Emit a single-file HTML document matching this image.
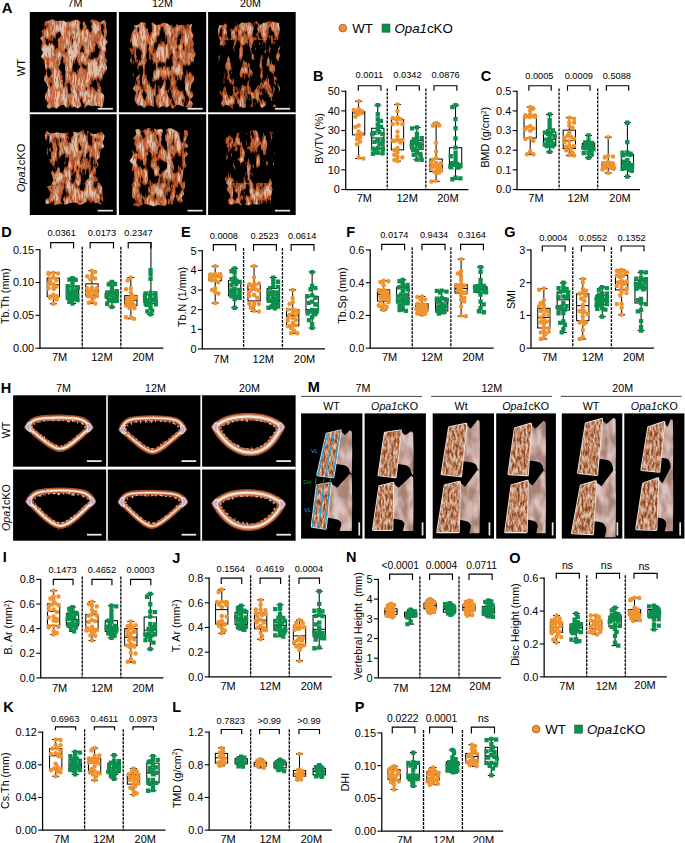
<!DOCTYPE html>
<html><head><meta charset="utf-8"><title>Figure</title>
<style>html,body{margin:0;padding:0;background:#fff}svg{display:block}</style></head>
<body>
<svg width="685" height="843" viewBox="0 0 685 843" font-family="'Liberation Sans', sans-serif">
<defs><clipPath id="cA0"><polygon points="45.0,21.2 48.6,20.7 52.2,19.1 55.9,21.1 59.5,20.8 63.1,20.5 66.8,22.2 70.4,20.7 74.0,20.2 77.6,19.4 81.3,22.5 84.9,21.5 88.5,22.4 92.1,19.2 95.7,19.7 99.4,22.5 105.0,19.8 106.2,23.5 106.1,27.5 107.2,31.2 106.5,34.9 105.7,38.5 107.8,42.1 105.6,45.6 106.1,49.2 106.2,52.8 105.1,56.3 106.8,60.0 106.1,64.0 107.2,68.2 105.1,72.1 102.6,76.0 102.0,79.9 102.7,83.8 101.8,87.6 101.0,91.5 104.2,95.4 104.2,99.2 103.5,103.1 102.0,107.9 98.5,106.2 95.0,105.8 91.5,106.1 88.0,105.1 84.5,108.2 81.0,106.6 77.5,108.5 74.0,106.5 70.5,109.0 67.0,108.5 63.5,104.8 60.0,105.7 56.5,108.8 53.0,106.9 49.5,109.1 46.5,107.0 47.9,103.1 45.4,99.2 44.8,95.4 47.0,91.5 47.8,87.6 46.7,83.8 44.0,79.9 44.9,76.3 46.6,71.6 45.1,67.7 44.7,63.6 43.9,59.9 40.6,56.5 43.1,52.8 41.3,49.3 41.7,45.7 42.6,42.1 40.1,38.6 42.6,35.4 41.4,31.3 44.6,28.5 44.3,24.6"/></clipPath><filter id="t4_325" x="0" y="0" width="100%" height="100%" color-interpolation-filters="sRGB">
<feTurbulence type="fractalNoise" baseFrequency="0.15 0.065" numOctaves="3" seed="4" result="n"/>
<feTurbulence type="fractalNoise" baseFrequency="0.32 0.05" numOctaves="2" seed="54" result="n2"/>
<feColorMatrix in="n" type="matrix" values="1 0 0 0 0  1 0 0 0 0  1 0 0 0 0  0 0 0 0 1" result="g"/>
<feComponentTransfer in="g" result="col"><feFuncR type="table" tableValues="0.16 0.16 0.16 0.16 0.16 0.16 0.16 0.16 0.22 0.49 0.67 0.74 0.79 0.81 0.85 0.86 0.86 0.86 0.86 0.86 0.86 0.86 0.86 0.86 0.86"/><feFuncG type="table" tableValues="0.05 0.05 0.05 0.05 0.05 0.05 0.05 0.05 0.07 0.21 0.34 0.47 0.56 0.63 0.73 0.75 0.75 0.75 0.75 0.75 0.75 0.75 0.75 0.75 0.75"/><feFuncB type="table" tableValues="0.01 0.01 0.01 0.01 0.01 0.01 0.01 0.01 0.02 0.09 0.18 0.32 0.43 0.52 0.65 0.68 0.68 0.68 0.68 0.68 0.68 0.68 0.68 0.68 0.68"/></feComponentTransfer>
<feColorMatrix in="n" type="matrix" values="0 0 0 0 0  0 0 0 0 0  0 0 0 0 0  20 0 0 0 -6.500" result="m"/>
<feComposite in="col" in2="m" operator="in" result="tex"/>
<feColorMatrix in="n2" type="matrix" values="0 0 0 0 0.76  0 0 0 0 0.32  0 0 0 0 0.14  0 1 0 0 0" result="r0"/>
<feComponentTransfer in="r0" result="rd"><feFuncA type="table" tableValues="0 0 0 0 0 0 0 0 0 0 0 0.49 0.9 0.5 0 0 0 0 0 0 0 0 0 0 0"/></feComponentTransfer>
<feColorMatrix in="n" type="matrix" values="0 0 0 0 0  0 0 0 0 0  0 0 0 0 0  20 0 0 0 -5.700" result="m2"/>
<feComposite in="rd" in2="m2" operator="in" result="rdm"/>
<feMerge result="tex2"><feMergeNode in="tex"/><feMergeNode in="rdm"/></feMerge>
<feComposite in="tex2" in2="SourceAlpha" operator="in"/>
</filter><filter id="t4_300" x="0" y="0" width="100%" height="100%" color-interpolation-filters="sRGB">
<feTurbulence type="fractalNoise" baseFrequency="0.15 0.065" numOctaves="3" seed="4" result="n"/>
<feTurbulence type="fractalNoise" baseFrequency="0.32 0.05" numOctaves="2" seed="54" result="n2"/>
<feColorMatrix in="n" type="matrix" values="1 0 0 0 0  1 0 0 0 0  1 0 0 0 0  0 0 0 0 1" result="g"/>
<feComponentTransfer in="g" result="col"><feFuncR type="table" tableValues="0.16 0.16 0.16 0.16 0.16 0.16 0.16 0.16 0.4 0.61 0.71 0.77 0.8 0.84 0.86 0.86 0.86 0.86 0.86 0.86 0.86 0.86 0.86 0.86 0.86"/><feFuncG type="table" tableValues="0.05 0.05 0.05 0.05 0.05 0.05 0.05 0.05 0.15 0.29 0.42 0.53 0.6 0.69 0.75 0.75 0.75 0.75 0.75 0.75 0.75 0.75 0.75 0.75 0.75"/><feFuncB type="table" tableValues="0.01 0.01 0.01 0.01 0.01 0.01 0.01 0.01 0.06 0.14 0.27 0.39 0.48 0.6 0.68 0.68 0.68 0.68 0.68 0.68 0.68 0.68 0.68 0.68 0.68"/></feComponentTransfer>
<feColorMatrix in="n" type="matrix" values="0 0 0 0 0  0 0 0 0 0  0 0 0 0 0  20 0 0 0 -6.000" result="m"/>
<feComposite in="col" in2="m" operator="in" result="tex"/>
<feColorMatrix in="n2" type="matrix" values="0 0 0 0 0.76  0 0 0 0 0.32  0 0 0 0 0.14  0 1 0 0 0" result="r0"/>
<feComponentTransfer in="r0" result="rd"><feFuncA type="table" tableValues="0 0 0 0 0 0 0 0 0 0 0 0.49 0.9 0.5 0 0 0 0 0 0 0 0 0 0 0"/></feComponentTransfer>
<feColorMatrix in="n" type="matrix" values="0 0 0 0 0  0 0 0 0 0  0 0 0 0 0  20 0 0 0 -5.200" result="m2"/>
<feComposite in="rd" in2="m2" operator="in" result="rdm"/>
<feMerge result="tex2"><feMergeNode in="tex"/><feMergeNode in="rdm"/></feMerge>
<feComposite in="tex2" in2="SourceAlpha" operator="in"/>
</filter><filter id="t4_320" x="0" y="0" width="100%" height="100%" color-interpolation-filters="sRGB">
<feTurbulence type="fractalNoise" baseFrequency="0.15 0.065" numOctaves="3" seed="4" result="n"/>
<feTurbulence type="fractalNoise" baseFrequency="0.32 0.05" numOctaves="2" seed="54" result="n2"/>
<feColorMatrix in="n" type="matrix" values="1 0 0 0 0  1 0 0 0 0  1 0 0 0 0  0 0 0 0 1" result="g"/>
<feComponentTransfer in="g" result="col"><feFuncR type="table" tableValues="0.16 0.16 0.16 0.16 0.16 0.16 0.16 0.16 0.26 0.51 0.68 0.75 0.79 0.82 0.86 0.86 0.86 0.86 0.86 0.86 0.86 0.86 0.86 0.86 0.86"/><feFuncG type="table" tableValues="0.05 0.05 0.05 0.05 0.05 0.05 0.05 0.05 0.09 0.22 0.36 0.49 0.57 0.64 0.74 0.75 0.75 0.75 0.75 0.75 0.75 0.75 0.75 0.75 0.75"/><feFuncB type="table" tableValues="0.01 0.01 0.01 0.01 0.01 0.01 0.01 0.01 0.03 0.1 0.2 0.34 0.44 0.53 0.66 0.68 0.68 0.68 0.68 0.68 0.68 0.68 0.68 0.68 0.68"/></feComponentTransfer>
<feColorMatrix in="n" type="matrix" values="0 0 0 0 0  0 0 0 0 0  0 0 0 0 0  20 0 0 0 -6.400" result="m"/>
<feComposite in="col" in2="m" operator="in" result="tex"/>
<feColorMatrix in="n2" type="matrix" values="0 0 0 0 0.76  0 0 0 0 0.32  0 0 0 0 0.14  0 1 0 0 0" result="r0"/>
<feComponentTransfer in="r0" result="rd"><feFuncA type="table" tableValues="0 0 0 0 0 0 0 0 0 0 0 0.49 0.9 0.5 0 0 0 0 0 0 0 0 0 0 0"/></feComponentTransfer>
<feColorMatrix in="n" type="matrix" values="0 0 0 0 0  0 0 0 0 0  0 0 0 0 0  20 0 0 0 -5.600" result="m2"/>
<feComposite in="rd" in2="m2" operator="in" result="rdm"/>
<feMerge result="tex2"><feMergeNode in="tex"/><feMergeNode in="rdm"/></feMerge>
<feComposite in="tex2" in2="SourceAlpha" operator="in"/>
</filter><filter id="t4_310" x="0" y="0" width="100%" height="100%" color-interpolation-filters="sRGB">
<feTurbulence type="fractalNoise" baseFrequency="0.15 0.065" numOctaves="3" seed="4" result="n"/>
<feTurbulence type="fractalNoise" baseFrequency="0.32 0.05" numOctaves="2" seed="54" result="n2"/>
<feColorMatrix in="n" type="matrix" values="1 0 0 0 0  1 0 0 0 0  1 0 0 0 0  0 0 0 0 1" result="g"/>
<feComponentTransfer in="g" result="col"><feFuncR type="table" tableValues="0.16 0.16 0.16 0.16 0.16 0.16 0.16 0.16 0.33 0.56 0.69 0.77 0.8 0.83 0.86 0.86 0.86 0.86 0.86 0.86 0.86 0.86 0.86 0.86 0.86"/><feFuncG type="table" tableValues="0.05 0.05 0.05 0.05 0.05 0.05 0.05 0.05 0.12 0.25 0.39 0.52 0.59 0.67 0.75 0.75 0.75 0.75 0.75 0.75 0.75 0.75 0.75 0.75 0.75"/><feFuncB type="table" tableValues="0.01 0.01 0.01 0.01 0.01 0.01 0.01 0.01 0.04 0.12 0.23 0.37 0.46 0.57 0.68 0.68 0.68 0.68 0.68 0.68 0.68 0.68 0.68 0.68 0.68"/></feComponentTransfer>
<feColorMatrix in="n" type="matrix" values="0 0 0 0 0  0 0 0 0 0  0 0 0 0 0  20 0 0 0 -6.200" result="m"/>
<feComposite in="col" in2="m" operator="in" result="tex"/>
<feColorMatrix in="n2" type="matrix" values="0 0 0 0 0.76  0 0 0 0 0.32  0 0 0 0 0.14  0 1 0 0 0" result="r0"/>
<feComponentTransfer in="r0" result="rd"><feFuncA type="table" tableValues="0 0 0 0 0 0 0 0 0 0 0 0.49 0.9 0.5 0 0 0 0 0 0 0 0 0 0 0"/></feComponentTransfer>
<feColorMatrix in="n" type="matrix" values="0 0 0 0 0  0 0 0 0 0  0 0 0 0 0  20 0 0 0 -5.400" result="m2"/>
<feComposite in="rd" in2="m2" operator="in" result="rdm"/>
<feMerge result="tex2"><feMergeNode in="tex"/><feMergeNode in="rdm"/></feMerge>
<feComposite in="tex2" in2="SourceAlpha" operator="in"/>
</filter><clipPath id="cA1"><polygon points="134.0,25.3 137.7,25.0 141.4,21.9 145.1,22.7 148.8,24.9 152.4,22.3 156.1,25.3 159.8,24.5 163.5,22.4 167.2,23.4 170.9,25.8 174.6,21.8 178.2,25.3 181.9,25.1 185.6,22.8 189.3,24.8 192.1,24.0 191.2,27.8 191.4,31.6 193.7,35.3 192.3,39.1 194.0,42.9 193.1,46.7 193.6,50.5 195.9,54.2 193.9,58.0 194.0,61.9 195.0,65.8 191.8,69.5 191.3,73.3 194.4,77.4 193.7,81.2 190.9,84.9 190.5,88.6 192.7,92.4 193.4,96.1 190.0,99.6 193.1,103.4 191.0,108.7 187.4,107.5 183.8,106.7 180.2,105.3 176.6,105.0 173.0,109.0 169.4,105.8 165.8,107.9 162.2,105.9 158.6,108.4 155.0,107.4 151.4,106.1 147.8,105.6 144.2,108.0 140.6,105.1 138.2,106.8 136.2,103.4 134.5,99.9 135.0,96.1 136.0,92.2 132.7,88.9 135.3,84.8 135.5,81.1 133.9,77.7 132.5,74.2 133.6,70.4 132.5,66.9 131.1,63.5 129.7,60.0 131.8,56.1 131.0,52.0 128.9,47.9 128.7,43.9 130.3,39.9 130.9,35.8 132.1,31.9 134.8,28.3"/></clipPath><filter id="t9_370" x="0" y="0" width="100%" height="100%" color-interpolation-filters="sRGB">
<feTurbulence type="fractalNoise" baseFrequency="0.15 0.065" numOctaves="3" seed="9" result="n"/>
<feTurbulence type="fractalNoise" baseFrequency="0.32 0.05" numOctaves="2" seed="59" result="n2"/>
<feColorMatrix in="n" type="matrix" values="1 0 0 0 0  1 0 0 0 0  1 0 0 0 0  0 0 0 0 1" result="g"/>
<feComponentTransfer in="g" result="col"><feFuncR type="table" tableValues="0.16 0.16 0.16 0.16 0.16 0.16 0.16 0.16 0.16 0.2 0.47 0.66 0.74 0.78 0.81 0.85 0.86 0.86 0.86 0.86 0.86 0.86 0.86 0.86 0.86"/><feFuncG type="table" tableValues="0.05 0.05 0.05 0.05 0.05 0.05 0.05 0.05 0.05 0.06 0.19 0.33 0.46 0.56 0.63 0.72 0.75 0.75 0.75 0.75 0.75 0.75 0.75 0.75 0.75"/><feFuncB type="table" tableValues="0.01 0.01 0.01 0.01 0.01 0.01 0.01 0.01 0.01 0.02 0.08 0.17 0.31 0.42 0.51 0.64 0.68 0.68 0.68 0.68 0.68 0.68 0.68 0.68 0.68"/></feComponentTransfer>
<feColorMatrix in="n" type="matrix" values="0 0 0 0 0  0 0 0 0 0  0 0 0 0 0  20 0 0 0 -7.400" result="m"/>
<feComposite in="col" in2="m" operator="in" result="tex"/>
<feColorMatrix in="n2" type="matrix" values="0 0 0 0 0.76  0 0 0 0 0.32  0 0 0 0 0.14  0 1 0 0 0" result="r0"/>
<feComponentTransfer in="r0" result="rd"><feFuncA type="table" tableValues="0 0 0 0 0 0 0 0 0 0 0 0.49 0.9 0.5 0 0 0 0 0 0 0 0 0 0 0"/></feComponentTransfer>
<feColorMatrix in="n" type="matrix" values="0 0 0 0 0  0 0 0 0 0  0 0 0 0 0  20 0 0 0 -6.600" result="m2"/>
<feComposite in="rd" in2="m2" operator="in" result="rdm"/>
<feMerge result="tex2"><feMergeNode in="tex"/><feMergeNode in="rdm"/></feMerge>
<feComposite in="tex2" in2="SourceAlpha" operator="in"/>
</filter><filter id="t9_470" x="0" y="0" width="100%" height="100%" color-interpolation-filters="sRGB">
<feTurbulence type="fractalNoise" baseFrequency="0.15 0.065" numOctaves="3" seed="9" result="n"/>
<feTurbulence type="fractalNoise" baseFrequency="0.32 0.05" numOctaves="2" seed="59" result="n2"/>
<feColorMatrix in="n" type="matrix" values="1 0 0 0 0  1 0 0 0 0  1 0 0 0 0  0 0 0 0 1" result="g"/>
<feComponentTransfer in="g" result="col"><feFuncR type="table" tableValues="0.16 0.16 0.16 0.16 0.16 0.16 0.16 0.16 0.16 0.16 0.16 0.16 0.38 0.59 0.71 0.77 0.8 0.83 0.86 0.86 0.86 0.86 0.86 0.86 0.86"/><feFuncG type="table" tableValues="0.05 0.05 0.05 0.05 0.05 0.05 0.05 0.05 0.05 0.05 0.05 0.05 0.14 0.28 0.41 0.53 0.6 0.68 0.75 0.75 0.75 0.75 0.75 0.75 0.75"/><feFuncB type="table" tableValues="0.01 0.01 0.01 0.01 0.01 0.01 0.01 0.01 0.01 0.01 0.01 0.01 0.05 0.13 0.25 0.39 0.48 0.59 0.68 0.68 0.68 0.68 0.68 0.68 0.68"/></feComponentTransfer>
<feColorMatrix in="n" type="matrix" values="0 0 0 0 0  0 0 0 0 0  0 0 0 0 0  20 0 0 0 -9.400" result="m"/>
<feComposite in="col" in2="m" operator="in" result="tex"/>
<feColorMatrix in="n2" type="matrix" values="0 0 0 0 0.76  0 0 0 0 0.32  0 0 0 0 0.14  0 1 0 0 0" result="r0"/>
<feComponentTransfer in="r0" result="rd"><feFuncA type="table" tableValues="0 0 0 0 0 0 0 0 0 0 0 0.49 0.9 0.5 0 0 0 0 0 0 0 0 0 0 0"/></feComponentTransfer>
<feColorMatrix in="n" type="matrix" values="0 0 0 0 0  0 0 0 0 0  0 0 0 0 0  20 0 0 0 -8.600" result="m2"/>
<feComposite in="rd" in2="m2" operator="in" result="rdm"/>
<feMerge result="tex2"><feMergeNode in="tex"/><feMergeNode in="rdm"/></feMerge>
<feComposite in="tex2" in2="SourceAlpha" operator="in"/>
</filter><filter id="t9_400" x="0" y="0" width="100%" height="100%" color-interpolation-filters="sRGB">
<feTurbulence type="fractalNoise" baseFrequency="0.15 0.065" numOctaves="3" seed="9" result="n"/>
<feTurbulence type="fractalNoise" baseFrequency="0.32 0.05" numOctaves="2" seed="59" result="n2"/>
<feColorMatrix in="n" type="matrix" values="1 0 0 0 0  1 0 0 0 0  1 0 0 0 0  0 0 0 0 1" result="g"/>
<feComponentTransfer in="g" result="col"><feFuncR type="table" tableValues="0.16 0.16 0.16 0.16 0.16 0.16 0.16 0.16 0.16 0.16 0.28 0.53 0.68 0.76 0.79 0.82 0.86 0.86 0.86 0.86 0.86 0.86 0.86 0.86 0.86"/><feFuncG type="table" tableValues="0.05 0.05 0.05 0.05 0.05 0.05 0.05 0.05 0.05 0.05 0.1 0.23 0.37 0.5 0.58 0.65 0.75 0.75 0.75 0.75 0.75 0.75 0.75 0.75 0.75"/><feFuncB type="table" tableValues="0.01 0.01 0.01 0.01 0.01 0.01 0.01 0.01 0.01 0.01 0.03 0.11 0.21 0.35 0.45 0.55 0.67 0.68 0.68 0.68 0.68 0.68 0.68 0.68 0.68"/></feComponentTransfer>
<feColorMatrix in="n" type="matrix" values="0 0 0 0 0  0 0 0 0 0  0 0 0 0 0  20 0 0 0 -8.000" result="m"/>
<feComposite in="col" in2="m" operator="in" result="tex"/>
<feColorMatrix in="n2" type="matrix" values="0 0 0 0 0.76  0 0 0 0 0.32  0 0 0 0 0.14  0 1 0 0 0" result="r0"/>
<feComponentTransfer in="r0" result="rd"><feFuncA type="table" tableValues="0 0 0 0 0 0 0 0 0 0 0 0.49 0.9 0.5 0 0 0 0 0 0 0 0 0 0 0"/></feComponentTransfer>
<feColorMatrix in="n" type="matrix" values="0 0 0 0 0  0 0 0 0 0  0 0 0 0 0  20 0 0 0 -7.200" result="m2"/>
<feComposite in="rd" in2="m2" operator="in" result="rdm"/>
<feMerge result="tex2"><feMergeNode in="tex"/><feMergeNode in="rdm"/></feMerge>
<feComposite in="tex2" in2="SourceAlpha" operator="in"/>
</filter><filter id="t9_375" x="0" y="0" width="100%" height="100%" color-interpolation-filters="sRGB">
<feTurbulence type="fractalNoise" baseFrequency="0.15 0.065" numOctaves="3" seed="9" result="n"/>
<feTurbulence type="fractalNoise" baseFrequency="0.32 0.05" numOctaves="2" seed="59" result="n2"/>
<feColorMatrix in="n" type="matrix" values="1 0 0 0 0  1 0 0 0 0  1 0 0 0 0  0 0 0 0 1" result="g"/>
<feComponentTransfer in="g" result="col"><feFuncR type="table" tableValues="0.16 0.16 0.16 0.16 0.16 0.16 0.16 0.16 0.16 0.16 0.45 0.64 0.73 0.78 0.81 0.84 0.86 0.86 0.86 0.86 0.86 0.86 0.86 0.86 0.86"/><feFuncG type="table" tableValues="0.05 0.05 0.05 0.05 0.05 0.05 0.05 0.05 0.05 0.05 0.18 0.32 0.44 0.55 0.62 0.71 0.75 0.75 0.75 0.75 0.75 0.75 0.75 0.75 0.75"/><feFuncB type="table" tableValues="0.01 0.01 0.01 0.01 0.01 0.01 0.01 0.01 0.01 0.01 0.07 0.16 0.29 0.41 0.5 0.62 0.68 0.68 0.68 0.68 0.68 0.68 0.68 0.68 0.68"/></feComponentTransfer>
<feColorMatrix in="n" type="matrix" values="0 0 0 0 0  0 0 0 0 0  0 0 0 0 0  20 0 0 0 -7.500" result="m"/>
<feComposite in="col" in2="m" operator="in" result="tex"/>
<feColorMatrix in="n2" type="matrix" values="0 0 0 0 0.76  0 0 0 0 0.32  0 0 0 0 0.14  0 1 0 0 0" result="r0"/>
<feComponentTransfer in="r0" result="rd"><feFuncA type="table" tableValues="0 0 0 0 0 0 0 0 0 0 0 0.49 0.9 0.5 0 0 0 0 0 0 0 0 0 0 0"/></feComponentTransfer>
<feColorMatrix in="n" type="matrix" values="0 0 0 0 0  0 0 0 0 0  0 0 0 0 0  20 0 0 0 -6.700" result="m2"/>
<feComposite in="rd" in2="m2" operator="in" result="rdm"/>
<feMerge result="tex2"><feMergeNode in="tex"/><feMergeNode in="rdm"/></feMerge>
<feComposite in="tex2" in2="SourceAlpha" operator="in"/>
</filter><filter id="t9_390" x="0" y="0" width="100%" height="100%" color-interpolation-filters="sRGB">
<feTurbulence type="fractalNoise" baseFrequency="0.15 0.065" numOctaves="3" seed="9" result="n"/>
<feTurbulence type="fractalNoise" baseFrequency="0.32 0.05" numOctaves="2" seed="59" result="n2"/>
<feColorMatrix in="n" type="matrix" values="1 0 0 0 0  1 0 0 0 0  1 0 0 0 0  0 0 0 0 1" result="g"/>
<feComponentTransfer in="g" result="col"><feFuncR type="table" tableValues="0.16 0.16 0.16 0.16 0.16 0.16 0.16 0.16 0.16 0.16 0.35 0.57 0.7 0.77 0.8 0.83 0.86 0.86 0.86 0.86 0.86 0.86 0.86 0.86 0.86"/><feFuncG type="table" tableValues="0.05 0.05 0.05 0.05 0.05 0.05 0.05 0.05 0.05 0.05 0.13 0.27 0.4 0.52 0.59 0.67 0.75 0.75 0.75 0.75 0.75 0.75 0.75 0.75 0.75"/><feFuncB type="table" tableValues="0.01 0.01 0.01 0.01 0.01 0.01 0.01 0.01 0.01 0.01 0.05 0.13 0.24 0.38 0.47 0.58 0.68 0.68 0.68 0.68 0.68 0.68 0.68 0.68 0.68"/></feComponentTransfer>
<feColorMatrix in="n" type="matrix" values="0 0 0 0 0  0 0 0 0 0  0 0 0 0 0  20 0 0 0 -7.800" result="m"/>
<feComposite in="col" in2="m" operator="in" result="tex"/>
<feColorMatrix in="n2" type="matrix" values="0 0 0 0 0.76  0 0 0 0 0.32  0 0 0 0 0.14  0 1 0 0 0" result="r0"/>
<feComponentTransfer in="r0" result="rd"><feFuncA type="table" tableValues="0 0 0 0 0 0 0 0 0 0 0 0.49 0.9 0.5 0 0 0 0 0 0 0 0 0 0 0"/></feComponentTransfer>
<feColorMatrix in="n" type="matrix" values="0 0 0 0 0  0 0 0 0 0  0 0 0 0 0  20 0 0 0 -7.000" result="m2"/>
<feComposite in="rd" in2="m2" operator="in" result="rdm"/>
<feMerge result="tex2"><feMergeNode in="tex"/><feMergeNode in="rdm"/></feMerge>
<feComposite in="tex2" in2="SourceAlpha" operator="in"/>
</filter><filter id="t9_420" x="0" y="0" width="100%" height="100%" color-interpolation-filters="sRGB">
<feTurbulence type="fractalNoise" baseFrequency="0.15 0.065" numOctaves="3" seed="9" result="n"/>
<feTurbulence type="fractalNoise" baseFrequency="0.32 0.05" numOctaves="2" seed="59" result="n2"/>
<feColorMatrix in="n" type="matrix" values="1 0 0 0 0  1 0 0 0 0  1 0 0 0 0  0 0 0 0 1" result="g"/>
<feComponentTransfer in="g" result="col"><feFuncR type="table" tableValues="0.16 0.16 0.16 0.16 0.16 0.16 0.16 0.16 0.16 0.16 0.16 0.43 0.63 0.72 0.78 0.8 0.84 0.86 0.86 0.86 0.86 0.86 0.86 0.86 0.86"/><feFuncG type="table" tableValues="0.05 0.05 0.05 0.05 0.05 0.05 0.05 0.05 0.05 0.05 0.05 0.17 0.3 0.43 0.54 0.61 0.7 0.75 0.75 0.75 0.75 0.75 0.75 0.75 0.75"/><feFuncB type="table" tableValues="0.01 0.01 0.01 0.01 0.01 0.01 0.01 0.01 0.01 0.01 0.01 0.06 0.15 0.28 0.4 0.49 0.61 0.68 0.68 0.68 0.68 0.68 0.68 0.68 0.68"/></feComponentTransfer>
<feColorMatrix in="n" type="matrix" values="0 0 0 0 0  0 0 0 0 0  0 0 0 0 0  20 0 0 0 -8.400" result="m"/>
<feComposite in="col" in2="m" operator="in" result="tex"/>
<feColorMatrix in="n2" type="matrix" values="0 0 0 0 0.76  0 0 0 0 0.32  0 0 0 0 0.14  0 1 0 0 0" result="r0"/>
<feComponentTransfer in="r0" result="rd"><feFuncA type="table" tableValues="0 0 0 0 0 0 0 0 0 0 0 0.49 0.9 0.5 0 0 0 0 0 0 0 0 0 0 0"/></feComponentTransfer>
<feColorMatrix in="n" type="matrix" values="0 0 0 0 0  0 0 0 0 0  0 0 0 0 0  20 0 0 0 -7.600" result="m2"/>
<feComposite in="rd" in2="m2" operator="in" result="rdm"/>
<feMerge result="tex2"><feMergeNode in="tex"/><feMergeNode in="rdm"/></feMerge>
<feComposite in="tex2" in2="SourceAlpha" operator="in"/>
</filter><filter id="t9_440" x="0" y="0" width="100%" height="100%" color-interpolation-filters="sRGB">
<feTurbulence type="fractalNoise" baseFrequency="0.15 0.065" numOctaves="3" seed="9" result="n"/>
<feTurbulence type="fractalNoise" baseFrequency="0.32 0.05" numOctaves="2" seed="59" result="n2"/>
<feColorMatrix in="n" type="matrix" values="1 0 0 0 0  1 0 0 0 0  1 0 0 0 0  0 0 0 0 1" result="g"/>
<feComponentTransfer in="g" result="col"><feFuncR type="table" tableValues="0.16 0.16 0.16 0.16 0.16 0.16 0.16 0.16 0.16 0.16 0.16 0.29 0.54 0.69 0.76 0.79 0.82 0.86 0.86 0.86 0.86 0.86 0.86 0.86 0.86"/><feFuncG type="table" tableValues="0.05 0.05 0.05 0.05 0.05 0.05 0.05 0.05 0.05 0.05 0.05 0.1 0.24 0.37 0.5 0.58 0.66 0.75 0.75 0.75 0.75 0.75 0.75 0.75 0.75"/><feFuncB type="table" tableValues="0.01 0.01 0.01 0.01 0.01 0.01 0.01 0.01 0.01 0.01 0.01 0.03 0.11 0.22 0.36 0.45 0.55 0.68 0.68 0.68 0.68 0.68 0.68 0.68 0.68"/></feComponentTransfer>
<feColorMatrix in="n" type="matrix" values="0 0 0 0 0  0 0 0 0 0  0 0 0 0 0  20 0 0 0 -8.800" result="m"/>
<feComposite in="col" in2="m" operator="in" result="tex"/>
<feColorMatrix in="n2" type="matrix" values="0 0 0 0 0.76  0 0 0 0 0.32  0 0 0 0 0.14  0 1 0 0 0" result="r0"/>
<feComponentTransfer in="r0" result="rd"><feFuncA type="table" tableValues="0 0 0 0 0 0 0 0 0 0 0 0.49 0.9 0.5 0 0 0 0 0 0 0 0 0 0 0"/></feComponentTransfer>
<feColorMatrix in="n" type="matrix" values="0 0 0 0 0  0 0 0 0 0  0 0 0 0 0  20 0 0 0 -8.000" result="m2"/>
<feComposite in="rd" in2="m2" operator="in" result="rdm"/>
<feMerge result="tex2"><feMergeNode in="tex"/><feMergeNode in="rdm"/></feMerge>
<feComposite in="tex2" in2="SourceAlpha" operator="in"/>
</filter><filter id="t9_450" x="0" y="0" width="100%" height="100%" color-interpolation-filters="sRGB">
<feTurbulence type="fractalNoise" baseFrequency="0.15 0.065" numOctaves="3" seed="9" result="n"/>
<feTurbulence type="fractalNoise" baseFrequency="0.32 0.05" numOctaves="2" seed="59" result="n2"/>
<feColorMatrix in="n" type="matrix" values="1 0 0 0 0  1 0 0 0 0  1 0 0 0 0  0 0 0 0 1" result="g"/>
<feComponentTransfer in="g" result="col"><feFuncR type="table" tableValues="0.16 0.16 0.16 0.16 0.16 0.16 0.16 0.16 0.16 0.16 0.16 0.22 0.49 0.67 0.74 0.79 0.81 0.85 0.86 0.86 0.86 0.86 0.86 0.86 0.86"/><feFuncG type="table" tableValues="0.05 0.05 0.05 0.05 0.05 0.05 0.05 0.05 0.05 0.05 0.05 0.07 0.21 0.34 0.47 0.56 0.63 0.73 0.75 0.75 0.75 0.75 0.75 0.75 0.75"/><feFuncB type="table" tableValues="0.01 0.01 0.01 0.01 0.01 0.01 0.01 0.01 0.01 0.01 0.01 0.02 0.09 0.18 0.32 0.43 0.52 0.65 0.68 0.68 0.68 0.68 0.68 0.68 0.68"/></feComponentTransfer>
<feColorMatrix in="n" type="matrix" values="0 0 0 0 0  0 0 0 0 0  0 0 0 0 0  20 0 0 0 -9.000" result="m"/>
<feComposite in="col" in2="m" operator="in" result="tex"/>
<feColorMatrix in="n2" type="matrix" values="0 0 0 0 0.76  0 0 0 0 0.32  0 0 0 0 0.14  0 1 0 0 0" result="r0"/>
<feComponentTransfer in="r0" result="rd"><feFuncA type="table" tableValues="0 0 0 0 0 0 0 0 0 0 0 0.49 0.9 0.5 0 0 0 0 0 0 0 0 0 0 0"/></feComponentTransfer>
<feColorMatrix in="n" type="matrix" values="0 0 0 0 0  0 0 0 0 0  0 0 0 0 0  20 0 0 0 -8.200" result="m2"/>
<feComposite in="rd" in2="m2" operator="in" result="rdm"/>
<feMerge result="tex2"><feMergeNode in="tex"/><feMergeNode in="rdm"/></feMerge>
<feComposite in="tex2" in2="SourceAlpha" operator="in"/>
</filter><filter id="t9_380" x="0" y="0" width="100%" height="100%" color-interpolation-filters="sRGB">
<feTurbulence type="fractalNoise" baseFrequency="0.15 0.065" numOctaves="3" seed="9" result="n"/>
<feTurbulence type="fractalNoise" baseFrequency="0.32 0.05" numOctaves="2" seed="59" result="n2"/>
<feColorMatrix in="n" type="matrix" values="1 0 0 0 0  1 0 0 0 0  1 0 0 0 0  0 0 0 0 1" result="g"/>
<feComponentTransfer in="g" result="col"><feFuncR type="table" tableValues="0.16 0.16 0.16 0.16 0.16 0.16 0.16 0.16 0.16 0.16 0.42 0.62 0.72 0.78 0.8 0.84 0.86 0.86 0.86 0.86 0.86 0.86 0.86 0.86 0.86"/><feFuncG type="table" tableValues="0.05 0.05 0.05 0.05 0.05 0.05 0.05 0.05 0.05 0.05 0.16 0.3 0.43 0.54 0.61 0.7 0.75 0.75 0.75 0.75 0.75 0.75 0.75 0.75 0.75"/><feFuncB type="table" tableValues="0.01 0.01 0.01 0.01 0.01 0.01 0.01 0.01 0.01 0.01 0.06 0.15 0.28 0.4 0.49 0.61 0.68 0.68 0.68 0.68 0.68 0.68 0.68 0.68 0.68"/></feComponentTransfer>
<feColorMatrix in="n" type="matrix" values="0 0 0 0 0  0 0 0 0 0  0 0 0 0 0  20 0 0 0 -7.600" result="m"/>
<feComposite in="col" in2="m" operator="in" result="tex"/>
<feColorMatrix in="n2" type="matrix" values="0 0 0 0 0.76  0 0 0 0 0.32  0 0 0 0 0.14  0 1 0 0 0" result="r0"/>
<feComponentTransfer in="r0" result="rd"><feFuncA type="table" tableValues="0 0 0 0 0 0 0 0 0 0 0 0.49 0.9 0.5 0 0 0 0 0 0 0 0 0 0 0"/></feComponentTransfer>
<feColorMatrix in="n" type="matrix" values="0 0 0 0 0  0 0 0 0 0  0 0 0 0 0  20 0 0 0 -6.800" result="m2"/>
<feComposite in="rd" in2="m2" operator="in" result="rdm"/>
<feMerge result="tex2"><feMergeNode in="tex"/><feMergeNode in="rdm"/></feMerge>
<feComposite in="tex2" in2="SourceAlpha" operator="in"/>
</filter><filter id="t9_410" x="0" y="0" width="100%" height="100%" color-interpolation-filters="sRGB">
<feTurbulence type="fractalNoise" baseFrequency="0.15 0.065" numOctaves="3" seed="9" result="n"/>
<feTurbulence type="fractalNoise" baseFrequency="0.32 0.05" numOctaves="2" seed="59" result="n2"/>
<feColorMatrix in="n" type="matrix" values="1 0 0 0 0  1 0 0 0 0  1 0 0 0 0  0 0 0 0 1" result="g"/>
<feComponentTransfer in="g" result="col"><feFuncR type="table" tableValues="0.16 0.16 0.16 0.16 0.16 0.16 0.16 0.16 0.16 0.16 0.21 0.48 0.67 0.74 0.78 0.81 0.85 0.86 0.86 0.86 0.86 0.86 0.86 0.86 0.86"/><feFuncG type="table" tableValues="0.05 0.05 0.05 0.05 0.05 0.05 0.05 0.05 0.05 0.05 0.07 0.2 0.34 0.47 0.56 0.63 0.72 0.75 0.75 0.75 0.75 0.75 0.75 0.75 0.75"/><feFuncB type="table" tableValues="0.01 0.01 0.01 0.01 0.01 0.01 0.01 0.01 0.01 0.01 0.02 0.08 0.18 0.32 0.43 0.52 0.64 0.68 0.68 0.68 0.68 0.68 0.68 0.68 0.68"/></feComponentTransfer>
<feColorMatrix in="n" type="matrix" values="0 0 0 0 0  0 0 0 0 0  0 0 0 0 0  20 0 0 0 -8.200" result="m"/>
<feComposite in="col" in2="m" operator="in" result="tex"/>
<feColorMatrix in="n2" type="matrix" values="0 0 0 0 0.76  0 0 0 0 0.32  0 0 0 0 0.14  0 1 0 0 0" result="r0"/>
<feComponentTransfer in="r0" result="rd"><feFuncA type="table" tableValues="0 0 0 0 0 0 0 0 0 0 0 0.49 0.9 0.5 0 0 0 0 0 0 0 0 0 0 0"/></feComponentTransfer>
<feColorMatrix in="n" type="matrix" values="0 0 0 0 0  0 0 0 0 0  0 0 0 0 0  20 0 0 0 -7.400" result="m2"/>
<feComposite in="rd" in2="m2" operator="in" result="rdm"/>
<feMerge result="tex2"><feMergeNode in="tex"/><feMergeNode in="rdm"/></feMerge>
<feComposite in="tex2" in2="SourceAlpha" operator="in"/>
</filter><clipPath id="cA2"><polygon points="220.0,25.0 223.6,25.1 227.2,21.2 230.9,22.1 234.5,21.0 238.1,25.1 241.8,22.4 245.4,23.1 249.0,22.0 252.6,23.8 256.2,20.8 259.9,24.9 263.5,22.8 267.1,22.0 270.8,21.2 274.4,22.0 278.9,22.9 279.5,27.2 280.3,31.4 278.1,35.8 279.8,40.0 280.7,43.8 280.5,47.5 278.4,51.2 279.9,55.0 280.2,58.8 278.8,62.5 279.0,66.3 277.8,70.0 278.6,73.8 278.6,77.5 276.2,81.2 278.6,85.0 280.0,88.8 279.3,92.4 278.5,96.0 276.8,99.6 278.2,103.4 277.0,107.4 273.3,106.7 269.7,108.5 266.0,105.2 262.3,108.1 258.7,104.9 255.0,107.4 251.3,106.9 247.7,105.8 244.0,107.9 240.3,107.0 236.7,107.5 233.0,108.9 229.3,105.9 225.7,104.8 222.9,106.9 220.9,103.4 222.6,99.5 222.4,95.9 218.9,92.5 219.6,88.7 220.3,85.0 218.2,81.4 220.6,77.6 219.0,74.0 221.0,70.3 219.9,66.7 218.2,63.0 217.6,59.4 217.7,55.7 219.8,52.0 218.8,48.3 219.9,44.6 220.6,41.1 219.2,37.4 217.9,33.7 218.1,30.1 218.9,26.5"/></clipPath><filter id="t13_385" x="0" y="0" width="100%" height="100%" color-interpolation-filters="sRGB">
<feTurbulence type="fractalNoise" baseFrequency="0.15 0.065" numOctaves="3" seed="13" result="n"/>
<feTurbulence type="fractalNoise" baseFrequency="0.32 0.05" numOctaves="2" seed="63" result="n2"/>
<feColorMatrix in="n" type="matrix" values="1 0 0 0 0  1 0 0 0 0  1 0 0 0 0  0 0 0 0 1" result="g"/>
<feComponentTransfer in="g" result="col"><feFuncR type="table" tableValues="0.16 0.16 0.16 0.16 0.16 0.16 0.16 0.16 0.16 0.16 0.39 0.6 0.71 0.77 0.8 0.83 0.86 0.86 0.86 0.86 0.86 0.86 0.86 0.86 0.86"/><feFuncG type="table" tableValues="0.05 0.05 0.05 0.05 0.05 0.05 0.05 0.05 0.05 0.05 0.15 0.28 0.41 0.53 0.6 0.69 0.75 0.75 0.75 0.75 0.75 0.75 0.75 0.75 0.75"/><feFuncB type="table" tableValues="0.01 0.01 0.01 0.01 0.01 0.01 0.01 0.01 0.01 0.01 0.05 0.14 0.26 0.39 0.48 0.59 0.68 0.68 0.68 0.68 0.68 0.68 0.68 0.68 0.68"/></feComponentTransfer>
<feColorMatrix in="n" type="matrix" values="0 0 0 0 0  0 0 0 0 0  0 0 0 0 0  20 0 0 0 -7.700" result="m"/>
<feComposite in="col" in2="m" operator="in" result="tex"/>
<feColorMatrix in="n2" type="matrix" values="0 0 0 0 0.76  0 0 0 0 0.32  0 0 0 0 0.14  0 1 0 0 0" result="r0"/>
<feComponentTransfer in="r0" result="rd"><feFuncA type="table" tableValues="0 0 0 0 0 0 0 0 0 0 0 0.49 0.9 0.5 0 0 0 0 0 0 0 0 0 0 0"/></feComponentTransfer>
<feColorMatrix in="n" type="matrix" values="0 0 0 0 0  0 0 0 0 0  0 0 0 0 0  20 0 0 0 -6.900" result="m2"/>
<feComposite in="rd" in2="m2" operator="in" result="rdm"/>
<feMerge result="tex2"><feMergeNode in="tex"/><feMergeNode in="rdm"/></feMerge>
<feComposite in="tex2" in2="SourceAlpha" operator="in"/>
</filter><filter id="t13_560" x="0" y="0" width="100%" height="100%" color-interpolation-filters="sRGB">
<feTurbulence type="fractalNoise" baseFrequency="0.15 0.065" numOctaves="3" seed="13" result="n"/>
<feTurbulence type="fractalNoise" baseFrequency="0.32 0.05" numOctaves="2" seed="63" result="n2"/>
<feColorMatrix in="n" type="matrix" values="1 0 0 0 0  1 0 0 0 0  1 0 0 0 0  0 0 0 0 1" result="g"/>
<feComponentTransfer in="g" result="col"><feFuncR type="table" tableValues="0.16 0.16 0.16 0.16 0.16 0.16 0.16 0.16 0.16 0.16 0.16 0.16 0.16 0.16 0.33 0.56 0.69 0.77 0.8 0.83 0.86 0.86 0.86 0.86 0.86"/><feFuncG type="table" tableValues="0.05 0.05 0.05 0.05 0.05 0.05 0.05 0.05 0.05 0.05 0.05 0.05 0.05 0.05 0.12 0.25 0.39 0.52 0.59 0.67 0.75 0.75 0.75 0.75 0.75"/><feFuncB type="table" tableValues="0.01 0.01 0.01 0.01 0.01 0.01 0.01 0.01 0.01 0.01 0.01 0.01 0.01 0.01 0.04 0.12 0.23 0.37 0.46 0.57 0.68 0.68 0.68 0.68 0.68"/></feComponentTransfer>
<feColorMatrix in="n" type="matrix" values="0 0 0 0 0  0 0 0 0 0  0 0 0 0 0  20 0 0 0 -11.200" result="m"/>
<feComposite in="col" in2="m" operator="in" result="tex"/>
<feColorMatrix in="n2" type="matrix" values="0 0 0 0 0.76  0 0 0 0 0.32  0 0 0 0 0.14  0 1 0 0 0" result="r0"/>
<feComponentTransfer in="r0" result="rd"><feFuncA type="table" tableValues="0 0 0 0 0 0 0 0 0 0 0 0.49 0.9 0.5 0 0 0 0 0 0 0 0 0 0 0"/></feComponentTransfer>
<feColorMatrix in="n" type="matrix" values="0 0 0 0 0  0 0 0 0 0  0 0 0 0 0  20 0 0 0 -10.400" result="m2"/>
<feComposite in="rd" in2="m2" operator="in" result="rdm"/>
<feMerge result="tex2"><feMergeNode in="tex"/><feMergeNode in="rdm"/></feMerge>
<feComposite in="tex2" in2="SourceAlpha" operator="in"/>
</filter><filter id="t13_460" x="0" y="0" width="100%" height="100%" color-interpolation-filters="sRGB">
<feTurbulence type="fractalNoise" baseFrequency="0.15 0.065" numOctaves="3" seed="13" result="n"/>
<feTurbulence type="fractalNoise" baseFrequency="0.32 0.05" numOctaves="2" seed="63" result="n2"/>
<feColorMatrix in="n" type="matrix" values="1 0 0 0 0  1 0 0 0 0  1 0 0 0 0  0 0 0 0 1" result="g"/>
<feComponentTransfer in="g" result="col"><feFuncR type="table" tableValues="0.16 0.16 0.16 0.16 0.16 0.16 0.16 0.16 0.16 0.16 0.16 0.16 0.44 0.64 0.72 0.78 0.81 0.84 0.86 0.86 0.86 0.86 0.86 0.86 0.86"/><feFuncG type="table" tableValues="0.05 0.05 0.05 0.05 0.05 0.05 0.05 0.05 0.05 0.05 0.05 0.05 0.17 0.31 0.44 0.55 0.62 0.7 0.75 0.75 0.75 0.75 0.75 0.75 0.75"/><feFuncB type="table" tableValues="0.01 0.01 0.01 0.01 0.01 0.01 0.01 0.01 0.01 0.01 0.01 0.01 0.07 0.15 0.29 0.41 0.5 0.62 0.68 0.68 0.68 0.68 0.68 0.68 0.68"/></feComponentTransfer>
<feColorMatrix in="n" type="matrix" values="0 0 0 0 0  0 0 0 0 0  0 0 0 0 0  20 0 0 0 -9.200" result="m"/>
<feComposite in="col" in2="m" operator="in" result="tex"/>
<feColorMatrix in="n2" type="matrix" values="0 0 0 0 0.76  0 0 0 0 0.32  0 0 0 0 0.14  0 1 0 0 0" result="r0"/>
<feComponentTransfer in="r0" result="rd"><feFuncA type="table" tableValues="0 0 0 0 0 0 0 0 0 0 0 0.49 0.9 0.5 0 0 0 0 0 0 0 0 0 0 0"/></feComponentTransfer>
<feColorMatrix in="n" type="matrix" values="0 0 0 0 0  0 0 0 0 0  0 0 0 0 0  20 0 0 0 -8.400" result="m2"/>
<feComposite in="rd" in2="m2" operator="in" result="rdm"/>
<feMerge result="tex2"><feMergeNode in="tex"/><feMergeNode in="rdm"/></feMerge>
<feComposite in="tex2" in2="SourceAlpha" operator="in"/>
</filter><filter id="t13_410" x="0" y="0" width="100%" height="100%" color-interpolation-filters="sRGB">
<feTurbulence type="fractalNoise" baseFrequency="0.15 0.065" numOctaves="3" seed="13" result="n"/>
<feTurbulence type="fractalNoise" baseFrequency="0.32 0.05" numOctaves="2" seed="63" result="n2"/>
<feColorMatrix in="n" type="matrix" values="1 0 0 0 0  1 0 0 0 0  1 0 0 0 0  0 0 0 0 1" result="g"/>
<feComponentTransfer in="g" result="col"><feFuncR type="table" tableValues="0.16 0.16 0.16 0.16 0.16 0.16 0.16 0.16 0.16 0.16 0.21 0.48 0.67 0.74 0.78 0.81 0.85 0.86 0.86 0.86 0.86 0.86 0.86 0.86 0.86"/><feFuncG type="table" tableValues="0.05 0.05 0.05 0.05 0.05 0.05 0.05 0.05 0.05 0.05 0.07 0.2 0.34 0.47 0.56 0.63 0.72 0.75 0.75 0.75 0.75 0.75 0.75 0.75 0.75"/><feFuncB type="table" tableValues="0.01 0.01 0.01 0.01 0.01 0.01 0.01 0.01 0.01 0.01 0.02 0.08 0.18 0.32 0.43 0.52 0.64 0.68 0.68 0.68 0.68 0.68 0.68 0.68 0.68"/></feComponentTransfer>
<feColorMatrix in="n" type="matrix" values="0 0 0 0 0  0 0 0 0 0  0 0 0 0 0  20 0 0 0 -8.200" result="m"/>
<feComposite in="col" in2="m" operator="in" result="tex"/>
<feColorMatrix in="n2" type="matrix" values="0 0 0 0 0.76  0 0 0 0 0.32  0 0 0 0 0.14  0 1 0 0 0" result="r0"/>
<feComponentTransfer in="r0" result="rd"><feFuncA type="table" tableValues="0 0 0 0 0 0 0 0 0 0 0 0.49 0.9 0.5 0 0 0 0 0 0 0 0 0 0 0"/></feComponentTransfer>
<feColorMatrix in="n" type="matrix" values="0 0 0 0 0  0 0 0 0 0  0 0 0 0 0  20 0 0 0 -7.400" result="m2"/>
<feComposite in="rd" in2="m2" operator="in" result="rdm"/>
<feMerge result="tex2"><feMergeNode in="tex"/><feMergeNode in="rdm"/></feMerge>
<feComposite in="tex2" in2="SourceAlpha" operator="in"/>
</filter><filter id="t13_440" x="0" y="0" width="100%" height="100%" color-interpolation-filters="sRGB">
<feTurbulence type="fractalNoise" baseFrequency="0.15 0.065" numOctaves="3" seed="13" result="n"/>
<feTurbulence type="fractalNoise" baseFrequency="0.32 0.05" numOctaves="2" seed="63" result="n2"/>
<feColorMatrix in="n" type="matrix" values="1 0 0 0 0  1 0 0 0 0  1 0 0 0 0  0 0 0 0 1" result="g"/>
<feComponentTransfer in="g" result="col"><feFuncR type="table" tableValues="0.16 0.16 0.16 0.16 0.16 0.16 0.16 0.16 0.16 0.16 0.16 0.29 0.54 0.69 0.76 0.79 0.82 0.86 0.86 0.86 0.86 0.86 0.86 0.86 0.86"/><feFuncG type="table" tableValues="0.05 0.05 0.05 0.05 0.05 0.05 0.05 0.05 0.05 0.05 0.05 0.1 0.24 0.37 0.5 0.58 0.66 0.75 0.75 0.75 0.75 0.75 0.75 0.75 0.75"/><feFuncB type="table" tableValues="0.01 0.01 0.01 0.01 0.01 0.01 0.01 0.01 0.01 0.01 0.01 0.03 0.11 0.22 0.36 0.45 0.55 0.68 0.68 0.68 0.68 0.68 0.68 0.68 0.68"/></feComponentTransfer>
<feColorMatrix in="n" type="matrix" values="0 0 0 0 0  0 0 0 0 0  0 0 0 0 0  20 0 0 0 -8.800" result="m"/>
<feComposite in="col" in2="m" operator="in" result="tex"/>
<feColorMatrix in="n2" type="matrix" values="0 0 0 0 0.76  0 0 0 0 0.32  0 0 0 0 0.14  0 1 0 0 0" result="r0"/>
<feComponentTransfer in="r0" result="rd"><feFuncA type="table" tableValues="0 0 0 0 0 0 0 0 0 0 0 0.49 0.9 0.5 0 0 0 0 0 0 0 0 0 0 0"/></feComponentTransfer>
<feColorMatrix in="n" type="matrix" values="0 0 0 0 0  0 0 0 0 0  0 0 0 0 0  20 0 0 0 -8.000" result="m2"/>
<feComposite in="rd" in2="m2" operator="in" result="rdm"/>
<feMerge result="tex2"><feMergeNode in="tex"/><feMergeNode in="rdm"/></feMerge>
<feComposite in="tex2" in2="SourceAlpha" operator="in"/>
</filter><filter id="t13_470" x="0" y="0" width="100%" height="100%" color-interpolation-filters="sRGB">
<feTurbulence type="fractalNoise" baseFrequency="0.15 0.065" numOctaves="3" seed="13" result="n"/>
<feTurbulence type="fractalNoise" baseFrequency="0.32 0.05" numOctaves="2" seed="63" result="n2"/>
<feColorMatrix in="n" type="matrix" values="1 0 0 0 0  1 0 0 0 0  1 0 0 0 0  0 0 0 0 1" result="g"/>
<feComponentTransfer in="g" result="col"><feFuncR type="table" tableValues="0.16 0.16 0.16 0.16 0.16 0.16 0.16 0.16 0.16 0.16 0.16 0.16 0.38 0.59 0.71 0.77 0.8 0.83 0.86 0.86 0.86 0.86 0.86 0.86 0.86"/><feFuncG type="table" tableValues="0.05 0.05 0.05 0.05 0.05 0.05 0.05 0.05 0.05 0.05 0.05 0.05 0.14 0.28 0.41 0.53 0.6 0.68 0.75 0.75 0.75 0.75 0.75 0.75 0.75"/><feFuncB type="table" tableValues="0.01 0.01 0.01 0.01 0.01 0.01 0.01 0.01 0.01 0.01 0.01 0.01 0.05 0.13 0.25 0.39 0.48 0.59 0.68 0.68 0.68 0.68 0.68 0.68 0.68"/></feComponentTransfer>
<feColorMatrix in="n" type="matrix" values="0 0 0 0 0  0 0 0 0 0  0 0 0 0 0  20 0 0 0 -9.400" result="m"/>
<feComposite in="col" in2="m" operator="in" result="tex"/>
<feColorMatrix in="n2" type="matrix" values="0 0 0 0 0.76  0 0 0 0 0.32  0 0 0 0 0.14  0 1 0 0 0" result="r0"/>
<feComponentTransfer in="r0" result="rd"><feFuncA type="table" tableValues="0 0 0 0 0 0 0 0 0 0 0 0.49 0.9 0.5 0 0 0 0 0 0 0 0 0 0 0"/></feComponentTransfer>
<feColorMatrix in="n" type="matrix" values="0 0 0 0 0  0 0 0 0 0  0 0 0 0 0  20 0 0 0 -8.600" result="m2"/>
<feComposite in="rd" in2="m2" operator="in" result="rdm"/>
<feMerge result="tex2"><feMergeNode in="tex"/><feMergeNode in="rdm"/></feMerge>
<feComposite in="tex2" in2="SourceAlpha" operator="in"/>
</filter><filter id="t13_500" x="0" y="0" width="100%" height="100%" color-interpolation-filters="sRGB">
<feTurbulence type="fractalNoise" baseFrequency="0.15 0.065" numOctaves="3" seed="13" result="n"/>
<feTurbulence type="fractalNoise" baseFrequency="0.32 0.05" numOctaves="2" seed="63" result="n2"/>
<feColorMatrix in="n" type="matrix" values="1 0 0 0 0  1 0 0 0 0  1 0 0 0 0  0 0 0 0 1" result="g"/>
<feComponentTransfer in="g" result="col"><feFuncR type="table" tableValues="0.16 0.16 0.16 0.16 0.16 0.16 0.16 0.16 0.16 0.16 0.16 0.16 0.16 0.45 0.64 0.73 0.78 0.81 0.84 0.86 0.86 0.86 0.86 0.86 0.86"/><feFuncG type="table" tableValues="0.05 0.05 0.05 0.05 0.05 0.05 0.05 0.05 0.05 0.05 0.05 0.05 0.05 0.18 0.32 0.44 0.55 0.62 0.71 0.75 0.75 0.75 0.75 0.75 0.75"/><feFuncB type="table" tableValues="0.01 0.01 0.01 0.01 0.01 0.01 0.01 0.01 0.01 0.01 0.01 0.01 0.01 0.07 0.16 0.29 0.41 0.5 0.62 0.68 0.68 0.68 0.68 0.68 0.68"/></feComponentTransfer>
<feColorMatrix in="n" type="matrix" values="0 0 0 0 0  0 0 0 0 0  0 0 0 0 0  20 0 0 0 -10.000" result="m"/>
<feComposite in="col" in2="m" operator="in" result="tex"/>
<feColorMatrix in="n2" type="matrix" values="0 0 0 0 0.76  0 0 0 0 0.32  0 0 0 0 0.14  0 1 0 0 0" result="r0"/>
<feComponentTransfer in="r0" result="rd"><feFuncA type="table" tableValues="0 0 0 0 0 0 0 0 0 0 0 0.49 0.9 0.5 0 0 0 0 0 0 0 0 0 0 0"/></feComponentTransfer>
<feColorMatrix in="n" type="matrix" values="0 0 0 0 0  0 0 0 0 0  0 0 0 0 0  20 0 0 0 -9.200" result="m2"/>
<feComposite in="rd" in2="m2" operator="in" result="rdm"/>
<feMerge result="tex2"><feMergeNode in="tex"/><feMergeNode in="rdm"/></feMerge>
<feComposite in="tex2" in2="SourceAlpha" operator="in"/>
</filter><filter id="t13_530" x="0" y="0" width="100%" height="100%" color-interpolation-filters="sRGB">
<feTurbulence type="fractalNoise" baseFrequency="0.15 0.065" numOctaves="3" seed="13" result="n"/>
<feTurbulence type="fractalNoise" baseFrequency="0.32 0.05" numOctaves="2" seed="63" result="n2"/>
<feColorMatrix in="n" type="matrix" values="1 0 0 0 0  1 0 0 0 0  1 0 0 0 0  0 0 0 0 1" result="g"/>
<feComponentTransfer in="g" result="col"><feFuncR type="table" tableValues="0.16 0.16 0.16 0.16 0.16 0.16 0.16 0.16 0.16 0.16 0.16 0.16 0.16 0.25 0.5 0.67 0.75 0.79 0.82 0.85 0.86 0.86 0.86 0.86 0.86"/><feFuncG type="table" tableValues="0.05 0.05 0.05 0.05 0.05 0.05 0.05 0.05 0.05 0.05 0.05 0.05 0.05 0.08 0.22 0.35 0.48 0.57 0.64 0.73 0.75 0.75 0.75 0.75 0.75"/><feFuncB type="table" tableValues="0.01 0.01 0.01 0.01 0.01 0.01 0.01 0.01 0.01 0.01 0.01 0.01 0.01 0.02 0.1 0.19 0.33 0.44 0.53 0.66 0.68 0.68 0.68 0.68 0.68"/></feComponentTransfer>
<feColorMatrix in="n" type="matrix" values="0 0 0 0 0  0 0 0 0 0  0 0 0 0 0  20 0 0 0 -10.600" result="m"/>
<feComposite in="col" in2="m" operator="in" result="tex"/>
<feColorMatrix in="n2" type="matrix" values="0 0 0 0 0.76  0 0 0 0 0.32  0 0 0 0 0.14  0 1 0 0 0" result="r0"/>
<feComponentTransfer in="r0" result="rd"><feFuncA type="table" tableValues="0 0 0 0 0 0 0 0 0 0 0 0.49 0.9 0.5 0 0 0 0 0 0 0 0 0 0 0"/></feComponentTransfer>
<feColorMatrix in="n" type="matrix" values="0 0 0 0 0  0 0 0 0 0  0 0 0 0 0  20 0 0 0 -9.800" result="m2"/>
<feComposite in="rd" in2="m2" operator="in" result="rdm"/>
<feMerge result="tex2"><feMergeNode in="tex"/><feMergeNode in="rdm"/></feMerge>
<feComposite in="tex2" in2="SourceAlpha" operator="in"/>
</filter><filter id="t13_540" x="0" y="0" width="100%" height="100%" color-interpolation-filters="sRGB">
<feTurbulence type="fractalNoise" baseFrequency="0.15 0.065" numOctaves="3" seed="13" result="n"/>
<feTurbulence type="fractalNoise" baseFrequency="0.32 0.05" numOctaves="2" seed="63" result="n2"/>
<feColorMatrix in="n" type="matrix" values="1 0 0 0 0  1 0 0 0 0  1 0 0 0 0  0 0 0 0 1" result="g"/>
<feComponentTransfer in="g" result="col"><feFuncR type="table" tableValues="0.16 0.16 0.16 0.16 0.16 0.16 0.16 0.16 0.16 0.16 0.16 0.16 0.16 0.18 0.46 0.65 0.73 0.78 0.81 0.85 0.86 0.86 0.86 0.86 0.86"/><feFuncG type="table" tableValues="0.05 0.05 0.05 0.05 0.05 0.05 0.05 0.05 0.05 0.05 0.05 0.05 0.05 0.05 0.18 0.32 0.45 0.55 0.62 0.71 0.75 0.75 0.75 0.75 0.75"/><feFuncB type="table" tableValues="0.01 0.01 0.01 0.01 0.01 0.01 0.01 0.01 0.01 0.01 0.01 0.01 0.01 0.01 0.07 0.16 0.3 0.42 0.5 0.63 0.68 0.68 0.68 0.68 0.68"/></feComponentTransfer>
<feColorMatrix in="n" type="matrix" values="0 0 0 0 0  0 0 0 0 0  0 0 0 0 0  20 0 0 0 -10.800" result="m"/>
<feComposite in="col" in2="m" operator="in" result="tex"/>
<feColorMatrix in="n2" type="matrix" values="0 0 0 0 0.76  0 0 0 0 0.32  0 0 0 0 0.14  0 1 0 0 0" result="r0"/>
<feComponentTransfer in="r0" result="rd"><feFuncA type="table" tableValues="0 0 0 0 0 0 0 0 0 0 0 0.49 0.9 0.5 0 0 0 0 0 0 0 0 0 0 0"/></feComponentTransfer>
<feColorMatrix in="n" type="matrix" values="0 0 0 0 0  0 0 0 0 0  0 0 0 0 0  20 0 0 0 -10.000" result="m2"/>
<feComposite in="rd" in2="m2" operator="in" result="rdm"/>
<feMerge result="tex2"><feMergeNode in="tex"/><feMergeNode in="rdm"/></feMerge>
<feComposite in="tex2" in2="SourceAlpha" operator="in"/>
</filter><filter id="t13_510" x="0" y="0" width="100%" height="100%" color-interpolation-filters="sRGB">
<feTurbulence type="fractalNoise" baseFrequency="0.15 0.065" numOctaves="3" seed="13" result="n"/>
<feTurbulence type="fractalNoise" baseFrequency="0.32 0.05" numOctaves="2" seed="63" result="n2"/>
<feColorMatrix in="n" type="matrix" values="1 0 0 0 0  1 0 0 0 0  1 0 0 0 0  0 0 0 0 1" result="g"/>
<feComponentTransfer in="g" result="col"><feFuncR type="table" tableValues="0.16 0.16 0.16 0.16 0.16 0.16 0.16 0.16 0.16 0.16 0.16 0.16 0.16 0.39 0.6 0.71 0.77 0.8 0.83 0.86 0.86 0.86 0.86 0.86 0.86"/><feFuncG type="table" tableValues="0.05 0.05 0.05 0.05 0.05 0.05 0.05 0.05 0.05 0.05 0.05 0.05 0.05 0.15 0.28 0.41 0.53 0.6 0.69 0.75 0.75 0.75 0.75 0.75 0.75"/><feFuncB type="table" tableValues="0.01 0.01 0.01 0.01 0.01 0.01 0.01 0.01 0.01 0.01 0.01 0.01 0.01 0.05 0.14 0.26 0.39 0.48 0.59 0.68 0.68 0.68 0.68 0.68 0.68"/></feComponentTransfer>
<feColorMatrix in="n" type="matrix" values="0 0 0 0 0  0 0 0 0 0  0 0 0 0 0  20 0 0 0 -10.200" result="m"/>
<feComposite in="col" in2="m" operator="in" result="tex"/>
<feColorMatrix in="n2" type="matrix" values="0 0 0 0 0.76  0 0 0 0 0.32  0 0 0 0 0.14  0 1 0 0 0" result="r0"/>
<feComponentTransfer in="r0" result="rd"><feFuncA type="table" tableValues="0 0 0 0 0 0 0 0 0 0 0 0.49 0.9 0.5 0 0 0 0 0 0 0 0 0 0 0"/></feComponentTransfer>
<feColorMatrix in="n" type="matrix" values="0 0 0 0 0  0 0 0 0 0  0 0 0 0 0  20 0 0 0 -9.400" result="m2"/>
<feComposite in="rd" in2="m2" operator="in" result="rdm"/>
<feMerge result="tex2"><feMergeNode in="tex"/><feMergeNode in="rdm"/></feMerge>
<feComposite in="tex2" in2="SourceAlpha" operator="in"/>
</filter><filter id="t13_490" x="0" y="0" width="100%" height="100%" color-interpolation-filters="sRGB">
<feTurbulence type="fractalNoise" baseFrequency="0.15 0.065" numOctaves="3" seed="13" result="n"/>
<feTurbulence type="fractalNoise" baseFrequency="0.32 0.05" numOctaves="2" seed="63" result="n2"/>
<feColorMatrix in="n" type="matrix" values="1 0 0 0 0  1 0 0 0 0  1 0 0 0 0  0 0 0 0 1" result="g"/>
<feComponentTransfer in="g" result="col"><feFuncR type="table" tableValues="0.16 0.16 0.16 0.16 0.16 0.16 0.16 0.16 0.16 0.16 0.16 0.16 0.24 0.5 0.67 0.74 0.79 0.81 0.85 0.86 0.86 0.86 0.86 0.86 0.86"/><feFuncG type="table" tableValues="0.05 0.05 0.05 0.05 0.05 0.05 0.05 0.05 0.05 0.05 0.05 0.05 0.08 0.21 0.35 0.48 0.57 0.64 0.73 0.75 0.75 0.75 0.75 0.75 0.75"/><feFuncB type="table" tableValues="0.01 0.01 0.01 0.01 0.01 0.01 0.01 0.01 0.01 0.01 0.01 0.01 0.02 0.09 0.19 0.33 0.43 0.52 0.65 0.68 0.68 0.68 0.68 0.68 0.68"/></feComponentTransfer>
<feColorMatrix in="n" type="matrix" values="0 0 0 0 0  0 0 0 0 0  0 0 0 0 0  20 0 0 0 -9.800" result="m"/>
<feComposite in="col" in2="m" operator="in" result="tex"/>
<feColorMatrix in="n2" type="matrix" values="0 0 0 0 0.76  0 0 0 0 0.32  0 0 0 0 0.14  0 1 0 0 0" result="r0"/>
<feComponentTransfer in="r0" result="rd"><feFuncA type="table" tableValues="0 0 0 0 0 0 0 0 0 0 0 0.49 0.9 0.5 0 0 0 0 0 0 0 0 0 0 0"/></feComponentTransfer>
<feColorMatrix in="n" type="matrix" values="0 0 0 0 0  0 0 0 0 0  0 0 0 0 0  20 0 0 0 -9.000" result="m2"/>
<feComposite in="rd" in2="m2" operator="in" result="rdm"/>
<feMerge result="tex2"><feMergeNode in="tex"/><feMergeNode in="rdm"/></feMerge>
<feComposite in="tex2" in2="SourceAlpha" operator="in"/>
</filter><filter id="t13_480" x="0" y="0" width="100%" height="100%" color-interpolation-filters="sRGB">
<feTurbulence type="fractalNoise" baseFrequency="0.15 0.065" numOctaves="3" seed="13" result="n"/>
<feTurbulence type="fractalNoise" baseFrequency="0.32 0.05" numOctaves="2" seed="63" result="n2"/>
<feColorMatrix in="n" type="matrix" values="1 0 0 0 0  1 0 0 0 0  1 0 0 0 0  0 0 0 0 1" result="g"/>
<feComponentTransfer in="g" result="col"><feFuncR type="table" tableValues="0.16 0.16 0.16 0.16 0.16 0.16 0.16 0.16 0.16 0.16 0.16 0.16 0.31 0.54 0.69 0.76 0.79 0.82 0.86 0.86 0.86 0.86 0.86 0.86 0.86"/><feFuncG type="table" tableValues="0.05 0.05 0.05 0.05 0.05 0.05 0.05 0.05 0.05 0.05 0.05 0.05 0.11 0.24 0.38 0.51 0.58 0.66 0.75 0.75 0.75 0.75 0.75 0.75 0.75"/><feFuncB type="table" tableValues="0.01 0.01 0.01 0.01 0.01 0.01 0.01 0.01 0.01 0.01 0.01 0.01 0.04 0.11 0.22 0.36 0.45 0.56 0.68 0.68 0.68 0.68 0.68 0.68 0.68"/></feComponentTransfer>
<feColorMatrix in="n" type="matrix" values="0 0 0 0 0  0 0 0 0 0  0 0 0 0 0  20 0 0 0 -9.600" result="m"/>
<feComposite in="col" in2="m" operator="in" result="tex"/>
<feColorMatrix in="n2" type="matrix" values="0 0 0 0 0.76  0 0 0 0 0.32  0 0 0 0 0.14  0 1 0 0 0" result="r0"/>
<feComponentTransfer in="r0" result="rd"><feFuncA type="table" tableValues="0 0 0 0 0 0 0 0 0 0 0 0.49 0.9 0.5 0 0 0 0 0 0 0 0 0 0 0"/></feComponentTransfer>
<feColorMatrix in="n" type="matrix" values="0 0 0 0 0  0 0 0 0 0  0 0 0 0 0  20 0 0 0 -8.800" result="m2"/>
<feComposite in="rd" in2="m2" operator="in" result="rdm"/>
<feMerge result="tex2"><feMergeNode in="tex"/><feMergeNode in="rdm"/></feMerge>
<feComposite in="tex2" in2="SourceAlpha" operator="in"/>
</filter><clipPath id="cA3"><polygon points="46.0,130.0 49.6,133.0 53.2,133.5 56.9,132.2 60.5,133.0 64.1,133.3 67.8,132.4 71.4,131.4 75.0,132.0 78.6,132.8 82.2,130.5 85.9,129.9 89.5,132.2 93.1,133.9 96.8,134.1 100.4,130.4 102.0,131.9 104.7,135.7 103.9,139.2 102.6,142.8 104.5,146.5 101.0,149.2 100.0,153.2 99.8,157.4 96.6,160.5 98.4,164.9 96.1,168.8 95.9,172.6 95.8,176.4 98.5,179.7 99.8,184.1 102.6,188.0 102.4,192.0 102.8,196.1 103.3,200.1 101.0,204.8 97.4,202.7 93.8,203.9 90.2,202.6 86.6,201.8 83.0,203.9 79.4,204.9 75.8,202.6 72.2,203.0 68.6,203.3 65.0,204.9 61.4,204.1 57.8,204.5 54.2,205.1 50.6,203.5 45.7,204.0 45.2,200.0 48.8,196.0 45.1,192.0 46.2,187.4 51.3,185.0 53.2,180.0 52.4,176.2 51.2,172.5 53.5,168.8 52.7,165.1 50.0,161.9 48.8,158.0 46.7,154.5 47.2,150.0 46.1,146.4 47.9,142.7 45.4,139.3 44.8,135.7"/></clipPath><filter id="t21_365" x="0" y="0" width="100%" height="100%" color-interpolation-filters="sRGB">
<feTurbulence type="fractalNoise" baseFrequency="0.15 0.065" numOctaves="3" seed="21" result="n"/>
<feTurbulence type="fractalNoise" baseFrequency="0.32 0.05" numOctaves="2" seed="71" result="n2"/>
<feColorMatrix in="n" type="matrix" values="1 0 0 0 0  1 0 0 0 0  1 0 0 0 0  0 0 0 0 1" result="g"/>
<feComponentTransfer in="g" result="col"><feFuncR type="table" tableValues="0.16 0.16 0.16 0.16 0.16 0.16 0.16 0.16 0.16 0.24 0.5 0.67 0.74 0.79 0.81 0.85 0.86 0.86 0.86 0.86 0.86 0.86 0.86 0.86 0.86"/><feFuncG type="table" tableValues="0.05 0.05 0.05 0.05 0.05 0.05 0.05 0.05 0.05 0.08 0.21 0.35 0.48 0.57 0.64 0.73 0.75 0.75 0.75 0.75 0.75 0.75 0.75 0.75 0.75"/><feFuncB type="table" tableValues="0.01 0.01 0.01 0.01 0.01 0.01 0.01 0.01 0.01 0.02 0.09 0.19 0.33 0.43 0.52 0.65 0.68 0.68 0.68 0.68 0.68 0.68 0.68 0.68 0.68"/></feComponentTransfer>
<feColorMatrix in="n" type="matrix" values="0 0 0 0 0  0 0 0 0 0  0 0 0 0 0  20 0 0 0 -7.300" result="m"/>
<feComposite in="col" in2="m" operator="in" result="tex"/>
<feColorMatrix in="n2" type="matrix" values="0 0 0 0 0.76  0 0 0 0 0.32  0 0 0 0 0.14  0 1 0 0 0" result="r0"/>
<feComponentTransfer in="r0" result="rd"><feFuncA type="table" tableValues="0 0 0 0 0 0 0 0 0 0 0 0.49 0.9 0.5 0 0 0 0 0 0 0 0 0 0 0"/></feComponentTransfer>
<feColorMatrix in="n" type="matrix" values="0 0 0 0 0  0 0 0 0 0  0 0 0 0 0  20 0 0 0 -6.500" result="m2"/>
<feComposite in="rd" in2="m2" operator="in" result="rdm"/>
<feMerge result="tex2"><feMergeNode in="tex"/><feMergeNode in="rdm"/></feMerge>
<feComposite in="tex2" in2="SourceAlpha" operator="in"/>
</filter><filter id="t21_430" x="0" y="0" width="100%" height="100%" color-interpolation-filters="sRGB">
<feTurbulence type="fractalNoise" baseFrequency="0.15 0.065" numOctaves="3" seed="21" result="n"/>
<feTurbulence type="fractalNoise" baseFrequency="0.32 0.05" numOctaves="2" seed="71" result="n2"/>
<feColorMatrix in="n" type="matrix" values="1 0 0 0 0  1 0 0 0 0  1 0 0 0 0  0 0 0 0 1" result="g"/>
<feComponentTransfer in="g" result="col"><feFuncR type="table" tableValues="0.16 0.16 0.16 0.16 0.16 0.16 0.16 0.16 0.16 0.16 0.16 0.36 0.58 0.7 0.77 0.8 0.83 0.86 0.86 0.86 0.86 0.86 0.86 0.86 0.86"/><feFuncG type="table" tableValues="0.05 0.05 0.05 0.05 0.05 0.05 0.05 0.05 0.05 0.05 0.05 0.14 0.27 0.4 0.53 0.6 0.68 0.75 0.75 0.75 0.75 0.75 0.75 0.75 0.75"/><feFuncB type="table" tableValues="0.01 0.01 0.01 0.01 0.01 0.01 0.01 0.01 0.01 0.01 0.01 0.05 0.13 0.25 0.38 0.47 0.58 0.68 0.68 0.68 0.68 0.68 0.68 0.68 0.68"/></feComponentTransfer>
<feColorMatrix in="n" type="matrix" values="0 0 0 0 0  0 0 0 0 0  0 0 0 0 0  20 0 0 0 -8.600" result="m"/>
<feComposite in="col" in2="m" operator="in" result="tex"/>
<feColorMatrix in="n2" type="matrix" values="0 0 0 0 0.76  0 0 0 0 0.32  0 0 0 0 0.14  0 1 0 0 0" result="r0"/>
<feComponentTransfer in="r0" result="rd"><feFuncA type="table" tableValues="0 0 0 0 0 0 0 0 0 0 0 0.49 0.9 0.5 0 0 0 0 0 0 0 0 0 0 0"/></feComponentTransfer>
<feColorMatrix in="n" type="matrix" values="0 0 0 0 0  0 0 0 0 0  0 0 0 0 0  20 0 0 0 -7.800" result="m2"/>
<feComposite in="rd" in2="m2" operator="in" result="rdm"/>
<feMerge result="tex2"><feMergeNode in="tex"/><feMergeNode in="rdm"/></feMerge>
<feComposite in="tex2" in2="SourceAlpha" operator="in"/>
</filter><filter id="t21_340" x="0" y="0" width="100%" height="100%" color-interpolation-filters="sRGB">
<feTurbulence type="fractalNoise" baseFrequency="0.15 0.065" numOctaves="3" seed="21" result="n"/>
<feTurbulence type="fractalNoise" baseFrequency="0.32 0.05" numOctaves="2" seed="71" result="n2"/>
<feColorMatrix in="n" type="matrix" values="1 0 0 0 0  1 0 0 0 0  1 0 0 0 0  0 0 0 0 1" result="g"/>
<feComponentTransfer in="g" result="col"><feFuncR type="table" tableValues="0.16 0.16 0.16 0.16 0.16 0.16 0.16 0.16 0.16 0.41 0.61 0.72 0.78 0.8 0.84 0.86 0.86 0.86 0.86 0.86 0.86 0.86 0.86 0.86 0.86"/><feFuncG type="table" tableValues="0.05 0.05 0.05 0.05 0.05 0.05 0.05 0.05 0.05 0.16 0.29 0.42 0.54 0.61 0.69 0.75 0.75 0.75 0.75 0.75 0.75 0.75 0.75 0.75 0.75"/><feFuncB type="table" tableValues="0.01 0.01 0.01 0.01 0.01 0.01 0.01 0.01 0.01 0.06 0.14 0.27 0.4 0.49 0.6 0.68 0.68 0.68 0.68 0.68 0.68 0.68 0.68 0.68 0.68"/></feComponentTransfer>
<feColorMatrix in="n" type="matrix" values="0 0 0 0 0  0 0 0 0 0  0 0 0 0 0  20 0 0 0 -6.800" result="m"/>
<feComposite in="col" in2="m" operator="in" result="tex"/>
<feColorMatrix in="n2" type="matrix" values="0 0 0 0 0.76  0 0 0 0 0.32  0 0 0 0 0.14  0 1 0 0 0" result="r0"/>
<feComponentTransfer in="r0" result="rd"><feFuncA type="table" tableValues="0 0 0 0 0 0 0 0 0 0 0 0.49 0.9 0.5 0 0 0 0 0 0 0 0 0 0 0"/></feComponentTransfer>
<feColorMatrix in="n" type="matrix" values="0 0 0 0 0  0 0 0 0 0  0 0 0 0 0  20 0 0 0 -6.000" result="m2"/>
<feComposite in="rd" in2="m2" operator="in" result="rdm"/>
<feMerge result="tex2"><feMergeNode in="tex"/><feMergeNode in="rdm"/></feMerge>
<feComposite in="tex2" in2="SourceAlpha" operator="in"/>
</filter><filter id="t21_380" x="0" y="0" width="100%" height="100%" color-interpolation-filters="sRGB">
<feTurbulence type="fractalNoise" baseFrequency="0.15 0.065" numOctaves="3" seed="21" result="n"/>
<feTurbulence type="fractalNoise" baseFrequency="0.32 0.05" numOctaves="2" seed="71" result="n2"/>
<feColorMatrix in="n" type="matrix" values="1 0 0 0 0  1 0 0 0 0  1 0 0 0 0  0 0 0 0 1" result="g"/>
<feComponentTransfer in="g" result="col"><feFuncR type="table" tableValues="0.16 0.16 0.16 0.16 0.16 0.16 0.16 0.16 0.16 0.16 0.42 0.62 0.72 0.78 0.8 0.84 0.86 0.86 0.86 0.86 0.86 0.86 0.86 0.86 0.86"/><feFuncG type="table" tableValues="0.05 0.05 0.05 0.05 0.05 0.05 0.05 0.05 0.05 0.05 0.16 0.3 0.43 0.54 0.61 0.7 0.75 0.75 0.75 0.75 0.75 0.75 0.75 0.75 0.75"/><feFuncB type="table" tableValues="0.01 0.01 0.01 0.01 0.01 0.01 0.01 0.01 0.01 0.01 0.06 0.15 0.28 0.4 0.49 0.61 0.68 0.68 0.68 0.68 0.68 0.68 0.68 0.68 0.68"/></feComponentTransfer>
<feColorMatrix in="n" type="matrix" values="0 0 0 0 0  0 0 0 0 0  0 0 0 0 0  20 0 0 0 -7.600" result="m"/>
<feComposite in="col" in2="m" operator="in" result="tex"/>
<feColorMatrix in="n2" type="matrix" values="0 0 0 0 0.76  0 0 0 0 0.32  0 0 0 0 0.14  0 1 0 0 0" result="r0"/>
<feComponentTransfer in="r0" result="rd"><feFuncA type="table" tableValues="0 0 0 0 0 0 0 0 0 0 0 0.49 0.9 0.5 0 0 0 0 0 0 0 0 0 0 0"/></feComponentTransfer>
<feColorMatrix in="n" type="matrix" values="0 0 0 0 0  0 0 0 0 0  0 0 0 0 0  20 0 0 0 -6.800" result="m2"/>
<feComposite in="rd" in2="m2" operator="in" result="rdm"/>
<feMerge result="tex2"><feMergeNode in="tex"/><feMergeNode in="rdm"/></feMerge>
<feComposite in="tex2" in2="SourceAlpha" operator="in"/>
</filter><filter id="t21_400" x="0" y="0" width="100%" height="100%" color-interpolation-filters="sRGB">
<feTurbulence type="fractalNoise" baseFrequency="0.15 0.065" numOctaves="3" seed="21" result="n"/>
<feTurbulence type="fractalNoise" baseFrequency="0.32 0.05" numOctaves="2" seed="71" result="n2"/>
<feColorMatrix in="n" type="matrix" values="1 0 0 0 0  1 0 0 0 0  1 0 0 0 0  0 0 0 0 1" result="g"/>
<feComponentTransfer in="g" result="col"><feFuncR type="table" tableValues="0.16 0.16 0.16 0.16 0.16 0.16 0.16 0.16 0.16 0.16 0.28 0.53 0.68 0.76 0.79 0.82 0.86 0.86 0.86 0.86 0.86 0.86 0.86 0.86 0.86"/><feFuncG type="table" tableValues="0.05 0.05 0.05 0.05 0.05 0.05 0.05 0.05 0.05 0.05 0.1 0.23 0.37 0.5 0.58 0.65 0.75 0.75 0.75 0.75 0.75 0.75 0.75 0.75 0.75"/><feFuncB type="table" tableValues="0.01 0.01 0.01 0.01 0.01 0.01 0.01 0.01 0.01 0.01 0.03 0.11 0.21 0.35 0.45 0.55 0.67 0.68 0.68 0.68 0.68 0.68 0.68 0.68 0.68"/></feComponentTransfer>
<feColorMatrix in="n" type="matrix" values="0 0 0 0 0  0 0 0 0 0  0 0 0 0 0  20 0 0 0 -8.000" result="m"/>
<feComposite in="col" in2="m" operator="in" result="tex"/>
<feColorMatrix in="n2" type="matrix" values="0 0 0 0 0.76  0 0 0 0 0.32  0 0 0 0 0.14  0 1 0 0 0" result="r0"/>
<feComponentTransfer in="r0" result="rd"><feFuncA type="table" tableValues="0 0 0 0 0 0 0 0 0 0 0 0.49 0.9 0.5 0 0 0 0 0 0 0 0 0 0 0"/></feComponentTransfer>
<feColorMatrix in="n" type="matrix" values="0 0 0 0 0  0 0 0 0 0  0 0 0 0 0  20 0 0 0 -7.200" result="m2"/>
<feComposite in="rd" in2="m2" operator="in" result="rdm"/>
<feMerge result="tex2"><feMergeNode in="tex"/><feMergeNode in="rdm"/></feMerge>
<feComposite in="tex2" in2="SourceAlpha" operator="in"/>
</filter><filter id="t21_410" x="0" y="0" width="100%" height="100%" color-interpolation-filters="sRGB">
<feTurbulence type="fractalNoise" baseFrequency="0.15 0.065" numOctaves="3" seed="21" result="n"/>
<feTurbulence type="fractalNoise" baseFrequency="0.32 0.05" numOctaves="2" seed="71" result="n2"/>
<feColorMatrix in="n" type="matrix" values="1 0 0 0 0  1 0 0 0 0  1 0 0 0 0  0 0 0 0 1" result="g"/>
<feComponentTransfer in="g" result="col"><feFuncR type="table" tableValues="0.16 0.16 0.16 0.16 0.16 0.16 0.16 0.16 0.16 0.16 0.21 0.48 0.67 0.74 0.78 0.81 0.85 0.86 0.86 0.86 0.86 0.86 0.86 0.86 0.86"/><feFuncG type="table" tableValues="0.05 0.05 0.05 0.05 0.05 0.05 0.05 0.05 0.05 0.05 0.07 0.2 0.34 0.47 0.56 0.63 0.72 0.75 0.75 0.75 0.75 0.75 0.75 0.75 0.75"/><feFuncB type="table" tableValues="0.01 0.01 0.01 0.01 0.01 0.01 0.01 0.01 0.01 0.01 0.02 0.08 0.18 0.32 0.43 0.52 0.64 0.68 0.68 0.68 0.68 0.68 0.68 0.68 0.68"/></feComponentTransfer>
<feColorMatrix in="n" type="matrix" values="0 0 0 0 0  0 0 0 0 0  0 0 0 0 0  20 0 0 0 -8.200" result="m"/>
<feComposite in="col" in2="m" operator="in" result="tex"/>
<feColorMatrix in="n2" type="matrix" values="0 0 0 0 0.76  0 0 0 0 0.32  0 0 0 0 0.14  0 1 0 0 0" result="r0"/>
<feComponentTransfer in="r0" result="rd"><feFuncA type="table" tableValues="0 0 0 0 0 0 0 0 0 0 0 0.49 0.9 0.5 0 0 0 0 0 0 0 0 0 0 0"/></feComponentTransfer>
<feColorMatrix in="n" type="matrix" values="0 0 0 0 0  0 0 0 0 0  0 0 0 0 0  20 0 0 0 -7.400" result="m2"/>
<feComposite in="rd" in2="m2" operator="in" result="rdm"/>
<feMerge result="tex2"><feMergeNode in="tex"/><feMergeNode in="rdm"/></feMerge>
<feComposite in="tex2" in2="SourceAlpha" operator="in"/>
</filter><filter id="t21_390" x="0" y="0" width="100%" height="100%" color-interpolation-filters="sRGB">
<feTurbulence type="fractalNoise" baseFrequency="0.15 0.065" numOctaves="3" seed="21" result="n"/>
<feTurbulence type="fractalNoise" baseFrequency="0.32 0.05" numOctaves="2" seed="71" result="n2"/>
<feColorMatrix in="n" type="matrix" values="1 0 0 0 0  1 0 0 0 0  1 0 0 0 0  0 0 0 0 1" result="g"/>
<feComponentTransfer in="g" result="col"><feFuncR type="table" tableValues="0.16 0.16 0.16 0.16 0.16 0.16 0.16 0.16 0.16 0.16 0.35 0.57 0.7 0.77 0.8 0.83 0.86 0.86 0.86 0.86 0.86 0.86 0.86 0.86 0.86"/><feFuncG type="table" tableValues="0.05 0.05 0.05 0.05 0.05 0.05 0.05 0.05 0.05 0.05 0.13 0.27 0.4 0.52 0.59 0.67 0.75 0.75 0.75 0.75 0.75 0.75 0.75 0.75 0.75"/><feFuncB type="table" tableValues="0.01 0.01 0.01 0.01 0.01 0.01 0.01 0.01 0.01 0.01 0.05 0.13 0.24 0.38 0.47 0.58 0.68 0.68 0.68 0.68 0.68 0.68 0.68 0.68 0.68"/></feComponentTransfer>
<feColorMatrix in="n" type="matrix" values="0 0 0 0 0  0 0 0 0 0  0 0 0 0 0  20 0 0 0 -7.800" result="m"/>
<feComposite in="col" in2="m" operator="in" result="tex"/>
<feColorMatrix in="n2" type="matrix" values="0 0 0 0 0.76  0 0 0 0 0.32  0 0 0 0 0.14  0 1 0 0 0" result="r0"/>
<feComponentTransfer in="r0" result="rd"><feFuncA type="table" tableValues="0 0 0 0 0 0 0 0 0 0 0 0.49 0.9 0.5 0 0 0 0 0 0 0 0 0 0 0"/></feComponentTransfer>
<feColorMatrix in="n" type="matrix" values="0 0 0 0 0  0 0 0 0 0  0 0 0 0 0  20 0 0 0 -7.000" result="m2"/>
<feComposite in="rd" in2="m2" operator="in" result="rdm"/>
<feMerge result="tex2"><feMergeNode in="tex"/><feMergeNode in="rdm"/></feMerge>
<feComposite in="tex2" in2="SourceAlpha" operator="in"/>
</filter><filter id="t21_370" x="0" y="0" width="100%" height="100%" color-interpolation-filters="sRGB">
<feTurbulence type="fractalNoise" baseFrequency="0.15 0.065" numOctaves="3" seed="21" result="n"/>
<feTurbulence type="fractalNoise" baseFrequency="0.32 0.05" numOctaves="2" seed="71" result="n2"/>
<feColorMatrix in="n" type="matrix" values="1 0 0 0 0  1 0 0 0 0  1 0 0 0 0  0 0 0 0 1" result="g"/>
<feComponentTransfer in="g" result="col"><feFuncR type="table" tableValues="0.16 0.16 0.16 0.16 0.16 0.16 0.16 0.16 0.16 0.2 0.47 0.66 0.74 0.78 0.81 0.85 0.86 0.86 0.86 0.86 0.86 0.86 0.86 0.86 0.86"/><feFuncG type="table" tableValues="0.05 0.05 0.05 0.05 0.05 0.05 0.05 0.05 0.05 0.06 0.19 0.33 0.46 0.56 0.63 0.72 0.75 0.75 0.75 0.75 0.75 0.75 0.75 0.75 0.75"/><feFuncB type="table" tableValues="0.01 0.01 0.01 0.01 0.01 0.01 0.01 0.01 0.01 0.02 0.08 0.17 0.31 0.42 0.51 0.64 0.68 0.68 0.68 0.68 0.68 0.68 0.68 0.68 0.68"/></feComponentTransfer>
<feColorMatrix in="n" type="matrix" values="0 0 0 0 0  0 0 0 0 0  0 0 0 0 0  20 0 0 0 -7.400" result="m"/>
<feComposite in="col" in2="m" operator="in" result="tex"/>
<feColorMatrix in="n2" type="matrix" values="0 0 0 0 0.76  0 0 0 0 0.32  0 0 0 0 0.14  0 1 0 0 0" result="r0"/>
<feComponentTransfer in="r0" result="rd"><feFuncA type="table" tableValues="0 0 0 0 0 0 0 0 0 0 0 0.49 0.9 0.5 0 0 0 0 0 0 0 0 0 0 0"/></feComponentTransfer>
<feColorMatrix in="n" type="matrix" values="0 0 0 0 0  0 0 0 0 0  0 0 0 0 0  20 0 0 0 -6.600" result="m2"/>
<feComposite in="rd" in2="m2" operator="in" result="rdm"/>
<feMerge result="tex2"><feMergeNode in="tex"/><feMergeNode in="rdm"/></feMerge>
<feComposite in="tex2" in2="SourceAlpha" operator="in"/>
</filter><filter id="t21_350" x="0" y="0" width="100%" height="100%" color-interpolation-filters="sRGB">
<feTurbulence type="fractalNoise" baseFrequency="0.15 0.065" numOctaves="3" seed="21" result="n"/>
<feTurbulence type="fractalNoise" baseFrequency="0.32 0.05" numOctaves="2" seed="71" result="n2"/>
<feColorMatrix in="n" type="matrix" values="1 0 0 0 0  1 0 0 0 0  1 0 0 0 0  0 0 0 0 1" result="g"/>
<feComponentTransfer in="g" result="col"><feFuncR type="table" tableValues="0.16 0.16 0.16 0.16 0.16 0.16 0.16 0.16 0.16 0.34 0.57 0.7 0.77 0.8 0.83 0.86 0.86 0.86 0.86 0.86 0.86 0.86 0.86 0.86 0.86"/><feFuncG type="table" tableValues="0.05 0.05 0.05 0.05 0.05 0.05 0.05 0.05 0.05 0.12 0.26 0.39 0.52 0.59 0.67 0.75 0.75 0.75 0.75 0.75 0.75 0.75 0.75 0.75 0.75"/><feFuncB type="table" tableValues="0.01 0.01 0.01 0.01 0.01 0.01 0.01 0.01 0.01 0.04 0.12 0.24 0.38 0.47 0.57 0.68 0.68 0.68 0.68 0.68 0.68 0.68 0.68 0.68 0.68"/></feComponentTransfer>
<feColorMatrix in="n" type="matrix" values="0 0 0 0 0  0 0 0 0 0  0 0 0 0 0  20 0 0 0 -7.000" result="m"/>
<feComposite in="col" in2="m" operator="in" result="tex"/>
<feColorMatrix in="n2" type="matrix" values="0 0 0 0 0.76  0 0 0 0 0.32  0 0 0 0 0.14  0 1 0 0 0" result="r0"/>
<feComponentTransfer in="r0" result="rd"><feFuncA type="table" tableValues="0 0 0 0 0 0 0 0 0 0 0 0.49 0.9 0.5 0 0 0 0 0 0 0 0 0 0 0"/></feComponentTransfer>
<feColorMatrix in="n" type="matrix" values="0 0 0 0 0  0 0 0 0 0  0 0 0 0 0  20 0 0 0 -6.200" result="m2"/>
<feComposite in="rd" in2="m2" operator="in" result="rdm"/>
<feMerge result="tex2"><feMergeNode in="tex"/><feMergeNode in="rdm"/></feMerge>
<feComposite in="tex2" in2="SourceAlpha" operator="in"/>
</filter><clipPath id="cA4"><polygon points="135.0,129.4 138.7,129.0 142.4,131.3 146.1,128.2 149.9,127.9 153.6,127.9 157.3,129.8 161.0,128.7 164.7,130.8 168.4,128.2 172.1,128.4 175.9,130.7 179.6,131.8 183.3,130.3 187.2,130.0 188.2,134.0 186.9,138.0 184.9,142.0 188.4,146.0 185.1,149.8 187.9,154.1 184.8,157.9 185.1,161.9 186.7,166.1 183.4,169.8 183.1,173.8 184.3,178.0 184.8,182.1 184.9,186.1 183.8,190.2 184.2,194.1 181.5,197.5 182.7,201.6 180.0,203.2 176.2,203.8 172.5,205.1 168.8,204.1 165.0,206.0 161.2,205.6 157.5,205.1 153.8,206.5 150.0,205.3 146.2,204.2 142.5,204.5 138.8,206.5 133.3,205.3 135.7,200.8 132.3,197.2 131.2,193.3 132.5,189.0 131.7,185.0 133.1,180.9 131.4,177.0 131.4,173.0 130.7,169.0 133.1,165.3 129.5,161.0 131.9,157.5 132.9,153.8 131.7,149.9 133.1,146.0 133.8,142.0 133.4,137.9 136.5,134.2"/></clipPath><filter id="t5_375" x="0" y="0" width="100%" height="100%" color-interpolation-filters="sRGB">
<feTurbulence type="fractalNoise" baseFrequency="0.15 0.065" numOctaves="3" seed="5" result="n"/>
<feTurbulence type="fractalNoise" baseFrequency="0.32 0.05" numOctaves="2" seed="55" result="n2"/>
<feColorMatrix in="n" type="matrix" values="1 0 0 0 0  1 0 0 0 0  1 0 0 0 0  0 0 0 0 1" result="g"/>
<feComponentTransfer in="g" result="col"><feFuncR type="table" tableValues="0.16 0.16 0.16 0.16 0.16 0.16 0.16 0.16 0.16 0.16 0.45 0.64 0.73 0.78 0.81 0.84 0.86 0.86 0.86 0.86 0.86 0.86 0.86 0.86 0.86"/><feFuncG type="table" tableValues="0.05 0.05 0.05 0.05 0.05 0.05 0.05 0.05 0.05 0.05 0.18 0.32 0.44 0.55 0.62 0.71 0.75 0.75 0.75 0.75 0.75 0.75 0.75 0.75 0.75"/><feFuncB type="table" tableValues="0.01 0.01 0.01 0.01 0.01 0.01 0.01 0.01 0.01 0.01 0.07 0.16 0.29 0.41 0.5 0.62 0.68 0.68 0.68 0.68 0.68 0.68 0.68 0.68 0.68"/></feComponentTransfer>
<feColorMatrix in="n" type="matrix" values="0 0 0 0 0  0 0 0 0 0  0 0 0 0 0  20 0 0 0 -7.500" result="m"/>
<feComposite in="col" in2="m" operator="in" result="tex"/>
<feColorMatrix in="n2" type="matrix" values="0 0 0 0 0.76  0 0 0 0 0.32  0 0 0 0 0.14  0 1 0 0 0" result="r0"/>
<feComponentTransfer in="r0" result="rd"><feFuncA type="table" tableValues="0 0 0 0 0 0 0 0 0 0 0 0.49 0.9 0.5 0 0 0 0 0 0 0 0 0 0 0"/></feComponentTransfer>
<feColorMatrix in="n" type="matrix" values="0 0 0 0 0  0 0 0 0 0  0 0 0 0 0  20 0 0 0 -6.700" result="m2"/>
<feComposite in="rd" in2="m2" operator="in" result="rdm"/>
<feMerge result="tex2"><feMergeNode in="tex"/><feMergeNode in="rdm"/></feMerge>
<feComposite in="tex2" in2="SourceAlpha" operator="in"/>
</filter><filter id="t5_440" x="0" y="0" width="100%" height="100%" color-interpolation-filters="sRGB">
<feTurbulence type="fractalNoise" baseFrequency="0.15 0.065" numOctaves="3" seed="5" result="n"/>
<feTurbulence type="fractalNoise" baseFrequency="0.32 0.05" numOctaves="2" seed="55" result="n2"/>
<feColorMatrix in="n" type="matrix" values="1 0 0 0 0  1 0 0 0 0  1 0 0 0 0  0 0 0 0 1" result="g"/>
<feComponentTransfer in="g" result="col"><feFuncR type="table" tableValues="0.16 0.16 0.16 0.16 0.16 0.16 0.16 0.16 0.16 0.16 0.16 0.29 0.54 0.69 0.76 0.79 0.82 0.86 0.86 0.86 0.86 0.86 0.86 0.86 0.86"/><feFuncG type="table" tableValues="0.05 0.05 0.05 0.05 0.05 0.05 0.05 0.05 0.05 0.05 0.05 0.1 0.24 0.37 0.5 0.58 0.66 0.75 0.75 0.75 0.75 0.75 0.75 0.75 0.75"/><feFuncB type="table" tableValues="0.01 0.01 0.01 0.01 0.01 0.01 0.01 0.01 0.01 0.01 0.01 0.03 0.11 0.22 0.36 0.45 0.55 0.68 0.68 0.68 0.68 0.68 0.68 0.68 0.68"/></feComponentTransfer>
<feColorMatrix in="n" type="matrix" values="0 0 0 0 0  0 0 0 0 0  0 0 0 0 0  20 0 0 0 -8.800" result="m"/>
<feComposite in="col" in2="m" operator="in" result="tex"/>
<feColorMatrix in="n2" type="matrix" values="0 0 0 0 0.76  0 0 0 0 0.32  0 0 0 0 0.14  0 1 0 0 0" result="r0"/>
<feComponentTransfer in="r0" result="rd"><feFuncA type="table" tableValues="0 0 0 0 0 0 0 0 0 0 0 0.49 0.9 0.5 0 0 0 0 0 0 0 0 0 0 0"/></feComponentTransfer>
<feColorMatrix in="n" type="matrix" values="0 0 0 0 0  0 0 0 0 0  0 0 0 0 0  20 0 0 0 -8.000" result="m2"/>
<feComposite in="rd" in2="m2" operator="in" result="rdm"/>
<feMerge result="tex2"><feMergeNode in="tex"/><feMergeNode in="rdm"/></feMerge>
<feComposite in="tex2" in2="SourceAlpha" operator="in"/>
</filter><filter id="t5_385" x="0" y="0" width="100%" height="100%" color-interpolation-filters="sRGB">
<feTurbulence type="fractalNoise" baseFrequency="0.15 0.065" numOctaves="3" seed="5" result="n"/>
<feTurbulence type="fractalNoise" baseFrequency="0.32 0.05" numOctaves="2" seed="55" result="n2"/>
<feColorMatrix in="n" type="matrix" values="1 0 0 0 0  1 0 0 0 0  1 0 0 0 0  0 0 0 0 1" result="g"/>
<feComponentTransfer in="g" result="col"><feFuncR type="table" tableValues="0.16 0.16 0.16 0.16 0.16 0.16 0.16 0.16 0.16 0.16 0.39 0.6 0.71 0.77 0.8 0.83 0.86 0.86 0.86 0.86 0.86 0.86 0.86 0.86 0.86"/><feFuncG type="table" tableValues="0.05 0.05 0.05 0.05 0.05 0.05 0.05 0.05 0.05 0.05 0.15 0.28 0.41 0.53 0.6 0.69 0.75 0.75 0.75 0.75 0.75 0.75 0.75 0.75 0.75"/><feFuncB type="table" tableValues="0.01 0.01 0.01 0.01 0.01 0.01 0.01 0.01 0.01 0.01 0.05 0.14 0.26 0.39 0.48 0.59 0.68 0.68 0.68 0.68 0.68 0.68 0.68 0.68 0.68"/></feComponentTransfer>
<feColorMatrix in="n" type="matrix" values="0 0 0 0 0  0 0 0 0 0  0 0 0 0 0  20 0 0 0 -7.700" result="m"/>
<feComposite in="col" in2="m" operator="in" result="tex"/>
<feColorMatrix in="n2" type="matrix" values="0 0 0 0 0.76  0 0 0 0 0.32  0 0 0 0 0.14  0 1 0 0 0" result="r0"/>
<feComponentTransfer in="r0" result="rd"><feFuncA type="table" tableValues="0 0 0 0 0 0 0 0 0 0 0 0.49 0.9 0.5 0 0 0 0 0 0 0 0 0 0 0"/></feComponentTransfer>
<feColorMatrix in="n" type="matrix" values="0 0 0 0 0  0 0 0 0 0  0 0 0 0 0  20 0 0 0 -6.900" result="m2"/>
<feComposite in="rd" in2="m2" operator="in" result="rdm"/>
<feMerge result="tex2"><feMergeNode in="tex"/><feMergeNode in="rdm"/></feMerge>
<feComposite in="tex2" in2="SourceAlpha" operator="in"/>
</filter><filter id="t5_390" x="0" y="0" width="100%" height="100%" color-interpolation-filters="sRGB">
<feTurbulence type="fractalNoise" baseFrequency="0.15 0.065" numOctaves="3" seed="5" result="n"/>
<feTurbulence type="fractalNoise" baseFrequency="0.32 0.05" numOctaves="2" seed="55" result="n2"/>
<feColorMatrix in="n" type="matrix" values="1 0 0 0 0  1 0 0 0 0  1 0 0 0 0  0 0 0 0 1" result="g"/>
<feComponentTransfer in="g" result="col"><feFuncR type="table" tableValues="0.16 0.16 0.16 0.16 0.16 0.16 0.16 0.16 0.16 0.16 0.35 0.57 0.7 0.77 0.8 0.83 0.86 0.86 0.86 0.86 0.86 0.86 0.86 0.86 0.86"/><feFuncG type="table" tableValues="0.05 0.05 0.05 0.05 0.05 0.05 0.05 0.05 0.05 0.05 0.13 0.27 0.4 0.52 0.59 0.67 0.75 0.75 0.75 0.75 0.75 0.75 0.75 0.75 0.75"/><feFuncB type="table" tableValues="0.01 0.01 0.01 0.01 0.01 0.01 0.01 0.01 0.01 0.01 0.05 0.13 0.24 0.38 0.47 0.58 0.68 0.68 0.68 0.68 0.68 0.68 0.68 0.68 0.68"/></feComponentTransfer>
<feColorMatrix in="n" type="matrix" values="0 0 0 0 0  0 0 0 0 0  0 0 0 0 0  20 0 0 0 -7.800" result="m"/>
<feComposite in="col" in2="m" operator="in" result="tex"/>
<feColorMatrix in="n2" type="matrix" values="0 0 0 0 0.76  0 0 0 0 0.32  0 0 0 0 0.14  0 1 0 0 0" result="r0"/>
<feComponentTransfer in="r0" result="rd"><feFuncA type="table" tableValues="0 0 0 0 0 0 0 0 0 0 0 0.49 0.9 0.5 0 0 0 0 0 0 0 0 0 0 0"/></feComponentTransfer>
<feColorMatrix in="n" type="matrix" values="0 0 0 0 0  0 0 0 0 0  0 0 0 0 0  20 0 0 0 -7.000" result="m2"/>
<feComposite in="rd" in2="m2" operator="in" result="rdm"/>
<feMerge result="tex2"><feMergeNode in="tex"/><feMergeNode in="rdm"/></feMerge>
<feComposite in="tex2" in2="SourceAlpha" operator="in"/>
</filter><filter id="t5_410" x="0" y="0" width="100%" height="100%" color-interpolation-filters="sRGB">
<feTurbulence type="fractalNoise" baseFrequency="0.15 0.065" numOctaves="3" seed="5" result="n"/>
<feTurbulence type="fractalNoise" baseFrequency="0.32 0.05" numOctaves="2" seed="55" result="n2"/>
<feColorMatrix in="n" type="matrix" values="1 0 0 0 0  1 0 0 0 0  1 0 0 0 0  0 0 0 0 1" result="g"/>
<feComponentTransfer in="g" result="col"><feFuncR type="table" tableValues="0.16 0.16 0.16 0.16 0.16 0.16 0.16 0.16 0.16 0.16 0.21 0.48 0.67 0.74 0.78 0.81 0.85 0.86 0.86 0.86 0.86 0.86 0.86 0.86 0.86"/><feFuncG type="table" tableValues="0.05 0.05 0.05 0.05 0.05 0.05 0.05 0.05 0.05 0.05 0.07 0.2 0.34 0.47 0.56 0.63 0.72 0.75 0.75 0.75 0.75 0.75 0.75 0.75 0.75"/><feFuncB type="table" tableValues="0.01 0.01 0.01 0.01 0.01 0.01 0.01 0.01 0.01 0.01 0.02 0.08 0.18 0.32 0.43 0.52 0.64 0.68 0.68 0.68 0.68 0.68 0.68 0.68 0.68"/></feComponentTransfer>
<feColorMatrix in="n" type="matrix" values="0 0 0 0 0  0 0 0 0 0  0 0 0 0 0  20 0 0 0 -8.200" result="m"/>
<feComposite in="col" in2="m" operator="in" result="tex"/>
<feColorMatrix in="n2" type="matrix" values="0 0 0 0 0.76  0 0 0 0 0.32  0 0 0 0 0.14  0 1 0 0 0" result="r0"/>
<feComponentTransfer in="r0" result="rd"><feFuncA type="table" tableValues="0 0 0 0 0 0 0 0 0 0 0 0.49 0.9 0.5 0 0 0 0 0 0 0 0 0 0 0"/></feComponentTransfer>
<feColorMatrix in="n" type="matrix" values="0 0 0 0 0  0 0 0 0 0  0 0 0 0 0  20 0 0 0 -7.400" result="m2"/>
<feComposite in="rd" in2="m2" operator="in" result="rdm"/>
<feMerge result="tex2"><feMergeNode in="tex"/><feMergeNode in="rdm"/></feMerge>
<feComposite in="tex2" in2="SourceAlpha" operator="in"/>
</filter><filter id="t5_420" x="0" y="0" width="100%" height="100%" color-interpolation-filters="sRGB">
<feTurbulence type="fractalNoise" baseFrequency="0.15 0.065" numOctaves="3" seed="5" result="n"/>
<feTurbulence type="fractalNoise" baseFrequency="0.32 0.05" numOctaves="2" seed="55" result="n2"/>
<feColorMatrix in="n" type="matrix" values="1 0 0 0 0  1 0 0 0 0  1 0 0 0 0  0 0 0 0 1" result="g"/>
<feComponentTransfer in="g" result="col"><feFuncR type="table" tableValues="0.16 0.16 0.16 0.16 0.16 0.16 0.16 0.16 0.16 0.16 0.16 0.43 0.63 0.72 0.78 0.8 0.84 0.86 0.86 0.86 0.86 0.86 0.86 0.86 0.86"/><feFuncG type="table" tableValues="0.05 0.05 0.05 0.05 0.05 0.05 0.05 0.05 0.05 0.05 0.05 0.17 0.3 0.43 0.54 0.61 0.7 0.75 0.75 0.75 0.75 0.75 0.75 0.75 0.75"/><feFuncB type="table" tableValues="0.01 0.01 0.01 0.01 0.01 0.01 0.01 0.01 0.01 0.01 0.01 0.06 0.15 0.28 0.4 0.49 0.61 0.68 0.68 0.68 0.68 0.68 0.68 0.68 0.68"/></feComponentTransfer>
<feColorMatrix in="n" type="matrix" values="0 0 0 0 0  0 0 0 0 0  0 0 0 0 0  20 0 0 0 -8.400" result="m"/>
<feComposite in="col" in2="m" operator="in" result="tex"/>
<feColorMatrix in="n2" type="matrix" values="0 0 0 0 0.76  0 0 0 0 0.32  0 0 0 0 0.14  0 1 0 0 0" result="r0"/>
<feComponentTransfer in="r0" result="rd"><feFuncA type="table" tableValues="0 0 0 0 0 0 0 0 0 0 0 0.49 0.9 0.5 0 0 0 0 0 0 0 0 0 0 0"/></feComponentTransfer>
<feColorMatrix in="n" type="matrix" values="0 0 0 0 0  0 0 0 0 0  0 0 0 0 0  20 0 0 0 -7.600" result="m2"/>
<feComposite in="rd" in2="m2" operator="in" result="rdm"/>
<feMerge result="tex2"><feMergeNode in="tex"/><feMergeNode in="rdm"/></feMerge>
<feComposite in="tex2" in2="SourceAlpha" operator="in"/>
</filter><filter id="t5_430" x="0" y="0" width="100%" height="100%" color-interpolation-filters="sRGB">
<feTurbulence type="fractalNoise" baseFrequency="0.15 0.065" numOctaves="3" seed="5" result="n"/>
<feTurbulence type="fractalNoise" baseFrequency="0.32 0.05" numOctaves="2" seed="55" result="n2"/>
<feColorMatrix in="n" type="matrix" values="1 0 0 0 0  1 0 0 0 0  1 0 0 0 0  0 0 0 0 1" result="g"/>
<feComponentTransfer in="g" result="col"><feFuncR type="table" tableValues="0.16 0.16 0.16 0.16 0.16 0.16 0.16 0.16 0.16 0.16 0.16 0.36 0.58 0.7 0.77 0.8 0.83 0.86 0.86 0.86 0.86 0.86 0.86 0.86 0.86"/><feFuncG type="table" tableValues="0.05 0.05 0.05 0.05 0.05 0.05 0.05 0.05 0.05 0.05 0.05 0.14 0.27 0.4 0.53 0.6 0.68 0.75 0.75 0.75 0.75 0.75 0.75 0.75 0.75"/><feFuncB type="table" tableValues="0.01 0.01 0.01 0.01 0.01 0.01 0.01 0.01 0.01 0.01 0.01 0.05 0.13 0.25 0.38 0.47 0.58 0.68 0.68 0.68 0.68 0.68 0.68 0.68 0.68"/></feComponentTransfer>
<feColorMatrix in="n" type="matrix" values="0 0 0 0 0  0 0 0 0 0  0 0 0 0 0  20 0 0 0 -8.600" result="m"/>
<feComposite in="col" in2="m" operator="in" result="tex"/>
<feColorMatrix in="n2" type="matrix" values="0 0 0 0 0.76  0 0 0 0 0.32  0 0 0 0 0.14  0 1 0 0 0" result="r0"/>
<feComponentTransfer in="r0" result="rd"><feFuncA type="table" tableValues="0 0 0 0 0 0 0 0 0 0 0 0.49 0.9 0.5 0 0 0 0 0 0 0 0 0 0 0"/></feComponentTransfer>
<feColorMatrix in="n" type="matrix" values="0 0 0 0 0  0 0 0 0 0  0 0 0 0 0  20 0 0 0 -7.800" result="m2"/>
<feComposite in="rd" in2="m2" operator="in" result="rdm"/>
<feMerge result="tex2"><feMergeNode in="tex"/><feMergeNode in="rdm"/></feMerge>
<feComposite in="tex2" in2="SourceAlpha" operator="in"/>
</filter><filter id="t5_400" x="0" y="0" width="100%" height="100%" color-interpolation-filters="sRGB">
<feTurbulence type="fractalNoise" baseFrequency="0.15 0.065" numOctaves="3" seed="5" result="n"/>
<feTurbulence type="fractalNoise" baseFrequency="0.32 0.05" numOctaves="2" seed="55" result="n2"/>
<feColorMatrix in="n" type="matrix" values="1 0 0 0 0  1 0 0 0 0  1 0 0 0 0  0 0 0 0 1" result="g"/>
<feComponentTransfer in="g" result="col"><feFuncR type="table" tableValues="0.16 0.16 0.16 0.16 0.16 0.16 0.16 0.16 0.16 0.16 0.28 0.53 0.68 0.76 0.79 0.82 0.86 0.86 0.86 0.86 0.86 0.86 0.86 0.86 0.86"/><feFuncG type="table" tableValues="0.05 0.05 0.05 0.05 0.05 0.05 0.05 0.05 0.05 0.05 0.1 0.23 0.37 0.5 0.58 0.65 0.75 0.75 0.75 0.75 0.75 0.75 0.75 0.75 0.75"/><feFuncB type="table" tableValues="0.01 0.01 0.01 0.01 0.01 0.01 0.01 0.01 0.01 0.01 0.03 0.11 0.21 0.35 0.45 0.55 0.67 0.68 0.68 0.68 0.68 0.68 0.68 0.68 0.68"/></feComponentTransfer>
<feColorMatrix in="n" type="matrix" values="0 0 0 0 0  0 0 0 0 0  0 0 0 0 0  20 0 0 0 -8.000" result="m"/>
<feComposite in="col" in2="m" operator="in" result="tex"/>
<feColorMatrix in="n2" type="matrix" values="0 0 0 0 0.76  0 0 0 0 0.32  0 0 0 0 0.14  0 1 0 0 0" result="r0"/>
<feComponentTransfer in="r0" result="rd"><feFuncA type="table" tableValues="0 0 0 0 0 0 0 0 0 0 0 0.49 0.9 0.5 0 0 0 0 0 0 0 0 0 0 0"/></feComponentTransfer>
<feColorMatrix in="n" type="matrix" values="0 0 0 0 0  0 0 0 0 0  0 0 0 0 0  20 0 0 0 -7.200" result="m2"/>
<feComposite in="rd" in2="m2" operator="in" result="rdm"/>
<feMerge result="tex2"><feMergeNode in="tex"/><feMergeNode in="rdm"/></feMerge>
<feComposite in="tex2" in2="SourceAlpha" operator="in"/>
</filter><clipPath id="cA5"><polygon points="224.0,131.8 227.5,132.4 231.0,130.0 234.5,130.1 238.0,133.0 241.5,132.1 245.0,133.6 248.5,132.3 252.0,130.6 255.5,130.2 259.0,132.1 262.5,132.8 266.0,133.4 269.5,131.5 274.9,131.9 271.6,135.7 274.6,139.1 271.5,142.9 272.5,146.5 272.8,150.0 274.7,153.6 273.0,157.1 273.0,160.6 274.1,164.2 271.7,167.7 274.3,171.4 271.6,174.8 273.2,178.4 271.9,181.9 271.3,185.5 272.5,189.3 271.7,193.0 271.1,196.6 271.0,200.3 271.0,204.1 267.3,202.5 263.5,202.7 259.8,204.6 256.1,204.6 252.4,204.1 248.6,205.5 244.9,204.5 241.2,205.6 237.5,202.8 233.7,205.1 228.6,204.2 227.7,200.6 229.8,196.6 229.3,192.9 226.2,189.6 228.7,185.5 224.8,182.2 225.0,178.6 227.9,174.7 227.1,171.2 224.7,167.9 226.4,164.1 226.8,160.5 223.2,157.2 224.7,153.5 222.7,150.0 225.6,146.4 224.4,142.8 223.2,139.2 226.1,135.6"/></clipPath><filter id="t17_510" x="0" y="0" width="100%" height="100%" color-interpolation-filters="sRGB">
<feTurbulence type="fractalNoise" baseFrequency="0.15 0.065" numOctaves="3" seed="17" result="n"/>
<feTurbulence type="fractalNoise" baseFrequency="0.32 0.05" numOctaves="2" seed="67" result="n2"/>
<feColorMatrix in="n" type="matrix" values="1 0 0 0 0  1 0 0 0 0  1 0 0 0 0  0 0 0 0 1" result="g"/>
<feComponentTransfer in="g" result="col"><feFuncR type="table" tableValues="0.16 0.16 0.16 0.16 0.16 0.16 0.16 0.16 0.16 0.16 0.16 0.16 0.16 0.39 0.6 0.71 0.77 0.8 0.83 0.86 0.86 0.86 0.86 0.86 0.86"/><feFuncG type="table" tableValues="0.05 0.05 0.05 0.05 0.05 0.05 0.05 0.05 0.05 0.05 0.05 0.05 0.05 0.15 0.28 0.41 0.53 0.6 0.69 0.75 0.75 0.75 0.75 0.75 0.75"/><feFuncB type="table" tableValues="0.01 0.01 0.01 0.01 0.01 0.01 0.01 0.01 0.01 0.01 0.01 0.01 0.01 0.05 0.14 0.26 0.39 0.48 0.59 0.68 0.68 0.68 0.68 0.68 0.68"/></feComponentTransfer>
<feColorMatrix in="n" type="matrix" values="0 0 0 0 0  0 0 0 0 0  0 0 0 0 0  20 0 0 0 -10.200" result="m"/>
<feComposite in="col" in2="m" operator="in" result="tex"/>
<feColorMatrix in="n2" type="matrix" values="0 0 0 0 0.76  0 0 0 0 0.32  0 0 0 0 0.14  0 1 0 0 0" result="r0"/>
<feComponentTransfer in="r0" result="rd"><feFuncA type="table" tableValues="0 0 0 0 0 0 0 0 0 0 0 0.49 0.9 0.5 0 0 0 0 0 0 0 0 0 0 0"/></feComponentTransfer>
<feColorMatrix in="n" type="matrix" values="0 0 0 0 0  0 0 0 0 0  0 0 0 0 0  20 0 0 0 -9.400" result="m2"/>
<feComposite in="rd" in2="m2" operator="in" result="rdm"/>
<feMerge result="tex2"><feMergeNode in="tex"/><feMergeNode in="rdm"/></feMerge>
<feComposite in="tex2" in2="SourceAlpha" operator="in"/>
</filter><filter id="t17_570" x="0" y="0" width="100%" height="100%" color-interpolation-filters="sRGB">
<feTurbulence type="fractalNoise" baseFrequency="0.15 0.065" numOctaves="3" seed="17" result="n"/>
<feTurbulence type="fractalNoise" baseFrequency="0.32 0.05" numOctaves="2" seed="67" result="n2"/>
<feColorMatrix in="n" type="matrix" values="1 0 0 0 0  1 0 0 0 0  1 0 0 0 0  0 0 0 0 1" result="g"/>
<feComponentTransfer in="g" result="col"><feFuncR type="table" tableValues="0.16 0.16 0.16 0.16 0.16 0.16 0.16 0.16 0.16 0.16 0.16 0.16 0.16 0.16 0.26 0.51 0.68 0.75 0.79 0.82 0.86 0.86 0.86 0.86 0.86"/><feFuncG type="table" tableValues="0.05 0.05 0.05 0.05 0.05 0.05 0.05 0.05 0.05 0.05 0.05 0.05 0.05 0.05 0.09 0.22 0.36 0.49 0.57 0.64 0.74 0.75 0.75 0.75 0.75"/><feFuncB type="table" tableValues="0.01 0.01 0.01 0.01 0.01 0.01 0.01 0.01 0.01 0.01 0.01 0.01 0.01 0.01 0.03 0.1 0.2 0.34 0.44 0.53 0.66 0.68 0.68 0.68 0.68"/></feComponentTransfer>
<feColorMatrix in="n" type="matrix" values="0 0 0 0 0  0 0 0 0 0  0 0 0 0 0  20 0 0 0 -11.400" result="m"/>
<feComposite in="col" in2="m" operator="in" result="tex"/>
<feColorMatrix in="n2" type="matrix" values="0 0 0 0 0.76  0 0 0 0 0.32  0 0 0 0 0.14  0 1 0 0 0" result="r0"/>
<feComponentTransfer in="r0" result="rd"><feFuncA type="table" tableValues="0 0 0 0 0 0 0 0 0 0 0 0.49 0.9 0.5 0 0 0 0 0 0 0 0 0 0 0"/></feComponentTransfer>
<feColorMatrix in="n" type="matrix" values="0 0 0 0 0  0 0 0 0 0  0 0 0 0 0  20 0 0 0 -10.600" result="m2"/>
<feComposite in="rd" in2="m2" operator="in" result="rdm"/>
<feMerge result="tex2"><feMergeNode in="tex"/><feMergeNode in="rdm"/></feMerge>
<feComposite in="tex2" in2="SourceAlpha" operator="in"/>
</filter><filter id="t17_385" x="0" y="0" width="100%" height="100%" color-interpolation-filters="sRGB">
<feTurbulence type="fractalNoise" baseFrequency="0.15 0.065" numOctaves="3" seed="17" result="n"/>
<feTurbulence type="fractalNoise" baseFrequency="0.32 0.05" numOctaves="2" seed="67" result="n2"/>
<feColorMatrix in="n" type="matrix" values="1 0 0 0 0  1 0 0 0 0  1 0 0 0 0  0 0 0 0 1" result="g"/>
<feComponentTransfer in="g" result="col"><feFuncR type="table" tableValues="0.16 0.16 0.16 0.16 0.16 0.16 0.16 0.16 0.16 0.16 0.39 0.6 0.71 0.77 0.8 0.83 0.86 0.86 0.86 0.86 0.86 0.86 0.86 0.86 0.86"/><feFuncG type="table" tableValues="0.05 0.05 0.05 0.05 0.05 0.05 0.05 0.05 0.05 0.05 0.15 0.28 0.41 0.53 0.6 0.69 0.75 0.75 0.75 0.75 0.75 0.75 0.75 0.75 0.75"/><feFuncB type="table" tableValues="0.01 0.01 0.01 0.01 0.01 0.01 0.01 0.01 0.01 0.01 0.05 0.14 0.26 0.39 0.48 0.59 0.68 0.68 0.68 0.68 0.68 0.68 0.68 0.68 0.68"/></feComponentTransfer>
<feColorMatrix in="n" type="matrix" values="0 0 0 0 0  0 0 0 0 0  0 0 0 0 0  20 0 0 0 -7.700" result="m"/>
<feComposite in="col" in2="m" operator="in" result="tex"/>
<feColorMatrix in="n2" type="matrix" values="0 0 0 0 0.76  0 0 0 0 0.32  0 0 0 0 0.14  0 1 0 0 0" result="r0"/>
<feComponentTransfer in="r0" result="rd"><feFuncA type="table" tableValues="0 0 0 0 0 0 0 0 0 0 0 0.49 0.9 0.5 0 0 0 0 0 0 0 0 0 0 0"/></feComponentTransfer>
<feColorMatrix in="n" type="matrix" values="0 0 0 0 0  0 0 0 0 0  0 0 0 0 0  20 0 0 0 -6.900" result="m2"/>
<feComposite in="rd" in2="m2" operator="in" result="rdm"/>
<feMerge result="tex2"><feMergeNode in="tex"/><feMergeNode in="rdm"/></feMerge>
<feComposite in="tex2" in2="SourceAlpha" operator="in"/>
</filter><filter id="t17_530" x="0" y="0" width="100%" height="100%" color-interpolation-filters="sRGB">
<feTurbulence type="fractalNoise" baseFrequency="0.15 0.065" numOctaves="3" seed="17" result="n"/>
<feTurbulence type="fractalNoise" baseFrequency="0.32 0.05" numOctaves="2" seed="67" result="n2"/>
<feColorMatrix in="n" type="matrix" values="1 0 0 0 0  1 0 0 0 0  1 0 0 0 0  0 0 0 0 1" result="g"/>
<feComponentTransfer in="g" result="col"><feFuncR type="table" tableValues="0.16 0.16 0.16 0.16 0.16 0.16 0.16 0.16 0.16 0.16 0.16 0.16 0.16 0.25 0.5 0.67 0.75 0.79 0.82 0.85 0.86 0.86 0.86 0.86 0.86"/><feFuncG type="table" tableValues="0.05 0.05 0.05 0.05 0.05 0.05 0.05 0.05 0.05 0.05 0.05 0.05 0.05 0.08 0.22 0.35 0.48 0.57 0.64 0.73 0.75 0.75 0.75 0.75 0.75"/><feFuncB type="table" tableValues="0.01 0.01 0.01 0.01 0.01 0.01 0.01 0.01 0.01 0.01 0.01 0.01 0.01 0.02 0.1 0.19 0.33 0.44 0.53 0.66 0.68 0.68 0.68 0.68 0.68"/></feComponentTransfer>
<feColorMatrix in="n" type="matrix" values="0 0 0 0 0  0 0 0 0 0  0 0 0 0 0  20 0 0 0 -10.600" result="m"/>
<feComposite in="col" in2="m" operator="in" result="tex"/>
<feColorMatrix in="n2" type="matrix" values="0 0 0 0 0.76  0 0 0 0 0.32  0 0 0 0 0.14  0 1 0 0 0" result="r0"/>
<feComponentTransfer in="r0" result="rd"><feFuncA type="table" tableValues="0 0 0 0 0 0 0 0 0 0 0 0.49 0.9 0.5 0 0 0 0 0 0 0 0 0 0 0"/></feComponentTransfer>
<feColorMatrix in="n" type="matrix" values="0 0 0 0 0  0 0 0 0 0  0 0 0 0 0  20 0 0 0 -9.800" result="m2"/>
<feComposite in="rd" in2="m2" operator="in" result="rdm"/>
<feMerge result="tex2"><feMergeNode in="tex"/><feMergeNode in="rdm"/></feMerge>
<feComposite in="tex2" in2="SourceAlpha" operator="in"/>
</filter><filter id="t17_540" x="0" y="0" width="100%" height="100%" color-interpolation-filters="sRGB">
<feTurbulence type="fractalNoise" baseFrequency="0.15 0.065" numOctaves="3" seed="17" result="n"/>
<feTurbulence type="fractalNoise" baseFrequency="0.32 0.05" numOctaves="2" seed="67" result="n2"/>
<feColorMatrix in="n" type="matrix" values="1 0 0 0 0  1 0 0 0 0  1 0 0 0 0  0 0 0 0 1" result="g"/>
<feComponentTransfer in="g" result="col"><feFuncR type="table" tableValues="0.16 0.16 0.16 0.16 0.16 0.16 0.16 0.16 0.16 0.16 0.16 0.16 0.16 0.18 0.46 0.65 0.73 0.78 0.81 0.85 0.86 0.86 0.86 0.86 0.86"/><feFuncG type="table" tableValues="0.05 0.05 0.05 0.05 0.05 0.05 0.05 0.05 0.05 0.05 0.05 0.05 0.05 0.05 0.18 0.32 0.45 0.55 0.62 0.71 0.75 0.75 0.75 0.75 0.75"/><feFuncB type="table" tableValues="0.01 0.01 0.01 0.01 0.01 0.01 0.01 0.01 0.01 0.01 0.01 0.01 0.01 0.01 0.07 0.16 0.3 0.42 0.5 0.63 0.68 0.68 0.68 0.68 0.68"/></feComponentTransfer>
<feColorMatrix in="n" type="matrix" values="0 0 0 0 0  0 0 0 0 0  0 0 0 0 0  20 0 0 0 -10.800" result="m"/>
<feComposite in="col" in2="m" operator="in" result="tex"/>
<feColorMatrix in="n2" type="matrix" values="0 0 0 0 0.76  0 0 0 0 0.32  0 0 0 0 0.14  0 1 0 0 0" result="r0"/>
<feComponentTransfer in="r0" result="rd"><feFuncA type="table" tableValues="0 0 0 0 0 0 0 0 0 0 0 0.49 0.9 0.5 0 0 0 0 0 0 0 0 0 0 0"/></feComponentTransfer>
<feColorMatrix in="n" type="matrix" values="0 0 0 0 0  0 0 0 0 0  0 0 0 0 0  20 0 0 0 -10.000" result="m2"/>
<feComposite in="rd" in2="m2" operator="in" result="rdm"/>
<feMerge result="tex2"><feMergeNode in="tex"/><feMergeNode in="rdm"/></feMerge>
<feComposite in="tex2" in2="SourceAlpha" operator="in"/>
</filter><filter id="t17_550" x="0" y="0" width="100%" height="100%" color-interpolation-filters="sRGB">
<feTurbulence type="fractalNoise" baseFrequency="0.15 0.065" numOctaves="3" seed="17" result="n"/>
<feTurbulence type="fractalNoise" baseFrequency="0.32 0.05" numOctaves="2" seed="67" result="n2"/>
<feColorMatrix in="n" type="matrix" values="1 0 0 0 0  1 0 0 0 0  1 0 0 0 0  0 0 0 0 1" result="g"/>
<feComponentTransfer in="g" result="col"><feFuncR type="table" tableValues="0.16 0.16 0.16 0.16 0.16 0.16 0.16 0.16 0.16 0.16 0.16 0.16 0.16 0.16 0.4 0.61 0.71 0.77 0.8 0.84 0.86 0.86 0.86 0.86 0.86"/><feFuncG type="table" tableValues="0.05 0.05 0.05 0.05 0.05 0.05 0.05 0.05 0.05 0.05 0.05 0.05 0.05 0.05 0.15 0.29 0.42 0.53 0.6 0.69 0.75 0.75 0.75 0.75 0.75"/><feFuncB type="table" tableValues="0.01 0.01 0.01 0.01 0.01 0.01 0.01 0.01 0.01 0.01 0.01 0.01 0.01 0.01 0.06 0.14 0.27 0.39 0.48 0.6 0.68 0.68 0.68 0.68 0.68"/></feComponentTransfer>
<feColorMatrix in="n" type="matrix" values="0 0 0 0 0  0 0 0 0 0  0 0 0 0 0  20 0 0 0 -11.000" result="m"/>
<feComposite in="col" in2="m" operator="in" result="tex"/>
<feColorMatrix in="n2" type="matrix" values="0 0 0 0 0.76  0 0 0 0 0.32  0 0 0 0 0.14  0 1 0 0 0" result="r0"/>
<feComponentTransfer in="r0" result="rd"><feFuncA type="table" tableValues="0 0 0 0 0 0 0 0 0 0 0 0.49 0.9 0.5 0 0 0 0 0 0 0 0 0 0 0"/></feComponentTransfer>
<feColorMatrix in="n" type="matrix" values="0 0 0 0 0  0 0 0 0 0  0 0 0 0 0  20 0 0 0 -10.200" result="m2"/>
<feComposite in="rd" in2="m2" operator="in" result="rdm"/>
<feMerge result="tex2"><feMergeNode in="tex"/><feMergeNode in="rdm"/></feMerge>
<feComposite in="tex2" in2="SourceAlpha" operator="in"/>
</filter><filter id="t17_480" x="0" y="0" width="100%" height="100%" color-interpolation-filters="sRGB">
<feTurbulence type="fractalNoise" baseFrequency="0.15 0.065" numOctaves="3" seed="17" result="n"/>
<feTurbulence type="fractalNoise" baseFrequency="0.32 0.05" numOctaves="2" seed="67" result="n2"/>
<feColorMatrix in="n" type="matrix" values="1 0 0 0 0  1 0 0 0 0  1 0 0 0 0  0 0 0 0 1" result="g"/>
<feComponentTransfer in="g" result="col"><feFuncR type="table" tableValues="0.16 0.16 0.16 0.16 0.16 0.16 0.16 0.16 0.16 0.16 0.16 0.16 0.31 0.54 0.69 0.76 0.79 0.82 0.86 0.86 0.86 0.86 0.86 0.86 0.86"/><feFuncG type="table" tableValues="0.05 0.05 0.05 0.05 0.05 0.05 0.05 0.05 0.05 0.05 0.05 0.05 0.11 0.24 0.38 0.51 0.58 0.66 0.75 0.75 0.75 0.75 0.75 0.75 0.75"/><feFuncB type="table" tableValues="0.01 0.01 0.01 0.01 0.01 0.01 0.01 0.01 0.01 0.01 0.01 0.01 0.04 0.11 0.22 0.36 0.45 0.56 0.68 0.68 0.68 0.68 0.68 0.68 0.68"/></feComponentTransfer>
<feColorMatrix in="n" type="matrix" values="0 0 0 0 0  0 0 0 0 0  0 0 0 0 0  20 0 0 0 -9.600" result="m"/>
<feComposite in="col" in2="m" operator="in" result="tex"/>
<feColorMatrix in="n2" type="matrix" values="0 0 0 0 0.76  0 0 0 0 0.32  0 0 0 0 0.14  0 1 0 0 0" result="r0"/>
<feComponentTransfer in="r0" result="rd"><feFuncA type="table" tableValues="0 0 0 0 0 0 0 0 0 0 0 0.49 0.9 0.5 0 0 0 0 0 0 0 0 0 0 0"/></feComponentTransfer>
<feColorMatrix in="n" type="matrix" values="0 0 0 0 0  0 0 0 0 0  0 0 0 0 0  20 0 0 0 -8.800" result="m2"/>
<feComposite in="rd" in2="m2" operator="in" result="rdm"/>
<feMerge result="tex2"><feMergeNode in="tex"/><feMergeNode in="rdm"/></feMerge>
<feComposite in="tex2" in2="SourceAlpha" operator="in"/>
</filter><filter id="t17_450" x="0" y="0" width="100%" height="100%" color-interpolation-filters="sRGB">
<feTurbulence type="fractalNoise" baseFrequency="0.15 0.065" numOctaves="3" seed="17" result="n"/>
<feTurbulence type="fractalNoise" baseFrequency="0.32 0.05" numOctaves="2" seed="67" result="n2"/>
<feColorMatrix in="n" type="matrix" values="1 0 0 0 0  1 0 0 0 0  1 0 0 0 0  0 0 0 0 1" result="g"/>
<feComponentTransfer in="g" result="col"><feFuncR type="table" tableValues="0.16 0.16 0.16 0.16 0.16 0.16 0.16 0.16 0.16 0.16 0.16 0.22 0.49 0.67 0.74 0.79 0.81 0.85 0.86 0.86 0.86 0.86 0.86 0.86 0.86"/><feFuncG type="table" tableValues="0.05 0.05 0.05 0.05 0.05 0.05 0.05 0.05 0.05 0.05 0.05 0.07 0.21 0.34 0.47 0.56 0.63 0.73 0.75 0.75 0.75 0.75 0.75 0.75 0.75"/><feFuncB type="table" tableValues="0.01 0.01 0.01 0.01 0.01 0.01 0.01 0.01 0.01 0.01 0.01 0.02 0.09 0.18 0.32 0.43 0.52 0.65 0.68 0.68 0.68 0.68 0.68 0.68 0.68"/></feComponentTransfer>
<feColorMatrix in="n" type="matrix" values="0 0 0 0 0  0 0 0 0 0  0 0 0 0 0  20 0 0 0 -9.000" result="m"/>
<feComposite in="col" in2="m" operator="in" result="tex"/>
<feColorMatrix in="n2" type="matrix" values="0 0 0 0 0.76  0 0 0 0 0.32  0 0 0 0 0.14  0 1 0 0 0" result="r0"/>
<feComponentTransfer in="r0" result="rd"><feFuncA type="table" tableValues="0 0 0 0 0 0 0 0 0 0 0 0.49 0.9 0.5 0 0 0 0 0 0 0 0 0 0 0"/></feComponentTransfer>
<feColorMatrix in="n" type="matrix" values="0 0 0 0 0  0 0 0 0 0  0 0 0 0 0  20 0 0 0 -8.200" result="m2"/>
<feComposite in="rd" in2="m2" operator="in" result="rdm"/>
<feMerge result="tex2"><feMergeNode in="tex"/><feMergeNode in="rdm"/></feMerge>
<feComposite in="tex2" in2="SourceAlpha" operator="in"/>
</filter><filter id="t17_420" x="0" y="0" width="100%" height="100%" color-interpolation-filters="sRGB">
<feTurbulence type="fractalNoise" baseFrequency="0.15 0.065" numOctaves="3" seed="17" result="n"/>
<feTurbulence type="fractalNoise" baseFrequency="0.32 0.05" numOctaves="2" seed="67" result="n2"/>
<feColorMatrix in="n" type="matrix" values="1 0 0 0 0  1 0 0 0 0  1 0 0 0 0  0 0 0 0 1" result="g"/>
<feComponentTransfer in="g" result="col"><feFuncR type="table" tableValues="0.16 0.16 0.16 0.16 0.16 0.16 0.16 0.16 0.16 0.16 0.16 0.43 0.63 0.72 0.78 0.8 0.84 0.86 0.86 0.86 0.86 0.86 0.86 0.86 0.86"/><feFuncG type="table" tableValues="0.05 0.05 0.05 0.05 0.05 0.05 0.05 0.05 0.05 0.05 0.05 0.17 0.3 0.43 0.54 0.61 0.7 0.75 0.75 0.75 0.75 0.75 0.75 0.75 0.75"/><feFuncB type="table" tableValues="0.01 0.01 0.01 0.01 0.01 0.01 0.01 0.01 0.01 0.01 0.01 0.06 0.15 0.28 0.4 0.49 0.61 0.68 0.68 0.68 0.68 0.68 0.68 0.68 0.68"/></feComponentTransfer>
<feColorMatrix in="n" type="matrix" values="0 0 0 0 0  0 0 0 0 0  0 0 0 0 0  20 0 0 0 -8.400" result="m"/>
<feComposite in="col" in2="m" operator="in" result="tex"/>
<feColorMatrix in="n2" type="matrix" values="0 0 0 0 0.76  0 0 0 0 0.32  0 0 0 0 0.14  0 1 0 0 0" result="r0"/>
<feComponentTransfer in="r0" result="rd"><feFuncA type="table" tableValues="0 0 0 0 0 0 0 0 0 0 0 0.49 0.9 0.5 0 0 0 0 0 0 0 0 0 0 0"/></feComponentTransfer>
<feColorMatrix in="n" type="matrix" values="0 0 0 0 0  0 0 0 0 0  0 0 0 0 0  20 0 0 0 -7.600" result="m2"/>
<feComposite in="rd" in2="m2" operator="in" result="rdm"/>
<feMerge result="tex2"><feMergeNode in="tex"/><feMergeNode in="rdm"/></feMerge>
<feComposite in="tex2" in2="SourceAlpha" operator="in"/>
</filter><filter id="rough" x="-10%" y="-10%" width="120%" height="120%"><feTurbulence type="fractalNoise" baseFrequency="0.22" numOctaves="2" seed="3" result="n"/><feDisplacementMap in="SourceGraphic" in2="n" scale="3.4" xChannelSelector="R" yChannelSelector="G"/></filter><filter id="rough1" x="-10%" y="-10%" width="120%" height="120%"><feTurbulence type="fractalNoise" baseFrequency="0.25" numOctaves="2" seed="7" result="n"/><feDisplacementMap in="SourceGraphic" in2="n" scale="1.6" xChannelSelector="R" yChannelSelector="G"/></filter><filter id="vb" x="0" y="0" width="100%" height="100%" color-interpolation-filters="sRGB">
<feTurbulence type="fractalNoise" baseFrequency="0.5 0.16" numOctaves="3" seed="8" result="n"/>
<feColorMatrix in="n" type="matrix" values="1 0 0 0 0  1 0 0 0 0  1 0 0 0 0  0 0 0 0 1" result="g"/>
<feComponentTransfer in="g" result="col"><feFuncR type="table" tableValues="0.54 0.54 0.54 0.54 0.54 0.54 0.54 0.55 0.6 0.65 0.69 0.72 0.76 0.79 0.81 0.83 0.85 0.87 0.88 0.88 0.88 0.88 0.88 0.88 0.88"/><feFuncG type="table" tableValues="0.26 0.26 0.26 0.26 0.26 0.26 0.26 0.27 0.32 0.37 0.42 0.48 0.53 0.59 0.63 0.67 0.72 0.76 0.77 0.77 0.77 0.77 0.77 0.77 0.77"/><feFuncB type="table" tableValues="0.13 0.13 0.13 0.13 0.13 0.13 0.13 0.14 0.18 0.22 0.26 0.33 0.4 0.47 0.53 0.58 0.63 0.68 0.7 0.7 0.7 0.7 0.7 0.7 0.7"/></feComponentTransfer>
<feComposite in="col" in2="SourceAlpha" operator="in"/></filter><filter id="po" x="0" y="0" width="100%" height="100%" color-interpolation-filters="sRGB">
<feTurbulence type="fractalNoise" baseFrequency="0.12 0.06" numOctaves="2" seed="5" result="n"/>
<feColorMatrix in="n" type="matrix" values="1 0 0 0 0  1 0 0 0 0  1 0 0 0 0  0 0 0 0 1" result="g"/>
<feComponentTransfer in="g" result="col"><feFuncR type="table" tableValues="0.66 0.66 0.66 0.66 0.66 0.66 0.66 0.66 0.68 0.71 0.73 0.76 0.78 0.8 0.82 0.83 0.85 0.86 0.86 0.86 0.86 0.86 0.86 0.86 0.86"/><feFuncG type="table" tableValues="0.52 0.52 0.52 0.52 0.52 0.52 0.52 0.52 0.54 0.57 0.6 0.63 0.66 0.68 0.71 0.73 0.76 0.78 0.78 0.78 0.78 0.78 0.78 0.78 0.78"/><feFuncB type="table" tableValues="0.47 0.47 0.47 0.47 0.47 0.47 0.47 0.47 0.5 0.53 0.56 0.59 0.62 0.65 0.68 0.71 0.74 0.77 0.77 0.77 0.77 0.77 0.77 0.77 0.77"/></feComponentTransfer>
<feComposite in="col" in2="SourceAlpha" operator="in"/></filter></defs>
<rect width="685" height="843" fill="#fff"/>
<rect x="29.8" y="12" width="265.9" height="203" fill="#000"/>
<g clip-path="url(#cA0)">
<rect x="38" y="18" width="73" height="59" fill="#fff" filter="url(#t4_325)"/>
<rect x="38" y="76" width="73" height="33" fill="#fff" filter="url(#t4_300)"/>
<rect x="38" y="73.5" width="73" height="2.2" fill="#fff" filter="url(#t4_320)"/>
<rect x="38" y="75.5" width="73" height="2.2" fill="#fff" filter="url(#t4_310)"/>
<rect x="38" y="77.5" width="73" height="2.2" fill="#fff" filter="url(#t4_310)"/>
</g>
<g clip-path="url(#cA1)">
<rect x="128" y="22" width="72" height="29" fill="#fff" filter="url(#t9_370)"/>
<rect x="128" y="50" width="31" height="37" fill="#fff" filter="url(#t9_470)"/>
<rect x="158" y="50" width="42" height="37" fill="#fff" filter="url(#t9_400)"/>
<rect x="128" y="86" width="72" height="23" fill="#fff" filter="url(#t9_375)"/>
<rect x="128" y="45.5" width="31" height="2.2" fill="#fff" filter="url(#t9_390)"/>
<rect x="128" y="47.5" width="31" height="2.2" fill="#fff" filter="url(#t9_400)"/>
<rect x="128" y="49.5" width="31" height="2.2" fill="#fff" filter="url(#t9_420)"/>
<rect x="128" y="51.5" width="31" height="2.2" fill="#fff" filter="url(#t9_440)"/>
<rect x="128" y="53.5" width="31" height="2.2" fill="#fff" filter="url(#t9_450)"/>
<rect x="158" y="47.5" width="42" height="2.2" fill="#fff" filter="url(#t9_380)"/>
<rect x="158" y="49.5" width="42" height="2.2" fill="#fff" filter="url(#t9_390)"/>
<rect x="158" y="51.5" width="42" height="2.2" fill="#fff" filter="url(#t9_390)"/>
<rect x="128" y="81.5" width="31" height="2.2" fill="#fff" filter="url(#t9_450)"/>
<rect x="128" y="83.5" width="31" height="2.2" fill="#fff" filter="url(#t9_440)"/>
<rect x="128" y="85.5" width="31" height="2.2" fill="#fff" filter="url(#t9_420)"/>
<rect x="128" y="87.5" width="31" height="2.2" fill="#fff" filter="url(#t9_410)"/>
<rect x="128" y="89.5" width="31" height="2.2" fill="#fff" filter="url(#t9_390)"/>
<rect x="158" y="83.5" width="42" height="2.2" fill="#fff" filter="url(#t9_390)"/>
<rect x="158" y="85.5" width="42" height="2.2" fill="#fff" filter="url(#t9_390)"/>
<rect x="158" y="87.5" width="42" height="2.2" fill="#fff" filter="url(#t9_380)"/>
</g>
<g clip-path="url(#cA2)">
<rect x="217" y="21" width="69" height="19" fill="#fff" filter="url(#t13_385)"/>
<rect x="217" y="39" width="69" height="48" fill="#fff" filter="url(#t13_560)"/>
<rect x="217" y="86" width="69" height="23" fill="#fff" filter="url(#t13_460)"/>
<rect x="217" y="34.5" width="69" height="2.2" fill="#fff" filter="url(#t13_410)"/>
<rect x="217" y="36.5" width="69" height="2.2" fill="#fff" filter="url(#t13_440)"/>
<rect x="217" y="38.5" width="69" height="2.2" fill="#fff" filter="url(#t13_470)"/>
<rect x="217" y="40.5" width="69" height="2.2" fill="#fff" filter="url(#t13_500)"/>
<rect x="217" y="42.5" width="69" height="2.2" fill="#fff" filter="url(#t13_530)"/>
<rect x="217" y="81.5" width="69" height="2.2" fill="#fff" filter="url(#t13_540)"/>
<rect x="217" y="83.5" width="69" height="2.2" fill="#fff" filter="url(#t13_530)"/>
<rect x="217" y="85.5" width="69" height="2.2" fill="#fff" filter="url(#t13_510)"/>
<rect x="217" y="87.5" width="69" height="2.2" fill="#fff" filter="url(#t13_490)"/>
<rect x="217" y="89.5" width="69" height="2.2" fill="#fff" filter="url(#t13_480)"/>
</g>
<g clip-path="url(#cA3)">
<rect x="43" y="130" width="63" height="34" fill="#fff" filter="url(#t21_365)"/>
<rect x="43" y="163" width="63" height="21" fill="#fff" filter="url(#t21_430)"/>
<rect x="43" y="183" width="63" height="24" fill="#fff" filter="url(#t21_340)"/>
<rect x="43" y="160.5" width="63" height="2.2" fill="#fff" filter="url(#t21_380)"/>
<rect x="43" y="162.5" width="63" height="2.2" fill="#fff" filter="url(#t21_400)"/>
<rect x="43" y="164.5" width="63" height="2.2" fill="#fff" filter="url(#t21_410)"/>
<rect x="43" y="178.5" width="63" height="2.2" fill="#fff" filter="url(#t21_410)"/>
<rect x="43" y="180.5" width="63" height="2.2" fill="#fff" filter="url(#t21_400)"/>
<rect x="43" y="182.5" width="63" height="2.2" fill="#fff" filter="url(#t21_390)"/>
<rect x="43" y="184.5" width="63" height="2.2" fill="#fff" filter="url(#t21_370)"/>
<rect x="43" y="186.5" width="63" height="2.2" fill="#fff" filter="url(#t21_350)"/>
</g>
<g clip-path="url(#cA4)">
<rect x="129" y="128" width="65" height="31" fill="#fff" filter="url(#t5_375)"/>
<rect x="129" y="158" width="65" height="29" fill="#fff" filter="url(#t5_440)"/>
<rect x="129" y="186" width="65" height="22" fill="#fff" filter="url(#t5_385)"/>
<rect x="129" y="155.5" width="65" height="2.2" fill="#fff" filter="url(#t5_390)"/>
<rect x="129" y="157.5" width="65" height="2.2" fill="#fff" filter="url(#t5_410)"/>
<rect x="129" y="159.5" width="65" height="2.2" fill="#fff" filter="url(#t5_420)"/>
<rect x="129" y="183.5" width="65" height="2.2" fill="#fff" filter="url(#t5_430)"/>
<rect x="129" y="185.5" width="65" height="2.2" fill="#fff" filter="url(#t5_410)"/>
<rect x="129" y="187.5" width="65" height="2.2" fill="#fff" filter="url(#t5_400)"/>
</g>
<g clip-path="url(#cA5)">
<rect x="218" y="130" width="61" height="21" fill="#fff" filter="url(#t17_510)"/>
<rect x="218" y="150" width="61" height="34" fill="#fff" filter="url(#t17_570)"/>
<rect x="218" y="183" width="61" height="24" fill="#fff" filter="url(#t17_385)"/>
<rect x="218" y="147.5" width="61" height="2.2" fill="#fff" filter="url(#t17_530)"/>
<rect x="218" y="149.5" width="61" height="2.2" fill="#fff" filter="url(#t17_540)"/>
<rect x="218" y="151.5" width="61" height="2.2" fill="#fff" filter="url(#t17_550)"/>
<rect x="218" y="178.5" width="61" height="2.2" fill="#fff" filter="url(#t17_540)"/>
<rect x="218" y="180.5" width="61" height="2.2" fill="#fff" filter="url(#t17_510)"/>
<rect x="218" y="182.5" width="61" height="2.2" fill="#fff" filter="url(#t17_480)"/>
<rect x="218" y="184.5" width="61" height="2.2" fill="#fff" filter="url(#t17_450)"/>
<rect x="218" y="186.5" width="61" height="2.2" fill="#fff" filter="url(#t17_420)"/>
</g>
<rect x="116.7" y="12" width="2.2" height="203" fill="#fff"/>
<rect x="206.2" y="12" width="1.9" height="203" fill="#fff"/>
<rect x="29.8" y="112.3" width="265.9" height="1.9" fill="#fff"/>
<rect x="97.7" y="107.9" width="15.2" height="1.7" fill="#e8e8e8"/>
<rect x="97.7" y="209.8" width="15.2" height="1.7" fill="#e8e8e8"/>
<rect x="187.5" y="107.9" width="15.2" height="1.7" fill="#e8e8e8"/>
<rect x="187.5" y="209.8" width="15.2" height="1.7" fill="#e8e8e8"/>
<rect x="274.9" y="107.9" width="15.2" height="1.7" fill="#e8e8e8"/>
<rect x="274.9" y="209.8" width="15.2" height="1.7" fill="#e8e8e8"/>
<rect x="13.1" y="395.3" width="282.5" height="145.4" fill="#000"/>
<g fill="none" stroke-linejoin="round">
<g filter="url(#rough1)">
<path d="M27.4 427.0 C31.4 420.0 35.0 417.7 59.0 417.7 C83.0 417.7 86.3 420.6 90.3 427.6 C83.3 432.6 69.2 448.9 60.2 448.9 C51.2 448.9 34.4 432.0 27.4 427.0Z" stroke="#a94c24" stroke-width="6.2"/>
<path d="M27.4 427.0 C31.4 420.0 35.0 417.7 59.0 417.7 C83.0 417.7 86.3 420.6 90.3 427.6 C83.3 432.6 69.2 448.9 60.2 448.9 C51.2 448.9 34.4 432.0 27.4 427.0Z" stroke="#d39673" stroke-width="3.4"/>
<path d="M27.4 427.0 C31.4 420.0 35.0 417.7 59.0 417.7 C83.0 417.7 86.3 420.6 90.3 427.6 C83.3 432.6 69.2 448.9 60.2 448.9 C51.2 448.9 34.4 432.0 27.4 427.0Z" stroke="#f3ece6" stroke-width="1.7"/>
<polygon points="25.7,427.0 28.1,422.8 30.9,422.8 30.3,427.5 30.5,431.6 27.9,430.6" fill="#b9b0da" stroke="#f3ece6" stroke-width="0.9"/>
<polygon points="92.0,427.6 89.6,423.4 86.8,423.4 87.4,428.1 87.2,432.2 89.8,431.2" fill="#b9b0da" stroke="#f3ece6" stroke-width="0.9"/>
</g>
<g filter="url(#rough)" transform="translate(58.9 433.3) scale(0.88 0.84) translate(-58.9 -433.3)">
<path d="M27.4 427.0 C31.4 420.0 35.0 417.7 59.0 417.7 C83.0 417.7 86.3 420.6 90.3 427.6 C83.3 432.6 69.2 448.9 60.2 448.9 C51.2 448.9 34.4 432.0 27.4 427.0Z" stroke="#b8663c" stroke-width="2.6" stroke-dasharray="2.5 3 1.5 4 3 2.5"/>
<path d="M27.4 427.0 C31.4 420.0 35.0 417.7 59.0 417.7 C83.0 417.7 86.3 420.6 90.3 427.6 C83.3 432.6 69.2 448.9 60.2 448.9 C51.2 448.9 34.4 432.0 27.4 427.0Z" stroke="#ead9cc" stroke-width="1.1" stroke-dasharray="2 3.5 1.2 4.3 2.5 3"/>
</g>
<g filter="url(#rough1)">
<path d="M121.3 429.5 C124.3 420.5 128.0 418.1 152.0 418.1 C176.0 418.1 181.1 420.5 184.1 429.5 C176.1 435.5 160.5 451.7 152.5 451.7 C144.5 451.7 129.3 435.5 121.3 429.5Z" stroke="#a94c24" stroke-width="5.8"/>
<path d="M121.3 429.5 C124.3 420.5 128.0 418.1 152.0 418.1 C176.0 418.1 181.1 420.5 184.1 429.5 C176.1 435.5 160.5 451.7 152.5 451.7 C144.5 451.7 129.3 435.5 121.3 429.5Z" stroke="#d39673" stroke-width="3.0"/>
<path d="M121.3 429.5 C124.3 420.5 128.0 418.1 152.0 418.1 C176.0 418.1 181.1 420.5 184.1 429.5 C176.1 435.5 160.5 451.7 152.5 451.7 C144.5 451.7 129.3 435.5 121.3 429.5Z" stroke="#f3ece6" stroke-width="1.3"/>
<polygon points="119.8,429.5 122.2,425.3 125.0,425.3 124.4,430.0 124.6,434.1 122.0,433.1" fill="#b9b0da" stroke="#f3ece6" stroke-width="0.9"/>
<polygon points="185.6,429.5 183.2,425.3 180.4,425.3 181.0,430.0 180.8,434.1 183.4,433.1" fill="#b9b0da" stroke="#f3ece6" stroke-width="0.9"/>
</g>
<g filter="url(#rough)" transform="translate(152.7 434.9) scale(0.88 0.84) translate(-152.7 -434.9)">
<path d="M121.3 429.5 C124.3 420.5 128.0 418.1 152.0 418.1 C176.0 418.1 181.1 420.5 184.1 429.5 C176.1 435.5 160.5 451.7 152.5 451.7 C144.5 451.7 129.3 435.5 121.3 429.5Z" stroke="#b8663c" stroke-width="2.6" stroke-dasharray="2.5 3 1.5 4 3 2.5"/>
<path d="M121.3 429.5 C124.3 420.5 128.0 418.1 152.0 418.1 C176.0 418.1 181.1 420.5 184.1 429.5 C176.1 435.5 160.5 451.7 152.5 451.7 C144.5 451.7 129.3 435.5 121.3 429.5Z" stroke="#ead9cc" stroke-width="1.1" stroke-dasharray="2 3.5 1.2 4.3 2.5 3"/>
</g>
<g filter="url(#rough1)">
<path d="M215.1 427.1 C222.1 420.1 232.5 416.6 248.5 416.6 C264.5 416.6 274.4 420.1 281.4 427.1 C276.4 436.1 268.3 452.5 250.3 452.5 C232.3 452.5 220.1 436.1 215.1 427.1Z" stroke="#a94c24" stroke-width="7.6"/>
<path d="M215.1 427.1 C222.1 420.1 232.5 416.6 248.5 416.6 C264.5 416.6 274.4 420.1 281.4 427.1 C276.4 436.1 268.3 452.5 250.3 452.5 C232.3 452.5 220.1 436.1 215.1 427.1Z" stroke="#d39673" stroke-width="4.8"/>
<path d="M215.1 427.1 C222.1 420.1 232.5 416.6 248.5 416.6 C264.5 416.6 274.4 420.1 281.4 427.1 C276.4 436.1 268.3 452.5 250.3 452.5 C232.3 452.5 220.1 436.1 215.1 427.1Z" stroke="#f3ece6" stroke-width="2.0"/>
<polygon points="212.7,427.1 215.1,422.9 217.9,422.9 217.3,427.6 217.5,431.7 214.9,430.7" fill="#b9b0da" stroke="#f3ece6" stroke-width="0.9"/>
<polygon points="283.8,427.1 281.4,422.9 278.6,422.9 279.2,427.6 279.0,431.7 281.6,430.7" fill="#b9b0da" stroke="#f3ece6" stroke-width="0.9"/>
</g>
<g filter="url(#rough)" transform="translate(248.2 434.6) scale(0.86 0.82) translate(-248.2 -434.6)">
<path d="M215.1 427.1 C222.1 420.1 232.5 416.6 248.5 416.6 C264.5 416.6 274.4 420.1 281.4 427.1 C276.4 436.1 268.3 452.5 250.3 452.5 C232.3 452.5 220.1 436.1 215.1 427.1Z" stroke="#b8663c" stroke-width="2.6" stroke-dasharray="2.5 3 1.5 4 3 2.5"/>
<path d="M215.1 427.1 C222.1 420.1 232.5 416.6 248.5 416.6 C264.5 416.6 274.4 420.1 281.4 427.1 C276.4 436.1 268.3 452.5 250.3 452.5 C232.3 452.5 220.1 436.1 215.1 427.1Z" stroke="#ead9cc" stroke-width="1.1" stroke-dasharray="2 3.5 1.2 4.3 2.5 3"/>
</g>
<g filter="url(#rough1)">
<path d="M28.5 501.5 C32.5 493.5 36.5 490.5 60.5 490.5 C84.5 490.5 89.1 493.5 93.1 501.5 C86.1 507.5 70.5 525.9 60.5 525.9 C50.5 525.9 35.5 507.5 28.5 501.5Z" stroke="#a94c24" stroke-width="6.2"/>
<path d="M28.5 501.5 C32.5 493.5 36.5 490.5 60.5 490.5 C84.5 490.5 89.1 493.5 93.1 501.5 C86.1 507.5 70.5 525.9 60.5 525.9 C50.5 525.9 35.5 507.5 28.5 501.5Z" stroke="#d39673" stroke-width="3.4"/>
<path d="M28.5 501.5 C32.5 493.5 36.5 490.5 60.5 490.5 C84.5 490.5 89.1 493.5 93.1 501.5 C86.1 507.5 70.5 525.9 60.5 525.9 C50.5 525.9 35.5 507.5 28.5 501.5Z" stroke="#f3ece6" stroke-width="1.7"/>
<polygon points="26.8,501.5 29.2,497.3 32.0,497.3 31.4,502.0 31.6,506.1 29.0,505.1" fill="#b9b0da" stroke="#f3ece6" stroke-width="0.9"/>
<polygon points="94.8,501.5 92.4,497.3 89.6,497.3 90.2,502.0 90.0,506.1 92.6,505.1" fill="#b9b0da" stroke="#f3ece6" stroke-width="0.9"/>
</g>
<g filter="url(#rough)" transform="translate(60.8 508.2) scale(0.88 0.84) translate(-60.8 -508.2)">
<path d="M28.5 501.5 C32.5 493.5 36.5 490.5 60.5 490.5 C84.5 490.5 89.1 493.5 93.1 501.5 C86.1 507.5 70.5 525.9 60.5 525.9 C50.5 525.9 35.5 507.5 28.5 501.5Z" stroke="#b8663c" stroke-width="2.6" stroke-dasharray="2.5 3 1.5 4 3 2.5"/>
<path d="M28.5 501.5 C32.5 493.5 36.5 490.5 60.5 490.5 C84.5 490.5 89.1 493.5 93.1 501.5 C86.1 507.5 70.5 525.9 60.5 525.9 C50.5 525.9 35.5 507.5 28.5 501.5Z" stroke="#ead9cc" stroke-width="1.1" stroke-dasharray="2 3.5 1.2 4.3 2.5 3"/>
</g>
<g filter="url(#rough1)">
<path d="M120.4 502.0 C124.4 494.0 128.0 492.6 150.0 492.6 C172.0 492.6 181.4 494.0 185.4 502.0 C177.4 508.0 161.0 526.2 152.0 526.2 C143.0 526.2 128.4 508.0 120.4 502.0Z" stroke="#a94c24" stroke-width="5.6"/>
<path d="M120.4 502.0 C124.4 494.0 128.0 492.6 150.0 492.6 C172.0 492.6 181.4 494.0 185.4 502.0 C177.4 508.0 161.0 526.2 152.0 526.2 C143.0 526.2 128.4 508.0 120.4 502.0Z" stroke="#d39673" stroke-width="2.8"/>
<path d="M120.4 502.0 C124.4 494.0 128.0 492.6 150.0 492.6 C172.0 492.6 181.4 494.0 185.4 502.0 C177.4 508.0 161.0 526.2 152.0 526.2 C143.0 526.2 128.4 508.0 120.4 502.0Z" stroke="#f3ece6" stroke-width="1.1"/>
<polygon points="119.0,502.0 121.4,497.8 124.2,497.8 123.6,502.5 123.8,506.6 121.2,505.6" fill="#b9b0da" stroke="#f3ece6" stroke-width="0.9"/>
<polygon points="186.8,502.0 184.4,497.8 181.6,497.8 182.2,502.5 182.0,506.6 184.6,505.6" fill="#b9b0da" stroke="#f3ece6" stroke-width="0.9"/>
</g>
<g filter="url(#rough)" transform="translate(152.9 509.4) scale(0.88 0.84) translate(-152.9 -509.4)">
<path d="M120.4 502.0 C124.4 494.0 128.0 492.6 150.0 492.6 C172.0 492.6 181.4 494.0 185.4 502.0 C177.4 508.0 161.0 526.2 152.0 526.2 C143.0 526.2 128.4 508.0 120.4 502.0Z" stroke="#b8663c" stroke-width="2.6" stroke-dasharray="2.5 3 1.5 4 3 2.5"/>
<path d="M120.4 502.0 C124.4 494.0 128.0 492.6 150.0 492.6 C172.0 492.6 181.4 494.0 185.4 502.0 C177.4 508.0 161.0 526.2 152.0 526.2 C143.0 526.2 128.4 508.0 120.4 502.0Z" stroke="#ead9cc" stroke-width="1.1" stroke-dasharray="2 3.5 1.2 4.3 2.5 3"/>
</g>
<g filter="url(#rough1)">
<path d="M215.2 503.5 C222.2 496.5 231.0 492.7 247.0 492.7 C263.0 492.7 275.3 497.3 282.3 504.3 C277.3 513.3 266.5 527.3 248.5 527.3 C230.5 527.3 220.2 512.5 215.2 503.5Z" stroke="#a94c24" stroke-width="7.4"/>
<path d="M215.2 503.5 C222.2 496.5 231.0 492.7 247.0 492.7 C263.0 492.7 275.3 497.3 282.3 504.3 C277.3 513.3 266.5 527.3 248.5 527.3 C230.5 527.3 220.2 512.5 215.2 503.5Z" stroke="#d39673" stroke-width="4.6"/>
<path d="M215.2 503.5 C222.2 496.5 231.0 492.7 247.0 492.7 C263.0 492.7 275.3 497.3 282.3 504.3 C277.3 513.3 266.5 527.3 248.5 527.3 C230.5 527.3 220.2 512.5 215.2 503.5Z" stroke="#f3ece6" stroke-width="1.8"/>
<polygon points="212.9,503.5 215.3,499.3 218.1,499.3 217.5,504.0 217.7,508.1 215.1,507.1" fill="#b9b0da" stroke="#f3ece6" stroke-width="0.9"/>
<polygon points="284.6,504.3 282.2,500.1 279.4,500.1 280.0,504.8 279.8,508.9 282.4,507.9" fill="#b9b0da" stroke="#f3ece6" stroke-width="0.9"/>
</g>
<g filter="url(#rough)" transform="translate(248.8 510.0) scale(0.86 0.82) translate(-248.8 -510.0)">
<path d="M215.2 503.5 C222.2 496.5 231.0 492.7 247.0 492.7 C263.0 492.7 275.3 497.3 282.3 504.3 C277.3 513.3 266.5 527.3 248.5 527.3 C230.5 527.3 220.2 512.5 215.2 503.5Z" stroke="#b8663c" stroke-width="2.6" stroke-dasharray="2.5 3 1.5 4 3 2.5"/>
<path d="M215.2 503.5 C222.2 496.5 231.0 492.7 247.0 492.7 C263.0 492.7 275.3 497.3 282.3 504.3 C277.3 513.3 266.5 527.3 248.5 527.3 C230.5 527.3 220.2 512.5 215.2 503.5Z" stroke="#ead9cc" stroke-width="1.1" stroke-dasharray="2 3.5 1.2 4.3 2.5 3"/>
</g>
</g>
<rect x="106.2" y="395.3" width="1.6" height="145.4" fill="#fff"/>
<rect x="200.4" y="395.3" width="1.7" height="145.4" fill="#fff"/>
<rect x="13.1" y="466.7" width="282.5" height="2.8" fill="#fff"/>
<rect x="86.9" y="460.2" width="14.7" height="1.8" fill="#e8e8e8"/>
<rect x="86.9" y="533.8" width="14.7" height="1.8" fill="#e8e8e8"/>
<rect x="181.5" y="460.2" width="14.7" height="1.8" fill="#e8e8e8"/>
<rect x="181.5" y="533.8" width="14.7" height="1.8" fill="#e8e8e8"/>
<rect x="276.3" y="460.2" width="14.7" height="1.8" fill="#e8e8e8"/>
<rect x="276.3" y="533.8" width="14.7" height="1.8" fill="#e8e8e8"/>
<rect x="301.1" y="413.4" width="61.3" height="125.2" fill="#000"/>
<rect x="364.6" y="413.4" width="61.3" height="125.2" fill="#000"/>
<rect x="432.7" y="413.4" width="61.3" height="125.2" fill="#000"/>
<rect x="496.2" y="413.4" width="59.7" height="125.2" fill="#000"/>
<rect x="561.8" y="413.4" width="60.5" height="125.2" fill="#000"/>
<rect x="624.3" y="413.4" width="60.1" height="125.2" fill="#000"/>
<path d="M339.8 430.3 L344.9 435.3 L349.8 430.3 L351.8 431.8 L352.2 452.4 L351.8 474.5 L349.6 471.5 Q349.3 465.7 342.9 464.9 L334.6 463.7Z" fill="#fff" filter="url(#po)"/>
<path d="M330.0 482.8 L337.2 487.8 L349.8 473.8 L351.8 475.3 L352.2 502.4 L351.8 531.0 L339.5 531.0 L341.4 524.0 Q340.7 519.5 334.0 518.7 L326.1 517.5Z" fill="#fff" filter="url(#po)"/>
<polygon points="326.9,434.2 340.3,430.8 333.1,476.9 317.7,474.9" fill="#efe2d6" stroke="#efe2d6" stroke-width="2.8" stroke-linejoin="round"/>
<polygon points="326.9,434.2 340.3,430.8 333.1,476.9 317.7,474.9" fill="#fff" stroke="#fff" stroke-width="1.0" stroke-linejoin="round" filter="url(#vb)"/>
<polygon points="317.2,485.6 330.5,483.3 325.4,528.4 312.1,526.3" fill="#efe2d6" stroke="#efe2d6" stroke-width="2.8" stroke-linejoin="round"/>
<polygon points="317.2,485.6 330.5,483.3 325.4,528.4 312.1,526.3" fill="#fff" stroke="#fff" stroke-width="1.0" stroke-linejoin="round" filter="url(#vb)"/>
<path d="M400.1 430.3 L405.1 435.3 L411.2 431.3 L413.2 432.8 L413.6 453.4 L413.2 475.5 L411.0 472.5 Q410.7 465.7 404.5 464.9 L396.3 463.7Z" fill="#fff" filter="url(#po)"/>
<path d="M392.5 482.8 L398.6 487.8 L411.2 475.8 L413.2 477.3 L413.6 503.4 L413.2 531.0 L402.9 531.0 L404.6 524.0 Q404.0 520.2 398.4 519.4 L391.7 518.2Z" fill="#fff" filter="url(#po)"/>
<polygon points="385.2,433.1 400.5,430.8 395.3,476.9 378.9,474.9" fill="#efe2d6" stroke="#efe2d6" stroke-width="2.8" stroke-linejoin="round"/>
<polygon points="385.2,433.1 400.5,430.8 395.3,476.9 378.9,474.9" fill="#fff" stroke="#fff" stroke-width="1.0" stroke-linejoin="round" filter="url(#vb)"/>
<polygon points="379.7,486.7 393.0,483.3 391.9,529.5 373.4,529.6" fill="#efe2d6" stroke="#efe2d6" stroke-width="2.8" stroke-linejoin="round"/>
<polygon points="379.7,486.7 393.0,483.3 391.9,529.5 373.4,529.6" fill="#fff" stroke="#fff" stroke-width="1.0" stroke-linejoin="round" filter="url(#vb)"/>
<path d="M465.5 423.8 L470.7 428.8 L477.6 419.7 L479.6 421.2 L480.0 445.5 L479.6 471.4 L477.4 468.4 Q477.1 463.0 470.3 462.2 L461.8 461.0Z" fill="#fff" filter="url(#po)"/>
<path d="M459.0 481.8 L465.1 486.8 L477.6 469.7 L479.6 471.2 L480.0 501.5 L479.6 533.3 L469.4 533.3 L471.0 526.3 Q470.4 521.6 464.9 520.8 L458.2 519.6Z" fill="#fff" filter="url(#po)"/>
<polygon points="449.4,427.6 466.0,424.2 460.7,475.8 442.1,473.8" fill="#efe2d6" stroke="#efe2d6" stroke-width="2.8" stroke-linejoin="round"/>
<polygon points="449.4,427.6 466.0,424.2 460.7,475.8 442.1,473.8" fill="#fff" stroke="#fff" stroke-width="1.0" stroke-linejoin="round" filter="url(#vb)"/>
<polygon points="445.1,485.6 459.5,482.2 458.4,531.8 437.7,531.9" fill="#efe2d6" stroke="#efe2d6" stroke-width="2.8" stroke-linejoin="round"/>
<polygon points="445.1,485.6 459.5,482.2 458.4,531.8 437.7,531.9" fill="#fff" stroke="#fff" stroke-width="1.0" stroke-linejoin="round" filter="url(#vb)"/>
<path d="M530.1 423.8 L535.3 428.8 L543.6 420.7 L545.6 422.2 L546.0 446.5 L545.6 472.3 L543.4 469.3 Q543.1 462.2 536.4 461.4 L527.9 460.2Z" fill="#fff" filter="url(#po)"/>
<path d="M526.9 480.7 L532.5 485.7 L543.6 470.6 L545.6 472.1 L546.0 501.9 L545.6 533.3 L536.3 533.3 L537.8 526.3 Q537.3 521.3 532.3 520.5 L526.1 519.3Z" fill="#fff" filter="url(#po)"/>
<polygon points="515.2,428.6 530.6,424.2 527.5,474.8 508.9,473.8" fill="#efe2d6" stroke="#efe2d6" stroke-width="2.8" stroke-linejoin="round"/>
<polygon points="515.2,428.6 530.6,424.2 527.5,474.8 508.9,473.8" fill="#fff" stroke="#fff" stroke-width="1.0" stroke-linejoin="round" filter="url(#vb)"/>
<polygon points="511.9,485.5 527.4,481.1 526.3,531.8 505.6,531.9" fill="#efe2d6" stroke="#efe2d6" stroke-width="2.8" stroke-linejoin="round"/>
<polygon points="511.9,485.5 527.4,481.1 526.3,531.8 505.6,531.9" fill="#fff" stroke="#fff" stroke-width="1.0" stroke-linejoin="round" filter="url(#vb)"/>
<path d="M601.1 419.0 L606.3 424.0 L613.6 417.8 L615.6 419.3 L616.0 446.0 L615.6 474.1 L613.4 471.1 Q613.1 460.6 606.3 459.8 L597.6 458.6Z" fill="#fff" filter="url(#po)"/>
<path d="M595.0 481.2 L601.5 486.2 L613.6 470.1 L615.6 471.6 L616.0 503.7 L615.6 537.3 L604.7 537.3 L606.4 530.3 Q605.8 522.9 599.9 522.1 L592.8 520.9Z" fill="#fff" filter="url(#po)"/>
<polygon points="586.2,423.5 601.6,419.3 596.8,474.5 578.4,472.6" fill="#efe2d6" stroke="#efe2d6" stroke-width="2.8" stroke-linejoin="round"/>
<polygon points="586.2,423.5 601.6,419.3 596.8,474.5 578.4,472.6" fill="#fff" stroke="#fff" stroke-width="1.0" stroke-linejoin="round" filter="url(#vb)"/>
<polygon points="581.1,485.8 595.5,481.6 592.6,533.8 572.4,532.9" fill="#efe2d6" stroke="#efe2d6" stroke-width="2.8" stroke-linejoin="round"/>
<polygon points="581.1,485.8 595.5,481.6 592.6,533.8 572.4,532.9" fill="#fff" stroke="#fff" stroke-width="1.0" stroke-linejoin="round" filter="url(#vb)"/>
<path d="M663.5 421.9 L667.5 426.9 L670.9 418.9 L672.9 420.4 L673.3 444.9 L672.9 471.0 L670.7 468.0 Q670.4 459.4 666.3 458.6 L660.0 457.4Z" fill="#fff" filter="url(#po)"/>
<path d="M657.4 478.2 L662.4 483.2 L670.9 467.1 L672.9 468.6 L673.3 499.2 L672.9 531.2 L664.9 531.2 L666.2 524.2 Q665.7 519.1 661.4 518.3 L655.9 517.1Z" fill="#fff" filter="url(#po)"/>
<polygon points="648.6,427.6 664.0,422.4 659.0,471.4 641.8,469.6" fill="#efe2d6" stroke="#efe2d6" stroke-width="2.8" stroke-linejoin="round"/>
<polygon points="648.6,427.6 664.0,422.4 659.0,471.4 641.8,469.6" fill="#fff" stroke="#fff" stroke-width="1.0" stroke-linejoin="round" filter="url(#vb)"/>
<polygon points="643.5,483.8 657.9,478.6 655.9,529.7 636.6,528.8" fill="#efe2d6" stroke="#efe2d6" stroke-width="2.8" stroke-linejoin="round"/>
<polygon points="643.5,483.8 657.9,478.6 655.9,529.7 636.6,528.8" fill="#fff" stroke="#fff" stroke-width="1.0" stroke-linejoin="round" filter="url(#vb)"/>
<line x1="327.4" y1="432.4" x2="317.7" y2="476.4" stroke="#1ea0e0" stroke-width="1.15"/>
<line x1="333.9" y1="431.0" x2="325.1" y2="477.4" stroke="#1ea0e0" stroke-width="1.15"/>
<line x1="340.3" y1="429.5" x2="332.5" y2="478.4" stroke="#1ea0e0" stroke-width="1.15"/>
<line x1="317.6" y1="483.9" x2="312.1" y2="527.9" stroke="#1ea0e0" stroke-width="1.15"/>
<line x1="324.0" y1="482.9" x2="318.5" y2="528.9" stroke="#1ea0e0" stroke-width="1.15"/>
<line x1="330.4" y1="481.9" x2="325.0" y2="529.9" stroke="#1ea0e0" stroke-width="1.15"/>
<line x1="316" y1="478.5" x2="315.3" y2="484.5" stroke="#1f9a4a" stroke-width="0.9"/>
<line x1="324" y1="478.5" x2="323.3" y2="484.5" stroke="#1f9a4a" stroke-width="0.9"/>
<line x1="330.5" y1="478.5" x2="329.8" y2="484.5" stroke="#1f9a4a" stroke-width="0.9"/>
<rect x="358.4" y="522.3" width="1.7" height="13.2" fill="#e8e8e8"/>
<rect x="421.7" y="522.3" width="1.7" height="13.2" fill="#e8e8e8"/>
<rect x="488.6" y="522.3" width="1.7" height="13.2" fill="#e8e8e8"/>
<rect x="551.8" y="522.3" width="1.7" height="13.2" fill="#e8e8e8"/>
<rect x="616.5" y="522.3" width="1.7" height="13.2" fill="#e8e8e8"/>
<rect x="679.3" y="522.3" width="1.7" height="13.2" fill="#e8e8e8"/>
<text x="1.80" y="13.20" font-size="14.8" text-anchor="start" font-weight="bold" font-style="normal" fill="#000">A</text>
<text x="75.00" y="7.40" font-size="10.7" text-anchor="middle" font-weight="normal" font-style="normal" fill="#000">7M</text>
<text x="162.50" y="7.40" font-size="10.7" text-anchor="middle" font-weight="normal" font-style="normal" fill="#000">12M</text>
<text x="250.50" y="7.40" font-size="10.7" text-anchor="middle" font-weight="normal" font-style="normal" fill="#000">20M</text>
<text x="24.60" y="67.60" font-size="11.1" text-anchor="middle" font-weight="normal" font-style="normal" fill="#000" transform="rotate(-90 24.60 67.60)">WT</text>
<text x="24.6" y="168" font-size="11.1" text-anchor="middle" fill="#000" transform="rotate(-90 24.6 168)"><tspan font-style="italic">Opa1</tspan>cKO</text>
<text x="0.70" y="392.60" font-size="14.5" text-anchor="start" font-weight="bold" font-style="normal" fill="#000">H</text>
<text x="63.50" y="391.60" font-size="10.7" text-anchor="middle" font-weight="normal" font-style="normal" fill="#000">7M</text>
<text x="155.50" y="391.60" font-size="10.7" text-anchor="middle" font-weight="normal" font-style="normal" fill="#000">12M</text>
<text x="249.50" y="391.60" font-size="10.7" text-anchor="middle" font-weight="normal" font-style="normal" fill="#000">20M</text>
<text x="9.60" y="430.00" font-size="10.7" text-anchor="middle" font-weight="normal" font-style="normal" fill="#000" transform="rotate(-90 9.60 430.00)">WT</text>
<text x="9.6" y="507.6" font-size="10.7" text-anchor="middle" fill="#000" transform="rotate(-90 9.6 507.6)"><tspan font-style="italic">Opa1</tspan>cKO</text>
<text x="307.70" y="391.60" font-size="14.5" text-anchor="start" font-weight="bold" font-style="normal" fill="#000">M</text>
<text x="362.90" y="392.00" font-size="10.7" text-anchor="middle" font-weight="normal" font-style="normal" fill="#000">7M</text>
<text x="491.80" y="392.00" font-size="10.7" text-anchor="middle" font-weight="normal" font-style="normal" fill="#000">12M</text>
<text x="622.70" y="392.00" font-size="10.7" text-anchor="middle" font-weight="normal" font-style="normal" fill="#000">20M</text>
<rect x="301.1" y="395.9" width="120.9" height="1" fill="#444"/>
<rect x="431.1" y="395.9" width="120.9" height="1" fill="#444"/>
<rect x="560.9" y="395.9" width="120.6" height="1" fill="#444"/>
<text x="331.60" y="410.00" font-size="10.7" text-anchor="middle" font-weight="normal" font-style="normal" fill="#000">WT</text>
<text x="461.10" y="410.00" font-size="10.7" text-anchor="middle" font-weight="normal" font-style="normal" fill="#000">Wt</text>
<text x="591.00" y="410.00" font-size="10.7" text-anchor="middle" font-weight="normal" font-style="normal" fill="#000">WT</text>
<text x="394.6" y="410" font-size="10.7" text-anchor="middle" fill="#000"><tspan font-style="italic">Opa1</tspan>cKO</text>
<text x="525.7" y="410" font-size="10.7" text-anchor="middle" fill="#000"><tspan font-style="italic">Opa1</tspan>cKO</text>
<text x="654.3" y="410" font-size="10.7" text-anchor="middle" fill="#000"><tspan font-style="italic">Opa1</tspan>cKO</text>
<text x="314.30" y="452.50" font-size="5.6" text-anchor="middle" font-weight="normal" font-style="normal" fill="#2aa4dc">VL</text>
<text x="307.20" y="483.80" font-size="5.6" text-anchor="middle" font-weight="normal" font-style="normal" fill="#1f9a4a">DH</text>
<text x="307.70" y="512.30" font-size="5.6" text-anchor="middle" font-weight="normal" font-style="normal" fill="#2aa4dc">VL</text>
<line x1="387.24" y1="88.44" x2="387.24" y2="189.51" stroke="#000" stroke-width="1.3" stroke-dasharray="2.9 1.1"/>
<line x1="425.86" y1="88.44" x2="425.86" y2="189.51" stroke="#000" stroke-width="1.3" stroke-dasharray="2.9 1.1"/>
<path d="M358.60 101.23V111.73M358.60 134.86V158.50M355.10 101.23h7M355.10 158.50h7" stroke="#000" stroke-width="1" fill="none"/>
<rect x="352.45" y="111.73" width="12.30" height="23.12" fill="#fff" stroke="#000" stroke-width="1"/>
<line x1="352.45" x2="364.75" y1="113.05" y2="113.05" stroke="#000" stroke-width="1"/>
<path d="M358.6 101.2h.01M363.4 158.5h.01M360.2 137.3h.01M358.6 131.6h.01M359.5 112.2h.01M356.3 111.7h.01M360.2 141.6h.01M355.4 126.9h.01M356.4 113.0h.01M358.6 109.0h.01M357.0 134.9h.01M358.6 125.4h.01M360.6 113.0h.01M357.8 111.6h.01M357.0 139.1h.01M355.4 116.8h.01M361.6 112.9h.01M361.8 111.2h.01M357.0 144.2h.01M358.1 114.2h.01M356.1 112.3h.01M353.8 110.1h.01M358.6 157.4h.01M361.8 133.8h.01" stroke="#F0922E" stroke-width="4.5" stroke-linecap="round" fill="none"/>
<path d="M377.78 105.17V128.29M377.78 148.52V153.77M374.28 105.17h7M374.28 153.77h7" stroke="#000" stroke-width="1" fill="none"/>
<rect x="371.63" y="128.29" width="12.30" height="20.23" fill="#fff" stroke="#000" stroke-width="1"/>
<line x1="371.63" x2="383.93" y1="138.01" y2="138.01" stroke="#000" stroke-width="1"/>
<path d="M375.6 103.0h4.3v4.3h-4.3zM370.8 151.6h4.3v4.3h-4.3zM380.7 146.7h4.3v4.3h-4.3zM377.2 141.3h4.3v4.3h-4.3zM377.2 130.1h4.3v4.3h-4.3zM378.8 124.5h4.3v4.3h-4.3zM380.4 146.4h4.3v4.3h-4.3zM379.2 142.0h4.3v4.3h-4.3zM370.1 132.3h4.3v4.3h-4.3zM378.8 118.7h4.3v4.3h-4.3zM380.4 151.1h4.3v4.3h-4.3zM380.4 139.1h4.3v4.3h-4.3zM372.4 130.8h4.3v4.3h-4.3zM375.6 117.3h4.3v4.3h-4.3zM372.4 148.8h4.3v4.3h-4.3zM375.6 145.8h4.3v4.3h-4.3zM375.6 127.1h4.3v4.3h-4.3zM375.6 112.1h4.3v4.3h-4.3zM375.6 150.4h4.3v4.3h-4.3zM375.6 138.0h4.3v4.3h-4.3zM380.4 132.0h4.3v4.3h-4.3zM375.6 122.5h4.3v4.3h-4.3zM370.8 146.4h4.3v4.3h-4.3zM372.4 139.7h4.3v4.3h-4.3z" fill="#0B8F4C"/>
<path d="M397.49 104.38V119.62M397.49 149.83V161.13M393.99 104.38h7M393.99 161.13h7" stroke="#000" stroke-width="1" fill="none"/>
<rect x="391.34" y="119.62" width="12.30" height="30.22" fill="#fff" stroke="#000" stroke-width="1"/>
<line x1="391.34" x2="403.64" y1="139.85" y2="139.85" stroke="#000" stroke-width="1"/>
<path d="M397.5 104.4h.01M397.5 161.1h.01M394.3 154.8h.01M392.7 140.7h.01M402.3 124.0h.01M397.5 111.0h.01M397.5 152.4h.01M397.5 148.1h.01M392.7 123.9h.01M392.7 117.9h.01M397.5 157.1h.01M402.3 140.1h.01M397.5 131.8h.01M397.5 117.2h.01M394.3 160.0h.01M400.5 142.6h.01M397.5 136.4h.01M396.5 119.4h.01M394.3 150.1h.01M394.9 140.8h.01M397.5 123.5h.01M400.7 119.3h.01M402.3 157.6h.01M397.5 140.0h.01" stroke="#F0922E" stroke-width="4.5" stroke-linecap="round" fill="none"/>
<path d="M416.93 127.50V140.64M416.93 149.31V159.82M413.43 127.50h7M413.43 159.82h7" stroke="#000" stroke-width="1" fill="none"/>
<rect x="410.78" y="140.64" width="12.30" height="8.67" fill="#fff" stroke="#000" stroke-width="1"/>
<line x1="410.78" x2="423.08" y1="144.58" y2="144.58" stroke="#000" stroke-width="1"/>
<path d="M414.8 125.3h4.3v4.3h-4.3zM419.6 157.7h4.3v4.3h-4.3zM418.6 153.6h4.3v4.3h-4.3zM415.1 142.9h4.3v4.3h-4.3zM409.8 141.8h4.3v4.3h-4.3zM414.8 131.7h4.3v4.3h-4.3zM418.0 151.7h4.3v4.3h-4.3zM413.2 146.5h4.3v4.3h-4.3zM414.8 138.9h4.3v4.3h-4.3zM410.0 126.2h4.3v4.3h-4.3zM411.2 147.7h4.3v4.3h-4.3zM415.4 142.7h4.3v4.3h-4.3zM411.6 140.9h4.3v4.3h-4.3zM414.8 135.4h4.3v4.3h-4.3zM414.8 157.5h4.3v4.3h-4.3zM409.6 143.2h4.3v4.3h-4.3zM416.3 141.8h4.3v4.3h-4.3zM419.6 136.0h4.3v4.3h-4.3zM414.8 150.0h4.3v4.3h-4.3zM418.0 145.6h4.3v4.3h-4.3zM418.0 141.7h4.3v4.3h-4.3zM411.6 137.2h4.3v4.3h-4.3zM411.6 152.6h4.3v4.3h-4.3zM411.9 147.1h4.3v4.3h-4.3z" fill="#0B8F4C"/>
<path d="M436.11 123.03V159.03M436.11 171.64V181.36M432.61 123.03h7M432.61 181.36h7" stroke="#000" stroke-width="1" fill="none"/>
<rect x="429.96" y="159.03" width="12.30" height="12.61" fill="#fff" stroke="#000" stroke-width="1"/>
<line x1="429.96" x2="442.26" y1="164.81" y2="164.81" stroke="#000" stroke-width="1"/>
<path d="M436.1 123.0h.01M431.3 181.4h.01M434.5 171.7h.01M434.5 166.6h.01M431.3 163.3h.01M436.1 158.1h.01M438.9 171.7h.01M439.9 165.9h.01M432.9 159.8h.01M436.1 142.8h.01M436.0 172.4h.01M440.9 170.0h.01M436.1 163.1h.01M436.1 151.4h.01M438.8 171.9h.01M437.7 168.6h.01M440.9 163.3h.01M432.9 125.7h.01M436.1 180.8h.01M431.3 167.9h.01M436.4 163.4h.01M439.3 125.5h.01M439.2 172.6h.01M437.6 169.2h.01" stroke="#F0922E" stroke-width="4.5" stroke-linecap="round" fill="none"/>
<path d="M455.55 105.17V147.73M455.55 166.39V179.26M452.05 105.17h7M452.05 179.26h7" stroke="#000" stroke-width="1" fill="none"/>
<rect x="449.40" y="147.73" width="12.30" height="18.65" fill="#fff" stroke="#000" stroke-width="1"/>
<line x1="449.40" x2="461.70" y1="163.50" y2="163.50" stroke="#000" stroke-width="1"/>
<path d="M453.4 103.0h4.3v4.3h-4.3zM450.2 177.1h4.3v4.3h-4.3zM456.2 165.4h4.3v4.3h-4.3zM450.9 162.6h4.3v4.3h-4.3zM450.2 161.1h4.3v4.3h-4.3zM453.4 145.4h4.3v4.3h-4.3zM455.1 165.2h4.3v4.3h-4.3zM450.8 162.3h4.3v4.3h-4.3zM453.4 150.4h4.3v4.3h-4.3zM453.4 126.1h4.3v4.3h-4.3zM449.1 165.3h4.3v4.3h-4.3zM453.5 162.7h4.3v4.3h-4.3zM453.4 154.0h4.3v4.3h-4.3zM453.4 136.3h4.3v4.3h-4.3zM448.2 164.4h4.3v4.3h-4.3zM455.0 161.7h4.3v4.3h-4.3zM453.4 158.2h4.3v4.3h-4.3zM450.2 104.9h4.3v4.3h-4.3zM453.4 175.5h4.3v4.3h-4.3zM458.2 164.2h4.3v4.3h-4.3zM448.6 154.1h4.3v4.3h-4.3zM453.4 117.0h4.3v4.3h-4.3zM458.2 176.3h4.3v4.3h-4.3zM458.2 162.9h4.3v4.3h-4.3z" fill="#0B8F4C"/>
<path d="M345.73 90.74V189.51H468.43" stroke="#000" stroke-width="1.25" fill="none"/>
<line x1="341.33" x2="345.73" y1="189.51" y2="189.51" stroke="#000" stroke-width="1.1"/>
<text x="339.93" y="193.36" font-size="10.9" text-anchor="end" font-weight="normal" font-style="normal" fill="#000">0</text>
<line x1="341.33" x2="345.73" y1="169.85" y2="169.85" stroke="#000" stroke-width="1.1"/>
<text x="339.93" y="173.70" font-size="10.9" text-anchor="end" font-weight="normal" font-style="normal" fill="#000">10</text>
<line x1="341.33" x2="345.73" y1="150.20" y2="150.20" stroke="#000" stroke-width="1.1"/>
<text x="339.93" y="154.05" font-size="10.9" text-anchor="end" font-weight="normal" font-style="normal" fill="#000">20</text>
<line x1="341.33" x2="345.73" y1="130.55" y2="130.55" stroke="#000" stroke-width="1.1"/>
<text x="339.93" y="134.40" font-size="10.9" text-anchor="end" font-weight="normal" font-style="normal" fill="#000">30</text>
<line x1="341.33" x2="345.73" y1="110.89" y2="110.89" stroke="#000" stroke-width="1.1"/>
<text x="339.93" y="114.74" font-size="10.9" text-anchor="end" font-weight="normal" font-style="normal" fill="#000">40</text>
<line x1="341.33" x2="345.73" y1="91.24" y2="91.24" stroke="#000" stroke-width="1.1"/>
<text x="339.93" y="95.09" font-size="10.9" text-anchor="end" font-weight="normal" font-style="normal" fill="#000">50</text>
<path d="M358.34 90.79V85.72H380.93V90.79" stroke="#000" stroke-width="1.15" fill="none"/>
<path d="M396.43 90.79V85.72H419.29V90.79" stroke="#000" stroke-width="1.15" fill="none"/>
<path d="M434.01 90.79V85.72H456.87V90.79" stroke="#000" stroke-width="1.15" fill="none"/>
<text x="369.37" y="78.44" font-size="9.25" text-anchor="middle" font-weight="normal" font-style="normal" fill="#000">0.0011</text>
<text x="407.47" y="78.44" font-size="9.25" text-anchor="middle" font-weight="normal" font-style="normal" fill="#000">0.0342</text>
<text x="445.57" y="78.44" font-size="9.25" text-anchor="middle" font-weight="normal" font-style="normal" fill="#000">0.0876</text>
<text x="364.38" y="202.15" font-size="11" text-anchor="middle" font-weight="normal" font-style="normal" fill="#000">7M</text>
<text x="407.21" y="202.15" font-size="11" text-anchor="middle" font-weight="normal" font-style="normal" fill="#000">12M</text>
<text x="447.93" y="202.15" font-size="11" text-anchor="middle" font-weight="normal" font-style="normal" fill="#000">20M</text>
<text x="322.82" y="138.52" font-size="10.7" text-anchor="middle" font-weight="normal" font-style="normal" fill="#000" transform="rotate(-90 322.82 138.52)">BV/TV (%)</text>
<text x="312.88" y="80.99" font-size="14.5" text-anchor="start" font-weight="bold" font-style="normal" fill="#000">B</text>
<line x1="559.08" y1="88.44" x2="559.08" y2="189.51" stroke="#000" stroke-width="1.3" stroke-dasharray="2.9 1.1"/>
<line x1="597.70" y1="88.44" x2="597.70" y2="189.51" stroke="#000" stroke-width="1.3" stroke-dasharray="2.9 1.1"/>
<path d="M530.18 107.01V115.68M530.18 138.01V154.30M526.68 107.01h7M526.68 154.30h7" stroke="#000" stroke-width="1" fill="none"/>
<rect x="524.03" y="115.68" width="12.30" height="22.33" fill="#fff" stroke="#000" stroke-width="1"/>
<line x1="524.03" x2="536.33" y1="116.99" y2="116.99" stroke="#000" stroke-width="1"/>
<path d="M530.2 107.0h.01M527.0 154.3h.01M530.2 151.4h.01M527.0 127.6h.01M525.6 116.7h.01M533.4 108.6h.01M533.4 154.2h.01M533.4 128.6h.01M535.3 116.8h.01M535.0 115.4h.01M530.2 138.1h.01M530.2 130.8h.01M529.7 116.9h.01M525.4 115.2h.01M525.4 139.1h.01M530.2 126.0h.01M531.2 115.8h.01M530.2 110.8h.01M533.4 140.8h.01M525.2 129.3h.01M534.0 116.3h.01M530.2 114.4h.01" stroke="#F0922E" stroke-width="4.5" stroke-linecap="round" fill="none"/>
<path d="M549.62 114.36V131.97M549.62 145.89V151.93M546.12 114.36h7M546.12 151.93h7" stroke="#000" stroke-width="1" fill="none"/>
<rect x="543.47" y="131.97" width="12.30" height="13.93" fill="#fff" stroke="#000" stroke-width="1"/>
<line x1="543.47" x2="555.77" y1="139.32" y2="139.32" stroke="#000" stroke-width="1"/>
<path d="M547.5 112.2h4.3v4.3h-4.3zM547.5 149.8h4.3v4.3h-4.3zM550.4 144.1h4.3v4.3h-4.3zM546.0 139.4h4.3v4.3h-4.3zM542.7 130.4h4.3v4.3h-4.3zM545.9 128.9h4.3v4.3h-4.3zM547.5 143.7h4.3v4.3h-4.3zM550.7 141.5h4.3v4.3h-4.3zM552.3 134.1h4.3v4.3h-4.3zM547.5 121.6h4.3v4.3h-4.3zM544.7 144.0h4.3v4.3h-4.3zM549.1 138.5h4.3v4.3h-4.3zM546.0 131.7h4.3v4.3h-4.3zM547.5 125.3h4.3v4.3h-4.3zM544.8 144.0h4.3v4.3h-4.3zM544.3 137.4h4.3v4.3h-4.3zM547.5 134.9h4.3v4.3h-4.3zM547.5 118.0h4.3v4.3h-4.3zM550.0 144.1h4.3v4.3h-4.3zM542.7 142.3h4.3v4.3h-4.3zM549.1 131.6h4.3v4.3h-4.3zM550.7 128.3h4.3v4.3h-4.3z" fill="#0B8F4C"/>
<path d="M569.32 117.78V130.13M569.32 148.52V155.61M565.82 117.78h7M565.82 155.61h7" stroke="#000" stroke-width="1" fill="none"/>
<rect x="563.17" y="130.13" width="12.30" height="18.39" fill="#fff" stroke="#000" stroke-width="1"/>
<line x1="563.17" x2="575.47" y1="140.64" y2="140.64" stroke="#000" stroke-width="1"/>
<path d="M569.3 117.8h.01M574.1 155.6h.01M570.9 148.5h.01M566.1 146.7h.01M567.7 135.6h.01M574.1 118.8h.01M569.3 155.0h.01M569.3 145.5h.01M564.5 138.0h.01M572.5 127.8h.01M566.1 150.2h.01M569.3 141.2h.01M574.1 138.7h.01M569.3 122.2h.01M572.5 152.4h.01M564.5 142.0h.01M569.3 132.5h.01M569.3 125.6h.01M570.3 149.3h.01M574.1 146.0h.01M570.9 136.8h.01M574.1 122.6h.01" stroke="#F0922E" stroke-width="4.5" stroke-linecap="round" fill="none"/>
<path d="M588.50 135.38V143.26M588.50 149.04V157.71M585.00 135.38h7M585.00 157.71h7" stroke="#000" stroke-width="1" fill="none"/>
<rect x="582.35" y="143.26" width="12.30" height="5.78" fill="#fff" stroke="#000" stroke-width="1"/>
<line x1="582.35" x2="594.65" y1="145.89" y2="145.89" stroke="#000" stroke-width="1"/>
<path d="M586.4 133.2h4.3v4.3h-4.3zM586.4 155.6h4.3v4.3h-4.3zM591.2 147.1h4.3v4.3h-4.3zM587.8 146.3h4.3v4.3h-4.3zM584.9 143.1h4.3v4.3h-4.3zM586.4 138.3h4.3v4.3h-4.3zM586.4 150.6h4.3v4.3h-4.3zM583.1 146.3h4.3v4.3h-4.3zM589.9 143.7h4.3v4.3h-4.3zM583.2 140.3h4.3v4.3h-4.3zM581.6 150.9h4.3v4.3h-4.3zM582.7 146.3h4.3v4.3h-4.3zM588.0 142.9h4.3v4.3h-4.3zM589.6 140.8h4.3v4.3h-4.3zM589.6 152.4h4.3v4.3h-4.3zM581.2 145.2h4.3v4.3h-4.3zM586.6 143.6h4.3v4.3h-4.3zM582.9 141.0h4.3v4.3h-4.3zM589.0 148.2h4.3v4.3h-4.3zM581.6 145.2h4.3v4.3h-4.3zM586.4 142.1h4.3v4.3h-4.3zM590.1 141.0h4.3v4.3h-4.3z" fill="#0B8F4C"/>
<path d="M608.21 137.22V162.44M608.21 167.70V172.95M604.71 137.22h7M604.71 172.95h7" stroke="#000" stroke-width="1" fill="none"/>
<rect x="602.06" y="162.44" width="12.30" height="5.25" fill="#fff" stroke="#000" stroke-width="1"/>
<line x1="602.06" x2="614.36" y1="164.81" y2="164.81" stroke="#000" stroke-width="1"/>
<path d="M608.2 137.2h.01M608.2 173.0h.01M602.4 169.5h.01M609.8 166.5h.01M611.4 163.3h.01M604.7 157.4h.01M613.8 168.7h.01M613.9 167.6h.01M605.6 163.3h.01M613.0 156.4h.01M611.3 168.0h.01M613.3 165.5h.01M603.4 163.0h.01M605.0 157.1h.01M605.5 167.9h.01M609.8 166.3h.01M606.1 164.6h.01M608.2 162.0h.01M603.0 168.7h.01M603.4 167.4h.01M613.1 163.8h.01M608.2 155.9h.01" stroke="#F0922E" stroke-width="4.5" stroke-linecap="round" fill="none"/>
<path d="M627.39 122.77V154.30M627.39 167.70V176.63M623.89 122.77h7M623.89 176.63h7" stroke="#000" stroke-width="1" fill="none"/>
<rect x="621.24" y="154.30" width="12.30" height="13.40" fill="#fff" stroke="#000" stroke-width="1"/>
<line x1="621.24" x2="633.54" y1="163.50" y2="163.50" stroke="#000" stroke-width="1"/>
<path d="M625.2 120.6h4.3v4.3h-4.3zM625.2 174.5h4.3v4.3h-4.3zM629.6 167.2h4.3v4.3h-4.3zM622.1 163.4h4.3v4.3h-4.3zM621.1 153.1h4.3v4.3h-4.3zM628.4 151.6h4.3v4.3h-4.3zM624.5 166.0h4.3v4.3h-4.3zM623.6 162.8h4.3v4.3h-4.3zM626.8 161.1h4.3v4.3h-4.3zM625.6 152.1h4.3v4.3h-4.3zM620.4 166.7h4.3v4.3h-4.3zM629.2 165.1h4.3v4.3h-4.3zM625.2 158.1h4.3v4.3h-4.3zM620.4 150.6h4.3v4.3h-4.3zM629.7 168.6h4.3v4.3h-4.3zM630.0 163.1h4.3v4.3h-4.3zM622.0 159.5h4.3v4.3h-4.3zM625.2 139.9h4.3v4.3h-4.3zM628.1 167.6h4.3v4.3h-4.3zM626.8 165.0h4.3v4.3h-4.3zM628.5 152.7h4.3v4.3h-4.3zM625.2 150.3h4.3v4.3h-4.3z" fill="#0B8F4C"/>
<path d="M517.04 90.74V189.51H640.00" stroke="#000" stroke-width="1.25" fill="none"/>
<line x1="512.64" x2="517.04" y1="189.51" y2="189.51" stroke="#000" stroke-width="1.1"/>
<text x="511.24" y="193.36" font-size="10.9" text-anchor="end" font-weight="normal" font-style="normal" fill="#000">0.0</text>
<line x1="512.64" x2="517.04" y1="169.85" y2="169.85" stroke="#000" stroke-width="1.1"/>
<text x="511.24" y="173.70" font-size="10.9" text-anchor="end" font-weight="normal" font-style="normal" fill="#000">0.1</text>
<line x1="512.64" x2="517.04" y1="150.20" y2="150.20" stroke="#000" stroke-width="1.1"/>
<text x="511.24" y="154.05" font-size="10.9" text-anchor="end" font-weight="normal" font-style="normal" fill="#000">0.2</text>
<line x1="512.64" x2="517.04" y1="130.55" y2="130.55" stroke="#000" stroke-width="1.1"/>
<text x="511.24" y="134.40" font-size="10.9" text-anchor="end" font-weight="normal" font-style="normal" fill="#000">0.3</text>
<line x1="512.64" x2="517.04" y1="110.89" y2="110.89" stroke="#000" stroke-width="1.1"/>
<text x="511.24" y="114.74" font-size="10.9" text-anchor="end" font-weight="normal" font-style="normal" fill="#000">0.4</text>
<line x1="512.64" x2="517.04" y1="91.24" y2="91.24" stroke="#000" stroke-width="1.1"/>
<text x="511.24" y="95.09" font-size="10.9" text-anchor="end" font-weight="normal" font-style="normal" fill="#000">0.5</text>
<path d="M528.86 90.79V85.72H551.20V90.79" stroke="#000" stroke-width="1.15" fill="none"/>
<path d="M567.49 90.79V85.72H590.08V90.79" stroke="#000" stroke-width="1.15" fill="none"/>
<path d="M606.37 90.79V85.72H628.70V90.79" stroke="#000" stroke-width="1.15" fill="none"/>
<text x="539.37" y="78.96" font-size="9.25" text-anchor="middle" font-weight="normal" font-style="normal" fill="#000">0.0005</text>
<text x="578.78" y="78.96" font-size="9.25" text-anchor="middle" font-weight="normal" font-style="normal" fill="#000">0.0009</text>
<text x="616.88" y="78.96" font-size="9.25" text-anchor="middle" font-weight="normal" font-style="normal" fill="#000">0.5088</text>
<text x="535.96" y="202.15" font-size="11" text-anchor="middle" font-weight="normal" font-style="normal" fill="#000">7M</text>
<text x="578.26" y="202.15" font-size="11" text-anchor="middle" font-weight="normal" font-style="normal" fill="#000">12M</text>
<text x="620.03" y="202.15" font-size="11" text-anchor="middle" font-weight="normal" font-style="normal" fill="#000">20M</text>
<text x="489.14" y="137.21" font-size="10.7" text-anchor="middle" font-weight="normal" font-style="normal" fill="#000" transform="rotate(-90 489.14 137.21)">BMD (g/cm<tspan dy="-3.5" font-size="6.5">2</tspan><tspan dy="3.5">)</tspan></text>
<text x="480.78" y="80.99" font-size="14.5" text-anchor="start" font-weight="bold" font-style="normal" fill="#000">C</text>
<line x1="82.24" y1="246.87" x2="82.24" y2="348.20" stroke="#000" stroke-width="1.3" stroke-dasharray="2.9 1.1"/>
<line x1="120.86" y1="246.87" x2="120.86" y2="348.20" stroke="#000" stroke-width="1.3" stroke-dasharray="2.9 1.1"/>
<path d="M53.34 272.79V278.05M53.34 296.44V303.80M49.84 272.79h7M49.84 303.80h7" stroke="#000" stroke-width="1" fill="none"/>
<rect x="47.19" y="278.05" width="12.30" height="18.39" fill="#fff" stroke="#000" stroke-width="1"/>
<line x1="47.19" x2="59.49" y1="284.62" y2="284.62" stroke="#000" stroke-width="1"/>
<path d="M53.3 272.8h.01M53.3 303.8h.01M56.7 299.4h.01M48.5 288.2h.01M56.5 280.2h.01M48.5 273.0h.01M54.9 298.1h.01M56.5 286.5h.01M50.1 280.0h.01M48.8 274.2h.01M50.0 297.8h.01M53.3 287.9h.01M49.9 280.9h.01M53.3 277.6h.01M56.8 296.8h.01M53.8 289.1h.01M48.5 284.1h.01M48.3 273.7h.01M50.1 296.6h.01M56.5 296.1h.01M53.3 283.9h.01M58.1 273.5h.01M57.2 297.3h.01M53.3 294.8h.01" stroke="#F0922E" stroke-width="4.5" stroke-linecap="round" fill="none"/>
<path d="M72.52 278.05V286.46M72.52 297.75V303.53M69.02 278.05h7M69.02 303.53h7" stroke="#000" stroke-width="1" fill="none"/>
<rect x="66.37" y="286.46" width="12.30" height="11.30" fill="#fff" stroke="#000" stroke-width="1"/>
<line x1="66.37" x2="78.67" y1="291.71" y2="291.71" stroke="#000" stroke-width="1"/>
<path d="M70.4 275.9h4.3v4.3h-4.3zM70.4 301.4h4.3v4.3h-4.3zM71.9 296.5h4.3v4.3h-4.3zM69.2 290.2h4.3v4.3h-4.3zM73.6 289.1h4.3v4.3h-4.3zM73.6 277.7h4.3v4.3h-4.3zM65.6 295.6h4.3v4.3h-4.3zM73.5 294.4h4.3v4.3h-4.3zM65.6 288.2h4.3v4.3h-4.3zM67.2 277.5h4.3v4.3h-4.3zM69.8 297.1h4.3v4.3h-4.3zM75.1 293.3h4.3v4.3h-4.3zM75.2 284.9h4.3v4.3h-4.3zM70.4 283.8h4.3v4.3h-4.3zM72.8 296.8h4.3v4.3h-4.3zM72.0 292.4h4.3v4.3h-4.3zM75.7 285.6h4.3v4.3h-4.3zM70.4 279.5h4.3v4.3h-4.3zM75.4 298.0h4.3v4.3h-4.3zM69.5 293.5h4.3v4.3h-4.3zM70.4 287.8h4.3v4.3h-4.3zM65.6 284.1h4.3v4.3h-4.3zM67.2 299.7h4.3v4.3h-4.3zM65.6 291.6h4.3v4.3h-4.3z" fill="#0B8F4C"/>
<path d="M91.96 270.69V283.83M91.96 295.92V303.53M88.46 270.69h7M88.46 303.53h7" stroke="#000" stroke-width="1" fill="none"/>
<rect x="85.81" y="283.83" width="12.30" height="12.09" fill="#fff" stroke="#000" stroke-width="1"/>
<line x1="85.81" x2="98.11" y1="291.19" y2="291.19" stroke="#000" stroke-width="1"/>
<path d="M92.0 270.7h.01M95.2 303.5h.01M90.4 295.9h.01M93.6 293.3h.01M91.6 290.0h.01M92.0 275.8h.01M88.8 302.7h.01M96.7 293.5h.01M95.8 290.4h.01M90.4 279.5h.01M93.6 298.1h.01M87.2 292.5h.01M92.0 287.4h.01M95.2 278.5h.01M92.0 301.2h.01M96.9 293.4h.01M87.2 288.2h.01M95.2 272.0h.01M87.8 296.3h.01M89.0 292.7h.01M96.8 288.3h.01M87.2 276.2h.01M97.2 296.0h.01M90.5 291.3h.01" stroke="#F0922E" stroke-width="4.5" stroke-linecap="round" fill="none"/>
<path d="M111.93 281.99V291.19M111.93 298.54V306.95M108.43 281.99h7M108.43 306.95h7" stroke="#000" stroke-width="1" fill="none"/>
<rect x="105.78" y="291.19" width="12.30" height="7.36" fill="#fff" stroke="#000" stroke-width="1"/>
<line x1="105.78" x2="118.08" y1="294.34" y2="294.34" stroke="#000" stroke-width="1"/>
<path d="M109.8 279.8h4.3v4.3h-4.3zM109.8 304.8h4.3v4.3h-4.3zM105.0 301.6h4.3v4.3h-4.3zM107.4 292.9h4.3v4.3h-4.3zM109.8 291.6h4.3v4.3h-4.3zM109.8 284.6h4.3v4.3h-4.3zM114.6 298.8h4.3v4.3h-4.3zM104.4 293.3h4.3v4.3h-4.3zM106.4 290.8h4.3v4.3h-4.3zM113.0 281.9h4.3v4.3h-4.3zM111.6 299.0h4.3v4.3h-4.3zM114.6 295.3h4.3v4.3h-4.3zM113.6 291.5h4.3v4.3h-4.3zM114.6 288.9h4.3v4.3h-4.3zM109.3 298.4h4.3v4.3h-4.3zM109.8 296.1h4.3v4.3h-4.3zM108.2 290.7h4.3v4.3h-4.3zM109.8 288.8h4.3v4.3h-4.3zM106.6 298.4h4.3v4.3h-4.3zM104.6 294.3h4.3v4.3h-4.3zM106.6 290.5h4.3v4.3h-4.3zM106.6 282.2h4.3v4.3h-4.3zM111.1 296.4h4.3v4.3h-4.3zM111.6 292.9h4.3v4.3h-4.3z" fill="#0B8F4C"/>
<path d="M130.85 277.52V295.65M130.85 305.64V318.77M127.35 277.52h7M127.35 318.77h7" stroke="#000" stroke-width="1" fill="none"/>
<rect x="124.70" y="295.65" width="12.30" height="9.98" fill="#fff" stroke="#000" stroke-width="1"/>
<line x1="124.70" x2="137.00" y1="300.38" y2="300.38" stroke="#000" stroke-width="1"/>
<path d="M130.8 277.5h.01M134.0 318.8h.01M129.4 308.0h.01M129.2 304.0h.01M134.5 298.3h.01M130.8 288.2h.01M130.8 317.1h.01M134.0 305.3h.01M135.6 297.7h.01M132.4 295.6h.01M132.0 305.8h.01M126.7 301.4h.01M129.2 297.7h.01M127.6 280.4h.01M134.4 308.3h.01M126.0 305.6h.01M127.0 298.6h.01M126.0 289.3h.01M126.0 317.2h.01M129.3 300.5h.01M133.4 298.1h.01M130.8 292.6h.01M128.9 305.8h.01M132.4 302.2h.01" stroke="#F0922E" stroke-width="4.5" stroke-linecap="round" fill="none"/>
<path d="M150.95 242.58V294.34M150.55 303.53V314.31M147.05 314.31h7" stroke="#000" stroke-width="1" fill="none"/>
<rect x="144.40" y="294.34" width="12.30" height="9.20" fill="#fff" stroke="#000" stroke-width="1"/>
<line x1="144.40" x2="156.70" y1="299.59" y2="299.59" stroke="#000" stroke-width="1"/>
<path d="M148.4 268.0h4.3v4.3h-4.3zM148.4 312.2h4.3v4.3h-4.3zM150.0 308.5h4.3v4.3h-4.3zM150.0 298.0h4.3v4.3h-4.3zM153.2 294.4h4.3v4.3h-4.3zM148.4 290.4h4.3v4.3h-4.3zM145.2 309.2h4.3v4.3h-4.3zM145.2 298.2h4.3v4.3h-4.3zM148.4 293.8h4.3v4.3h-4.3zM148.4 272.0h4.3v4.3h-4.3zM144.5 302.7h4.3v4.3h-4.3zM148.4 301.0h4.3v4.3h-4.3zM142.8 294.5h4.3v4.3h-4.3zM148.4 276.8h4.3v4.3h-4.3zM143.6 301.8h4.3v4.3h-4.3zM143.2 298.4h4.3v4.3h-4.3zM143.1 292.5h4.3v4.3h-4.3zM153.2 290.9h4.3v4.3h-4.3zM148.4 305.4h4.3v4.3h-4.3zM153.6 298.7h4.3v4.3h-4.3zM148.2 295.0h4.3v4.3h-4.3zM143.6 291.2h4.3v4.3h-4.3zM153.7 302.1h4.3v4.3h-4.3zM143.0 298.4h4.3v4.3h-4.3z" fill="#0B8F4C"/>
<path d="M39.94 249.17V348.20H163.43" stroke="#000" stroke-width="1.25" fill="none"/>
<line x1="35.54" x2="39.94" y1="348.20" y2="348.20" stroke="#000" stroke-width="1.1"/>
<text x="34.14" y="352.05" font-size="10.9" text-anchor="end" font-weight="normal" font-style="normal" fill="#000">0.00</text>
<line x1="35.54" x2="39.94" y1="315.36" y2="315.36" stroke="#000" stroke-width="1.1"/>
<text x="34.14" y="319.21" font-size="10.9" text-anchor="end" font-weight="normal" font-style="normal" fill="#000">0.05</text>
<line x1="35.54" x2="39.94" y1="282.52" y2="282.52" stroke="#000" stroke-width="1.1"/>
<text x="34.14" y="286.37" font-size="10.9" text-anchor="end" font-weight="normal" font-style="normal" fill="#000">0.10</text>
<line x1="35.54" x2="39.94" y1="249.67" y2="249.67" stroke="#000" stroke-width="1.1"/>
<text x="34.14" y="253.52" font-size="10.9" text-anchor="end" font-weight="normal" font-style="normal" fill="#000">0.15</text>
<path d="M50.71 248.43V242.58H73.57V248.43" stroke="#000" stroke-width="1.15" fill="none"/>
<path d="M90.12 248.43V242.58H113.50V248.43" stroke="#000" stroke-width="1.15" fill="none"/>
<path d="M128.22 248.43V242.58H151.08V248.43" stroke="#000" stroke-width="1.15" fill="none"/>
<text x="61.74" y="236.08" font-size="9.25" text-anchor="middle" font-weight="normal" font-style="normal" fill="#000">0.0361</text>
<text x="101.94" y="236.08" font-size="9.25" text-anchor="middle" font-weight="normal" font-style="normal" fill="#000">0.0173</text>
<text x="138.47" y="236.08" font-size="9.25" text-anchor="middle" font-weight="normal" font-style="normal" fill="#000">0.2347</text>
<text x="59.64" y="361.37" font-size="11" text-anchor="middle" font-weight="normal" font-style="normal" fill="#000">7M</text>
<text x="101.94" y="361.37" font-size="11" text-anchor="middle" font-weight="normal" font-style="normal" fill="#000">12M</text>
<text x="143.19" y="361.37" font-size="11" text-anchor="middle" font-weight="normal" font-style="normal" fill="#000">20M</text>
<text x="9.41" y="296.17" font-size="10.7" text-anchor="middle" font-weight="normal" font-style="normal" fill="#000" transform="rotate(-90 9.41 296.17)">Tb.Th (mm)</text>
<text x="1.31" y="237.32" font-size="14.5" text-anchor="start" font-weight="bold" font-style="normal" fill="#000">D</text>
<line x1="243.57" y1="247.92" x2="243.57" y2="348.99" stroke="#000" stroke-width="1.3" stroke-dasharray="2.9 1.1"/>
<line x1="282.45" y1="247.92" x2="282.45" y2="348.99" stroke="#000" stroke-width="1.3" stroke-dasharray="2.9 1.1"/>
<path d="M215.19 266.23V274.90M215.19 280.68V303.01M211.69 266.23h7M211.69 303.01h7" stroke="#000" stroke-width="1" fill="none"/>
<rect x="209.04" y="274.90" width="12.30" height="5.78" fill="#fff" stroke="#000" stroke-width="1"/>
<line x1="209.04" x2="221.34" y1="276.73" y2="276.73" stroke="#000" stroke-width="1"/>
<path d="M215.2 266.2h.01M215.2 303.0h.01M212.0 290.0h.01M211.7 276.8h.01M211.8 276.6h.01M214.9 274.7h.01M218.4 293.4h.01M220.1 277.0h.01M212.5 275.5h.01M220.0 274.1h.01M215.2 288.5h.01M210.1 277.7h.01M220.7 276.5h.01M215.2 274.0h.01M218.3 282.2h.01M211.5 280.2h.01M215.1 275.8h.01M210.4 274.6h.01M218.4 281.9h.01M211.0 280.1h.01M219.5 275.5h.01M210.0 274.9h.01M215.2 292.2h.01M215.2 279.9h.01" stroke="#F0922E" stroke-width="4.5" stroke-linecap="round" fill="none"/>
<path d="M234.63 268.33V280.68M234.63 295.92V307.74M231.13 268.33h7M231.13 307.74h7" stroke="#000" stroke-width="1" fill="none"/>
<rect x="228.48" y="280.68" width="12.30" height="15.24" fill="#fff" stroke="#000" stroke-width="1"/>
<line x1="228.48" x2="240.78" y1="289.35" y2="289.35" stroke="#000" stroke-width="1"/>
<path d="M232.5 266.2h4.3v4.3h-4.3zM232.5 305.6h4.3v4.3h-4.3zM237.5 295.7h4.3v4.3h-4.3zM228.3 289.0h4.3v4.3h-4.3zM232.5 286.7h4.3v4.3h-4.3zM232.5 270.4h4.3v4.3h-4.3zM236.5 295.1h4.3v4.3h-4.3zM229.3 288.2h4.3v4.3h-4.3zM237.3 279.7h4.3v4.3h-4.3zM232.5 275.5h4.3v4.3h-4.3zM231.3 293.8h4.3v4.3h-4.3zM237.3 287.8h4.3v4.3h-4.3zM229.3 283.1h4.3v4.3h-4.3zM229.3 269.1h4.3v4.3h-4.3zM235.7 294.6h4.3v4.3h-4.3zM229.3 292.5h4.3v4.3h-4.3zM230.9 280.0h4.3v4.3h-4.3zM229.3 276.9h4.3v4.3h-4.3zM229.5 294.1h4.3v4.3h-4.3zM237.3 291.3h4.3v4.3h-4.3zM234.1 282.0h4.3v4.3h-4.3zM234.1 278.5h4.3v4.3h-4.3zM232.5 297.0h4.3v4.3h-4.3zM232.5 290.8h4.3v4.3h-4.3z" fill="#0B8F4C"/>
<path d="M254.08 266.23V284.62M254.08 300.91V311.42M250.58 266.23h7M250.58 311.42h7" stroke="#000" stroke-width="1" fill="none"/>
<rect x="247.93" y="284.62" width="12.30" height="16.29" fill="#fff" stroke="#000" stroke-width="1"/>
<line x1="247.93" x2="260.23" y1="289.35" y2="289.35" stroke="#000" stroke-width="1"/>
<path d="M254.1 266.2h.01M258.9 311.4h.01M254.1 302.9h.01M254.1 295.1h.01M255.7 289.2h.01M249.3 284.3h.01M254.1 310.8h.01M249.1 291.9h.01M254.9 284.9h.01M254.1 277.2h.01M250.9 307.8h.01M258.9 290.7h.01M253.6 285.2h.01M249.3 284.6h.01M253.8 305.2h.01M257.3 297.8h.01M251.9 286.1h.01M254.1 283.2h.01M258.9 304.0h.01M250.9 290.2h.01M252.7 286.4h.01M258.9 283.5h.01M249.3 303.8h.01M249.3 295.9h.01" stroke="#F0922E" stroke-width="4.5" stroke-linecap="round" fill="none"/>
<path d="M273.26 277.52V288.56M273.26 301.70V308.26M269.76 277.52h7M269.76 308.26h7" stroke="#000" stroke-width="1" fill="none"/>
<rect x="267.11" y="288.56" width="12.30" height="13.14" fill="#fff" stroke="#000" stroke-width="1"/>
<line x1="267.11" x2="279.41" y1="295.13" y2="295.13" stroke="#000" stroke-width="1"/>
<path d="M271.1 275.4h4.3v4.3h-4.3zM272.7 306.1h4.3v4.3h-4.3zM266.3 305.6h4.3v4.3h-4.3zM266.3 295.8h4.3v4.3h-4.3zM275.9 290.2h4.3v4.3h-4.3zM275.9 279.6h4.3v4.3h-4.3zM275.9 304.5h4.3v4.3h-4.3zM275.9 295.6h4.3v4.3h-4.3zM266.3 290.5h4.3v4.3h-4.3zM271.1 284.2h4.3v4.3h-4.3zM275.9 300.9h4.3v4.3h-4.3zM271.1 294.8h4.3v4.3h-4.3zM275.5 291.1h4.3v4.3h-4.3zM275.9 284.7h4.3v4.3h-4.3zM272.7 301.6h4.3v4.3h-4.3zM274.8 297.0h4.3v4.3h-4.3zM269.7 290.9h4.3v4.3h-4.3zM271.1 279.6h4.3v4.3h-4.3zM269.5 304.3h4.3v4.3h-4.3zM271.3 296.3h4.3v4.3h-4.3zM271.1 290.1h4.3v4.3h-4.3zM267.9 286.0h4.3v4.3h-4.3zM271.1 300.2h4.3v4.3h-4.3zM267.1 298.6h4.3v4.3h-4.3z" fill="#0B8F4C"/>
<path d="M292.70 289.87V309.58M292.70 325.87V333.22M289.20 289.87h7M289.20 333.22h7" stroke="#000" stroke-width="1" fill="none"/>
<rect x="286.55" y="309.58" width="12.30" height="16.29" fill="#fff" stroke="#000" stroke-width="1"/>
<line x1="286.55" x2="298.85" y1="315.62" y2="315.62" stroke="#000" stroke-width="1"/>
<path d="M292.7 289.9h.01M297.5 333.2h.01M291.0 328.1h.01M292.7 323.1h.01M298.0 311.7h.01M289.5 304.0h.01M291.1 333.2h.01M295.9 320.0h.01M292.7 313.1h.01M292.7 309.3h.01M289.5 326.0h.01M292.7 318.1h.01M289.5 315.0h.01M287.9 309.4h.01M288.0 326.1h.01M287.7 320.5h.01M295.9 310.6h.01M292.7 302.2h.01M294.3 330.7h.01M295.9 325.2h.01M295.9 315.5h.01M292.7 297.9h.01M292.0 326.6h.01M287.9 318.5h.01" stroke="#F0922E" stroke-width="4.5" stroke-linecap="round" fill="none"/>
<path d="M312.14 272.01V296.44M312.14 312.21V327.97M308.64 272.01h7M308.64 327.97h7" stroke="#000" stroke-width="1" fill="none"/>
<rect x="305.99" y="296.44" width="12.30" height="15.76" fill="#fff" stroke="#000" stroke-width="1"/>
<line x1="305.99" x2="318.29" y1="309.58" y2="309.58" stroke="#000" stroke-width="1"/>
<path d="M310.0 269.9h4.3v4.3h-4.3zM310.0 325.8h4.3v4.3h-4.3zM306.8 317.9h4.3v4.3h-4.3zM313.9 309.4h4.3v4.3h-4.3zM313.2 295.6h4.3v4.3h-4.3zM313.2 285.9h4.3v4.3h-4.3zM312.9 312.2h4.3v4.3h-4.3zM309.2 309.4h4.3v4.3h-4.3zM310.0 299.4h4.3v4.3h-4.3zM310.0 293.2h4.3v4.3h-4.3zM310.0 322.1h4.3v4.3h-4.3zM313.9 309.7h4.3v4.3h-4.3zM306.8 300.7h4.3v4.3h-4.3zM308.4 287.1h4.3v4.3h-4.3zM305.5 311.2h4.3v4.3h-4.3zM314.8 308.0h4.3v4.3h-4.3zM314.8 302.4h4.3v4.3h-4.3zM310.0 283.7h4.3v4.3h-4.3zM310.0 315.1h4.3v4.3h-4.3zM306.8 309.2h4.3v4.3h-4.3zM313.2 302.3h4.3v4.3h-4.3zM305.2 294.1h4.3v4.3h-4.3zM314.1 310.5h4.3v4.3h-4.3zM310.0 307.8h4.3v4.3h-4.3z" fill="#0B8F4C"/>
<path d="M202.32 250.22V348.99H325.02" stroke="#000" stroke-width="1.25" fill="none"/>
<line x1="197.92" x2="202.32" y1="348.99" y2="348.99" stroke="#000" stroke-width="1.1"/>
<text x="196.52" y="352.84" font-size="10.9" text-anchor="end" font-weight="normal" font-style="normal" fill="#000">0</text>
<line x1="197.92" x2="202.32" y1="329.34" y2="329.34" stroke="#000" stroke-width="1.1"/>
<text x="196.52" y="333.19" font-size="10.9" text-anchor="end" font-weight="normal" font-style="normal" fill="#000">1</text>
<line x1="197.92" x2="202.32" y1="309.68" y2="309.68" stroke="#000" stroke-width="1.1"/>
<text x="196.52" y="313.53" font-size="10.9" text-anchor="end" font-weight="normal" font-style="normal" fill="#000">2</text>
<line x1="197.92" x2="202.32" y1="290.03" y2="290.03" stroke="#000" stroke-width="1.1"/>
<text x="196.52" y="293.88" font-size="10.9" text-anchor="end" font-weight="normal" font-style="normal" fill="#000">3</text>
<line x1="197.92" x2="202.32" y1="270.38" y2="270.38" stroke="#000" stroke-width="1.1"/>
<text x="196.52" y="274.23" font-size="10.9" text-anchor="end" font-weight="normal" font-style="normal" fill="#000">4</text>
<line x1="197.92" x2="202.32" y1="250.72" y2="250.72" stroke="#000" stroke-width="1.1"/>
<text x="196.52" y="254.57" font-size="10.9" text-anchor="end" font-weight="normal" font-style="normal" fill="#000">5</text>
<path d="M213.35 251.06V244.68H235.69V251.06" stroke="#000" stroke-width="1.15" fill="none"/>
<path d="M253.55 251.06V244.68H276.41V251.06" stroke="#000" stroke-width="1.15" fill="none"/>
<path d="M291.12 251.06V244.68H313.98V251.06" stroke="#000" stroke-width="1.15" fill="none"/>
<text x="223.86" y="238.71" font-size="9.25" text-anchor="middle" font-weight="normal" font-style="normal" fill="#000">0.0008</text>
<text x="264.59" y="238.71" font-size="9.25" text-anchor="middle" font-weight="normal" font-style="normal" fill="#000">0.2523</text>
<text x="302.16" y="238.71" font-size="9.25" text-anchor="middle" font-weight="normal" font-style="normal" fill="#000">0.0614</text>
<text x="221.23" y="362.69" font-size="11" text-anchor="middle" font-weight="normal" font-style="normal" fill="#000">7M</text>
<text x="263.27" y="362.69" font-size="11" text-anchor="middle" font-weight="normal" font-style="normal" fill="#000">12M</text>
<text x="304.52" y="362.69" font-size="11" text-anchor="middle" font-weight="normal" font-style="normal" fill="#000">20M</text>
<text x="185.98" y="296.95" font-size="10.7" text-anchor="middle" font-weight="normal" font-style="normal" fill="#000" transform="rotate(-90 185.98 296.95)">Tb.N (1/mm)</text>
<text x="181.04" y="237.32" font-size="14.5" text-anchor="start" font-weight="bold" font-style="normal" fill="#000">E</text>
<line x1="412.24" y1="247.14" x2="412.24" y2="348.20" stroke="#000" stroke-width="1.3" stroke-dasharray="2.9 1.1"/>
<line x1="450.86" y1="247.14" x2="450.86" y2="348.20" stroke="#000" stroke-width="1.3" stroke-dasharray="2.9 1.1"/>
<path d="M383.60 280.69V289.89M383.60 301.18V310.11M380.10 280.69h7M380.10 310.11h7" stroke="#000" stroke-width="1" fill="none"/>
<rect x="377.45" y="289.89" width="12.30" height="11.29" fill="#fff" stroke="#000" stroke-width="1"/>
<line x1="377.45" x2="389.75" y1="294.35" y2="294.35" stroke="#000" stroke-width="1"/>
<path d="M383.6 280.7h.01M383.6 310.1h.01M381.5 307.3h.01M380.4 296.9h.01M380.2 292.3h.01M378.8 289.9h.01M378.8 305.5h.01M382.8 298.3h.01M387.4 292.1h.01M380.4 282.0h.01M380.4 301.3h.01M388.4 296.0h.01M383.2 294.2h.01M383.6 285.3h.01M386.8 307.0h.01M385.4 299.4h.01M386.8 291.9h.01M388.4 281.2h.01M383.6 304.8h.01M385.2 297.5h.01M385.9 293.2h.01M383.6 289.9h.01M388.4 302.3h.01M388.5 298.4h.01" stroke="#F0922E" stroke-width="4.5" stroke-linecap="round" fill="none"/>
<path d="M402.78 279.91V287.26M402.78 303.02V310.90M399.28 279.91h7M399.28 310.90h7" stroke="#000" stroke-width="1" fill="none"/>
<rect x="396.63" y="287.26" width="12.30" height="15.76" fill="#fff" stroke="#000" stroke-width="1"/>
<line x1="396.63" x2="408.93" y1="295.14" y2="295.14" stroke="#000" stroke-width="1"/>
<path d="M400.6 277.8h4.3v4.3h-4.3zM403.8 308.8h4.3v4.3h-4.3zM400.6 306.3h4.3v4.3h-4.3zM395.8 299.0h4.3v4.3h-4.3zM403.8 292.7h4.3v4.3h-4.3zM405.4 282.7h4.3v4.3h-4.3zM397.4 304.0h4.3v4.3h-4.3zM395.8 294.4h4.3v4.3h-4.3zM405.4 287.4h4.3v4.3h-4.3zM397.4 279.1h4.3v4.3h-4.3zM397.4 307.9h4.3v4.3h-4.3zM405.4 297.0h4.3v4.3h-4.3zM400.6 289.1h4.3v4.3h-4.3zM402.2 284.9h4.3v4.3h-4.3zM401.0 301.6h4.3v4.3h-4.3zM400.6 296.3h4.3v4.3h-4.3zM399.0 292.4h4.3v4.3h-4.3zM400.6 281.6h4.3v4.3h-4.3zM405.4 301.1h4.3v4.3h-4.3zM400.0 297.4h4.3v4.3h-4.3zM397.1 285.3h4.3v4.3h-4.3zM397.4 285.1h4.3v4.3h-4.3zM400.6 300.9h4.3v4.3h-4.3zM401.6 297.4h4.3v4.3h-4.3z" fill="#0B8F4C"/>
<path d="M421.96 296.45V303.81M421.96 310.11V314.84M418.46 296.45h7M418.46 314.84h7" stroke="#000" stroke-width="1" fill="none"/>
<rect x="415.81" y="303.81" width="12.30" height="6.30" fill="#fff" stroke="#000" stroke-width="1"/>
<line x1="415.81" x2="428.11" y1="307.75" y2="307.75" stroke="#000" stroke-width="1"/>
<path d="M422.0 296.5h.01M422.0 314.8h.01M417.2 313.6h.01M416.3 308.8h.01M425.5 304.9h.01M420.4 299.6h.01M426.5 310.2h.01M424.1 307.8h.01M425.2 304.9h.01M422.0 303.7h.01M425.2 313.4h.01M426.3 309.2h.01M422.9 307.1h.01M417.2 297.0h.01M420.3 311.6h.01M422.4 308.3h.01M425.4 307.2h.01M425.2 299.4h.01M423.2 310.1h.01M425.7 309.6h.01M419.1 306.3h.01M417.2 303.8h.01M420.3 311.8h.01M418.0 309.6h.01" stroke="#F0922E" stroke-width="4.5" stroke-linecap="round" fill="none"/>
<path d="M441.67 290.68V299.08M441.67 310.90V313.53M438.17 290.68h7M438.17 313.53h7" stroke="#000" stroke-width="1" fill="none"/>
<rect x="435.52" y="299.08" width="12.30" height="11.82" fill="#fff" stroke="#000" stroke-width="1"/>
<line x1="435.52" x2="447.82" y1="303.02" y2="303.02" stroke="#000" stroke-width="1"/>
<path d="M439.5 288.5h4.3v4.3h-4.3zM436.7 311.4h4.3v4.3h-4.3zM435.3 308.9h4.3v4.3h-4.3zM442.2 306.6h4.3v4.3h-4.3zM437.9 298.9h4.3v4.3h-4.3zM434.7 296.4h4.3v4.3h-4.3zM442.4 309.6h4.3v4.3h-4.3zM436.2 304.6h4.3v4.3h-4.3zM442.7 297.1h4.3v4.3h-4.3zM434.7 288.7h4.3v4.3h-4.3zM436.3 308.8h4.3v4.3h-4.3zM436.3 304.3h4.3v4.3h-4.3zM444.6 297.8h4.3v4.3h-4.3zM438.0 290.5h4.3v4.3h-4.3zM441.0 310.3h4.3v4.3h-4.3zM442.7 303.8h4.3v4.3h-4.3zM434.6 298.4h4.3v4.3h-4.3zM439.5 295.8h4.3v4.3h-4.3zM441.1 309.0h4.3v4.3h-4.3zM439.5 302.5h4.3v4.3h-4.3zM437.2 297.4h4.3v4.3h-4.3zM444.3 289.5h4.3v4.3h-4.3zM437.6 310.0h4.3v4.3h-4.3zM439.5 306.4h4.3v4.3h-4.3z" fill="#0B8F4C"/>
<path d="M461.11 259.15V284.63M461.11 293.04V316.15M457.61 259.15h7M457.61 316.15h7" stroke="#000" stroke-width="1" fill="none"/>
<rect x="454.96" y="284.63" width="12.30" height="8.41" fill="#fff" stroke="#000" stroke-width="1"/>
<line x1="454.96" x2="467.26" y1="288.57" y2="288.57" stroke="#000" stroke-width="1"/>
<path d="M461.1 259.2h.01M465.9 316.2h.01M464.3 298.0h.01M466.0 293.0h.01M456.3 284.9h.01M461.1 276.5h.01M461.1 315.6h.01M465.3 292.8h.01M457.4 286.2h.01M461.1 271.3h.01M461.1 295.5h.01M465.9 292.6h.01M461.1 288.0h.01M461.1 284.1h.01M461.1 306.6h.01M463.8 292.6h.01M464.3 285.4h.01M461.1 280.1h.01M461.1 299.7h.01M457.9 290.4h.01M457.4 286.4h.01M457.9 273.6h.01M464.3 301.4h.01M461.1 291.6h.01" stroke="#F0922E" stroke-width="4.5" stroke-linecap="round" fill="none"/>
<path d="M480.55 267.04V286.47M480.55 292.51V312.21M477.05 267.04h7M477.05 312.21h7" stroke="#000" stroke-width="1" fill="none"/>
<rect x="474.40" y="286.47" width="12.30" height="6.04" fill="#fff" stroke="#000" stroke-width="1"/>
<line x1="474.40" x2="486.70" y1="288.57" y2="288.57" stroke="#000" stroke-width="1"/>
<path d="M478.4 264.9h4.3v4.3h-4.3zM481.7 310.1h4.3v4.3h-4.3zM478.4 292.5h4.3v4.3h-4.3zM473.1 288.5h4.3v4.3h-4.3zM472.8 284.6h4.3v4.3h-4.3zM481.6 283.8h4.3v4.3h-4.3zM478.4 299.5h4.3v4.3h-4.3zM475.2 288.0h4.3v4.3h-4.3zM478.4 285.5h4.3v4.3h-4.3zM478.4 277.8h4.3v4.3h-4.3zM478.4 305.7h4.3v4.3h-4.3zM481.6 289.5h4.3v4.3h-4.3zM474.0 284.6h4.3v4.3h-4.3zM478.4 281.8h4.3v4.3h-4.3zM481.6 302.3h4.3v4.3h-4.3zM483.8 287.0h4.3v4.3h-4.3zM481.2 286.0h4.3v4.3h-4.3zM478.4 269.8h4.3v4.3h-4.3zM481.6 309.9h4.3v4.3h-4.3zM476.8 289.2h4.3v4.3h-4.3zM478.4 286.4h4.3v4.3h-4.3zM475.2 284.1h4.3v4.3h-4.3zM476.8 309.1h4.3v4.3h-4.3zM484.0 290.3h4.3v4.3h-4.3z" fill="#0B8F4C"/>
<path d="M370.20 249.44V348.20H493.69" stroke="#000" stroke-width="1.25" fill="none"/>
<line x1="365.80" x2="370.20" y1="348.20" y2="348.20" stroke="#000" stroke-width="1.1"/>
<text x="364.40" y="352.05" font-size="10.9" text-anchor="end" font-weight="normal" font-style="normal" fill="#000">0.0</text>
<line x1="365.80" x2="370.20" y1="315.45" y2="315.45" stroke="#000" stroke-width="1.1"/>
<text x="364.40" y="319.30" font-size="10.9" text-anchor="end" font-weight="normal" font-style="normal" fill="#000">0.2</text>
<line x1="365.80" x2="370.20" y1="282.69" y2="282.69" stroke="#000" stroke-width="1.1"/>
<text x="364.40" y="286.54" font-size="10.9" text-anchor="end" font-weight="normal" font-style="normal" fill="#000">0.4</text>
<line x1="365.80" x2="370.20" y1="249.94" y2="249.94" stroke="#000" stroke-width="1.1"/>
<text x="364.40" y="253.79" font-size="10.9" text-anchor="end" font-weight="normal" font-style="normal" fill="#000">0.6</text>
<path d="M381.76 250.27V244.42H404.62V250.27" stroke="#000" stroke-width="1.15" fill="none"/>
<path d="M421.96 250.27V244.42H445.08V250.27" stroke="#000" stroke-width="1.15" fill="none"/>
<path d="M460.58 250.27V244.42H483.44V250.27" stroke="#000" stroke-width="1.15" fill="none"/>
<text x="394.37" y="237.92" font-size="9.25" text-anchor="middle" font-weight="normal" font-style="normal" fill="#000">0.0174</text>
<text x="434.05" y="237.92" font-size="9.25" text-anchor="middle" font-weight="normal" font-style="normal" fill="#000">0.9434</text>
<text x="471.88" y="237.92" font-size="9.25" text-anchor="middle" font-weight="normal" font-style="normal" fill="#000">0.3164</text>
<text x="389.64" y="361.37" font-size="11" text-anchor="middle" font-weight="normal" font-style="normal" fill="#000">7M</text>
<text x="431.94" y="361.37" font-size="11" text-anchor="middle" font-weight="normal" font-style="normal" fill="#000">12M</text>
<text x="473.19" y="361.37" font-size="11" text-anchor="middle" font-weight="normal" font-style="normal" fill="#000">20M</text>
<text x="345.98" y="295.64" font-size="10.7" text-anchor="middle" font-weight="normal" font-style="normal" fill="#000" transform="rotate(-90 345.98 295.64)">Tb.Sp (mm)</text>
<text x="346.29" y="237.32" font-size="14.5" text-anchor="start" font-weight="bold" font-style="normal" fill="#000">F</text>
<line x1="572.77" y1="247.14" x2="572.77" y2="348.20" stroke="#000" stroke-width="1.3" stroke-dasharray="2.9 1.1"/>
<line x1="611.40" y1="247.14" x2="611.40" y2="348.20" stroke="#000" stroke-width="1.3" stroke-dasharray="2.9 1.1"/>
<path d="M543.87 288.57V308.27M543.87 327.98V339.01M540.37 288.57h7M540.37 339.01h7" stroke="#000" stroke-width="1" fill="none"/>
<rect x="537.72" y="308.27" width="12.30" height="19.70" fill="#fff" stroke="#000" stroke-width="1"/>
<line x1="537.72" x2="550.02" y1="317.47" y2="317.47" stroke="#000" stroke-width="1"/>
<path d="M543.9 288.6h.01M540.7 339.0h.01M543.9 337.1h.01M543.9 327.5h.01M540.7 311.1h.01M539.1 306.2h.01M540.7 332.6h.01M540.7 322.2h.01M543.9 314.6h.01M539.1 289.7h.01M548.7 328.0h.01M543.9 320.1h.01M543.9 309.6h.01M540.7 303.1h.01M548.7 331.8h.01M540.7 317.5h.01M548.7 315.3h.01M543.9 300.5h.01M545.5 334.1h.01M543.9 324.0h.01M547.1 310.9h.01M543.9 305.2h.01M543.9 331.0h.01M547.1 321.5h.01" stroke="#F0922E" stroke-width="4.5" stroke-linecap="round" fill="none"/>
<path d="M563.31 282.80V291.99M563.31 310.11V332.44M559.81 282.80h7M559.81 332.44h7" stroke="#000" stroke-width="1" fill="none"/>
<rect x="557.16" y="291.99" width="12.30" height="18.12" fill="#fff" stroke="#000" stroke-width="1"/>
<line x1="557.16" x2="569.46" y1="299.87" y2="299.87" stroke="#000" stroke-width="1"/>
<path d="M561.2 280.6h4.3v4.3h-4.3zM559.6 330.3h4.3v4.3h-4.3zM561.2 311.0h4.3v4.3h-4.3zM562.8 307.5h4.3v4.3h-4.3zM561.2 294.2h4.3v4.3h-4.3zM561.2 288.6h4.3v4.3h-4.3zM561.2 319.3h4.3v4.3h-4.3zM555.4 304.9h4.3v4.3h-4.3zM566.0 294.5h4.3v4.3h-4.3zM556.4 286.0h4.3v4.3h-4.3zM562.8 322.6h4.3v4.3h-4.3zM559.6 304.4h4.3v4.3h-4.3zM556.4 294.7h4.3v4.3h-4.3zM564.4 286.8h4.3v4.3h-4.3zM561.2 327.1h4.3v4.3h-4.3zM559.0 306.0h4.3v4.3h-4.3zM566.0 290.1h4.3v4.3h-4.3zM561.2 285.2h4.3v4.3h-4.3zM556.4 311.1h4.3v4.3h-4.3zM561.2 301.1h4.3v4.3h-4.3zM563.3 295.1h4.3v4.3h-4.3zM558.0 289.8h4.3v4.3h-4.3zM558.0 320.7h4.3v4.3h-4.3zM564.4 304.1h4.3v4.3h-4.3z" fill="#0B8F4C"/>
<path d="M582.76 278.86V293.83M582.76 320.62V339.01M579.26 278.86h7M579.26 339.01h7" stroke="#000" stroke-width="1" fill="none"/>
<rect x="576.61" y="293.83" width="12.30" height="26.79" fill="#fff" stroke="#000" stroke-width="1"/>
<line x1="576.61" x2="588.91" y1="305.65" y2="305.65" stroke="#000" stroke-width="1"/>
<path d="M582.8 278.9h.01M579.6 339.0h.01M586.0 322.4h.01M582.3 312.6h.01M584.4 300.8h.01M582.8 289.0h.01M579.6 322.5h.01M582.8 316.5h.01M585.0 296.2h.01M582.8 292.6h.01M582.8 329.9h.01M582.8 308.6h.01M581.2 298.6h.01M586.0 290.7h.01M582.8 336.7h.01M587.6 314.0h.01M586.0 295.3h.01M579.6 293.8h.01M583.9 324.1h.01M579.6 311.0h.01M582.8 305.1h.01M582.8 282.7h.01M582.8 320.7h.01M584.4 311.7h.01" stroke="#F0922E" stroke-width="4.5" stroke-linecap="round" fill="none"/>
<path d="M602.20 287.26V295.14M602.20 304.33V316.68M598.70 287.26h7M598.70 316.68h7" stroke="#000" stroke-width="1" fill="none"/>
<rect x="596.05" y="295.14" width="12.30" height="9.19" fill="#fff" stroke="#000" stroke-width="1"/>
<line x1="596.05" x2="608.35" y1="299.61" y2="299.61" stroke="#000" stroke-width="1"/>
<path d="M600.0 285.1h4.3v4.3h-4.3zM600.0 314.5h4.3v4.3h-4.3zM595.2 306.6h4.3v4.3h-4.3zM600.9 297.6h4.3v4.3h-4.3zM595.2 295.9h4.3v4.3h-4.3zM604.8 286.0h4.3v4.3h-4.3zM603.2 307.5h4.3v4.3h-4.3zM604.8 301.9h4.3v4.3h-4.3zM597.0 296.0h4.3v4.3h-4.3zM604.8 291.4h4.3v4.3h-4.3zM598.2 302.9h4.3v4.3h-4.3zM598.8 298.7h4.3v4.3h-4.3zM594.4 296.7h4.3v4.3h-4.3zM596.8 288.1h4.3v4.3h-4.3zM594.4 303.3h4.3v4.3h-4.3zM600.0 301.9h4.3v4.3h-4.3zM604.8 295.0h4.3v4.3h-4.3zM596.8 292.9h4.3v4.3h-4.3zM600.0 305.9h4.3v4.3h-4.3zM604.8 298.5h4.3v4.3h-4.3zM600.0 294.8h4.3v4.3h-4.3zM600.0 291.3h4.3v4.3h-4.3zM594.7 302.2h4.3v4.3h-4.3zM595.2 299.8h4.3v4.3h-4.3z" fill="#0B8F4C"/>
<path d="M621.64 269.66V275.44M621.64 289.89V314.84M618.14 269.66h7M618.14 314.84h7" stroke="#000" stroke-width="1" fill="none"/>
<rect x="615.49" y="275.44" width="12.30" height="14.45" fill="#fff" stroke="#000" stroke-width="1"/>
<line x1="615.49" x2="627.79" y1="282.01" y2="282.01" stroke="#000" stroke-width="1"/>
<path d="M621.6 269.7h.01M621.6 314.8h.01M621.6 292.6h.01M618.4 282.2h.01M616.8 275.5h.01M624.8 271.8h.01M620.0 295.6h.01M616.8 286.0h.01M620.0 276.9h.01M616.8 270.7h.01M616.8 304.0h.01M621.6 284.9h.01M621.6 280.7h.01M625.6 273.2h.01M621.6 307.7h.01M625.0 283.7h.01M626.4 281.4h.01M627.0 272.5h.01M626.4 292.9h.01M621.6 288.6h.01M623.2 275.7h.01M620.0 272.8h.01M621.6 303.8h.01M626.4 288.8h.01" stroke="#F0922E" stroke-width="4.5" stroke-linecap="round" fill="none"/>
<path d="M641.09 272.29V280.17M641.09 303.02V330.60M637.59 272.29h7M637.59 330.60h7" stroke="#000" stroke-width="1" fill="none"/>
<rect x="634.94" y="280.17" width="12.30" height="22.85" fill="#fff" stroke="#000" stroke-width="1"/>
<line x1="634.94" x2="647.24" y1="286.47" y2="286.47" stroke="#000" stroke-width="1"/>
<path d="M638.9 270.1h4.3v4.3h-4.3zM638.9 328.5h4.3v4.3h-4.3zM638.9 307.8h4.3v4.3h-4.3zM637.3 285.1h4.3v4.3h-4.3zM643.7 281.1h4.3v4.3h-4.3zM643.7 270.3h4.3v4.3h-4.3zM643.7 301.9h4.3v4.3h-4.3zM641.1 287.1h4.3v4.3h-4.3zM640.5 283.3h4.3v4.3h-4.3zM638.9 275.8h4.3v4.3h-4.3zM638.9 300.9h4.3v4.3h-4.3zM635.7 298.0h4.3v4.3h-4.3zM641.6 278.4h4.3v4.3h-4.3zM634.1 276.4h4.3v4.3h-4.3zM638.9 318.9h4.3v4.3h-4.3zM638.9 296.7h4.3v4.3h-4.3zM633.7 282.1h4.3v4.3h-4.3zM639.6 277.9h4.3v4.3h-4.3zM635.7 309.3h4.3v4.3h-4.3zM634.1 286.6h4.3v4.3h-4.3zM637.3 281.1h4.3v4.3h-4.3zM643.7 276.9h4.3v4.3h-4.3zM638.9 324.7h4.3v4.3h-4.3zM643.7 286.1h4.3v4.3h-4.3z" fill="#0B8F4C"/>
<path d="M531.00 249.44V348.20H653.96" stroke="#000" stroke-width="1.25" fill="none"/>
<line x1="526.60" x2="531.00" y1="348.20" y2="348.20" stroke="#000" stroke-width="1.1"/>
<text x="525.20" y="352.05" font-size="10.9" text-anchor="end" font-weight="normal" font-style="normal" fill="#000">0</text>
<line x1="526.60" x2="531.00" y1="315.45" y2="315.45" stroke="#000" stroke-width="1.1"/>
<text x="525.20" y="319.30" font-size="10.9" text-anchor="end" font-weight="normal" font-style="normal" fill="#000">1</text>
<line x1="526.60" x2="531.00" y1="282.69" y2="282.69" stroke="#000" stroke-width="1.1"/>
<text x="525.20" y="286.54" font-size="10.9" text-anchor="end" font-weight="normal" font-style="normal" fill="#000">2</text>
<line x1="526.60" x2="531.00" y1="249.94" y2="249.94" stroke="#000" stroke-width="1.1"/>
<text x="525.20" y="253.79" font-size="10.9" text-anchor="end" font-weight="normal" font-style="normal" fill="#000">3</text>
<path d="M542.29 251.59V245.99H565.15V251.59" stroke="#000" stroke-width="1.15" fill="none"/>
<path d="M581.44 251.59V245.99H604.30V251.59" stroke="#000" stroke-width="1.15" fill="none"/>
<path d="M621.12 251.59V245.99H643.98V251.59" stroke="#000" stroke-width="1.15" fill="none"/>
<text x="553.33" y="240.55" font-size="9.25" text-anchor="middle" font-weight="normal" font-style="normal" fill="#000">0.0004</text>
<text x="593.00" y="240.55" font-size="9.25" text-anchor="middle" font-weight="normal" font-style="normal" fill="#000">0.0552</text>
<text x="631.63" y="240.55" font-size="9.25" text-anchor="middle" font-weight="normal" font-style="normal" fill="#000">0.1352</text>
<text x="549.65" y="361.37" font-size="11" text-anchor="middle" font-weight="normal" font-style="normal" fill="#000">7M</text>
<text x="592.74" y="361.37" font-size="11" text-anchor="middle" font-weight="normal" font-style="normal" fill="#000">12M</text>
<text x="633.73" y="361.37" font-size="11" text-anchor="middle" font-weight="normal" font-style="normal" fill="#000">20M</text>
<text x="514.92" y="299.58" font-size="10.7" text-anchor="middle" font-weight="normal" font-style="normal" fill="#000" transform="rotate(-90 514.92 299.58)">SMI</text>
<text x="504.20" y="237.32" font-size="14.5" text-anchor="start" font-weight="bold" font-style="normal" fill="#000">G</text>
<line x1="82.24" y1="576.60" x2="82.24" y2="677.93" stroke="#000" stroke-width="1.3" stroke-dasharray="2.9 1.1"/>
<line x1="120.86" y1="576.60" x2="120.86" y2="677.93" stroke="#000" stroke-width="1.3" stroke-dasharray="2.9 1.1"/>
<path d="M53.60 590.75V603.88M53.60 625.41V634.60M50.10 590.75h7M50.10 634.60h7" stroke="#000" stroke-width="1" fill="none"/>
<rect x="47.45" y="603.88" width="12.30" height="21.53" fill="#fff" stroke="#000" stroke-width="1"/>
<line x1="47.45" x2="59.75" y1="611.49" y2="611.49" stroke="#000" stroke-width="1"/>
<path d="M53.6 590.7h.01M53.6 634.6h.01M58.4 626.8h.01M56.8 612.0h.01M53.6 609.5h.01M55.2 603.3h.01M56.8 633.0h.01M56.8 619.1h.01M58.4 605.1h.01M50.4 598.5h.01M53.6 631.0h.01M56.5 621.0h.01M48.8 610.3h.01M53.6 596.4h.01M48.6 627.4h.01M48.8 617.6h.01M48.8 606.4h.01M58.4 596.4h.01M53.6 626.1h.01M53.6 620.4h.01M52.0 604.5h.01M53.6 600.2h.01M48.8 626.2h.01M53.6 616.6h.01" stroke="#F0922E" stroke-width="4.5" stroke-linecap="round" fill="none"/>
<path d="M72.52 607.03V613.59M72.52 625.41V631.45M69.02 607.03h7M69.02 631.45h7" stroke="#000" stroke-width="1" fill="none"/>
<rect x="66.37" y="613.59" width="12.30" height="11.82" fill="#fff" stroke="#000" stroke-width="1"/>
<line x1="66.37" x2="78.67" y1="619.63" y2="619.63" stroke="#000" stroke-width="1"/>
<path d="M70.4 604.9h4.3v4.3h-4.3zM72.0 629.3h4.3v4.3h-4.3zM73.6 624.0h4.3v4.3h-4.3zM70.4 619.2h4.3v4.3h-4.3zM65.6 617.0h4.3v4.3h-4.3zM67.2 606.8h4.3v4.3h-4.3zM69.8 623.9h4.3v4.3h-4.3zM71.9 623.2h4.3v4.3h-4.3zM66.1 613.7h4.3v4.3h-4.3zM67.2 611.3h4.3v4.3h-4.3zM66.6 623.7h4.3v4.3h-4.3zM72.0 622.9h4.3v4.3h-4.3zM72.0 614.8h4.3v4.3h-4.3zM70.4 609.4h4.3v4.3h-4.3zM68.8 627.2h4.3v4.3h-4.3zM67.0 623.0h4.3v4.3h-4.3zM68.4 612.5h4.3v4.3h-4.3zM74.6 611.4h4.3v4.3h-4.3zM71.9 623.6h4.3v4.3h-4.3zM75.2 619.6h4.3v4.3h-4.3zM69.2 615.4h4.3v4.3h-4.3zM73.6 610.7h4.3v4.3h-4.3zM73.8 625.2h4.3v4.3h-4.3zM67.2 622.0h4.3v4.3h-4.3z" fill="#0B8F4C"/>
<path d="M91.96 601.78V614.38M91.96 630.14V640.64M88.46 601.78h7M88.46 640.64h7" stroke="#000" stroke-width="1" fill="none"/>
<rect x="85.81" y="614.38" width="12.30" height="15.76" fill="#fff" stroke="#000" stroke-width="1"/>
<line x1="85.81" x2="98.11" y1="621.47" y2="621.47" stroke="#000" stroke-width="1"/>
<path d="M92.0 601.8h.01M92.0 640.6h.01M86.4 630.6h.01M87.2 628.0h.01M95.2 621.3h.01M88.8 604.0h.01M90.4 635.4h.01M88.8 621.9h.01M92.0 614.5h.01M95.2 612.0h.01M95.2 635.8h.01M92.0 626.8h.01M88.8 615.7h.01M92.0 605.5h.01M93.6 630.3h.01M90.4 630.0h.01M92.0 620.0h.01M92.0 610.1h.01M94.4 631.6h.01M97.0 630.1h.01M96.8 615.6h.01M96.8 606.6h.01M92.1 632.4h.01M95.2 629.8h.01" stroke="#F0922E" stroke-width="4.5" stroke-linecap="round" fill="none"/>
<path d="M111.40 605.71V620.68M111.40 631.45V637.75M107.90 605.71h7M107.90 637.75h7" stroke="#000" stroke-width="1" fill="none"/>
<rect x="105.25" y="620.68" width="12.30" height="10.77" fill="#fff" stroke="#000" stroke-width="1"/>
<line x1="105.25" x2="117.55" y1="626.72" y2="626.72" stroke="#000" stroke-width="1"/>
<path d="M109.3 603.6h4.3v4.3h-4.3zM109.3 635.6h4.3v4.3h-4.3zM108.2 631.7h4.3v4.3h-4.3zM104.6 626.5h4.3v4.3h-4.3zM109.3 619.7h4.3v4.3h-4.3zM106.1 618.4h4.3v4.3h-4.3zM113.0 629.3h4.3v4.3h-4.3zM114.3 626.7h4.3v4.3h-4.3zM107.7 622.8h4.3v4.3h-4.3zM109.3 616.2h4.3v4.3h-4.3zM113.8 629.3h4.3v4.3h-4.3zM106.4 625.8h4.3v4.3h-4.3zM104.5 624.4h4.3v4.3h-4.3zM109.3 608.2h4.3v4.3h-4.3zM112.5 633.5h4.3v4.3h-4.3zM110.9 627.1h4.3v4.3h-4.3zM112.5 623.8h4.3v4.3h-4.3zM109.3 612.2h4.3v4.3h-4.3zM109.7 629.6h4.3v4.3h-4.3zM108.2 627.3h4.3v4.3h-4.3zM113.3 623.9h4.3v4.3h-4.3zM114.1 604.3h4.3v4.3h-4.3zM106.1 631.2h4.3v4.3h-4.3zM114.1 627.6h4.3v4.3h-4.3z" fill="#0B8F4C"/>
<path d="M130.85 621.47V628.56M130.85 645.63V662.17M127.35 621.47h7M127.35 662.17h7" stroke="#000" stroke-width="1" fill="none"/>
<rect x="124.70" y="628.56" width="12.30" height="17.07" fill="#fff" stroke="#000" stroke-width="1"/>
<line x1="124.70" x2="137.00" y1="637.23" y2="637.23" stroke="#000" stroke-width="1"/>
<path d="M130.8 621.5h.01M134.0 662.2h.01M130.8 659.2h.01M134.0 645.5h.01M127.6 635.0h.01M130.8 624.9h.01M127.6 661.8h.01M130.8 644.1h.01M130.8 633.4h.01M135.6 625.2h.01M135.6 653.5h.01M134.0 639.4h.01M127.6 630.7h.01M132.4 628.1h.01M129.3 646.7h.01M127.6 645.4h.01M134.0 631.2h.01M130.2 628.3h.01M134.3 646.7h.01M130.8 637.5h.01M134.4 631.7h.01M127.6 626.1h.01M130.8 652.8h.01M129.2 640.6h.01" stroke="#F0922E" stroke-width="4.5" stroke-linecap="round" fill="none"/>
<path d="M150.29 593.90V617.01M150.29 635.91V649.04M146.79 593.90h7M146.79 649.04h7" stroke="#000" stroke-width="1" fill="none"/>
<rect x="144.14" y="617.01" width="12.30" height="18.91" fill="#fff" stroke="#000" stroke-width="1"/>
<line x1="144.14" x2="156.44" y1="630.14" y2="630.14" stroke="#000" stroke-width="1"/>
<path d="M148.1 591.7h4.3v4.3h-4.3zM148.1 646.9h4.3v4.3h-4.3zM147.0 633.8h4.3v4.3h-4.3zM146.5 631.2h4.3v4.3h-4.3zM152.9 626.5h4.3v4.3h-4.3zM152.9 610.0h4.3v4.3h-4.3zM151.3 640.4h4.3v4.3h-4.3zM149.7 633.2h4.3v4.3h-4.3zM146.5 626.4h4.3v4.3h-4.3zM148.1 609.5h4.3v4.3h-4.3zM148.0 634.2h4.3v4.3h-4.3zM143.3 632.4h4.3v4.3h-4.3zM152.9 622.2h4.3v4.3h-4.3zM148.1 614.5h4.3v4.3h-4.3zM145.0 633.8h4.3v4.3h-4.3zM152.9 631.7h4.3v4.3h-4.3zM148.1 621.8h4.3v4.3h-4.3zM144.9 594.6h4.3v4.3h-4.3zM148.1 637.8h4.3v4.3h-4.3zM144.6 633.4h4.3v4.3h-4.3zM149.7 625.1h4.3v4.3h-4.3zM148.1 602.1h4.3v4.3h-4.3zM143.3 637.9h4.3v4.3h-4.3zM149.7 628.7h4.3v4.3h-4.3z" fill="#0B8F4C"/>
<path d="M40.73 578.90V677.93H163.43" stroke="#000" stroke-width="1.25" fill="none"/>
<line x1="36.33" x2="40.73" y1="677.93" y2="677.93" stroke="#000" stroke-width="1.1"/>
<text x="34.93" y="681.78" font-size="10.9" text-anchor="end" font-weight="normal" font-style="normal" fill="#000">0.0</text>
<line x1="36.33" x2="40.73" y1="653.30" y2="653.30" stroke="#000" stroke-width="1.1"/>
<text x="34.93" y="657.15" font-size="10.9" text-anchor="end" font-weight="normal" font-style="normal" fill="#000">0.2</text>
<line x1="36.33" x2="40.73" y1="628.67" y2="628.67" stroke="#000" stroke-width="1.1"/>
<text x="34.93" y="632.52" font-size="10.9" text-anchor="end" font-weight="normal" font-style="normal" fill="#000">0.4</text>
<line x1="36.33" x2="40.73" y1="604.03" y2="604.03" stroke="#000" stroke-width="1.1"/>
<text x="34.93" y="607.88" font-size="10.9" text-anchor="end" font-weight="normal" font-style="normal" fill="#000">0.6</text>
<line x1="36.33" x2="40.73" y1="579.40" y2="579.40" stroke="#000" stroke-width="1.1"/>
<text x="34.93" y="583.25" font-size="10.9" text-anchor="end" font-weight="normal" font-style="normal" fill="#000">0.8</text>
<path d="M53.34 585.26V579.40H73.04V585.26" stroke="#000" stroke-width="1.15" fill="none"/>
<path d="M91.96 585.26V579.40H111.93V585.26" stroke="#000" stroke-width="1.15" fill="none"/>
<path d="M130.58 585.26V579.40H150.81V585.26" stroke="#000" stroke-width="1.15" fill="none"/>
<text x="62.53" y="573.43" font-size="9.25" text-anchor="middle" font-weight="normal" font-style="normal" fill="#000">0.1473</text>
<text x="101.94" y="573.43" font-size="9.25" text-anchor="middle" font-weight="normal" font-style="normal" fill="#000">0.4652</text>
<text x="140.57" y="573.43" font-size="9.25" text-anchor="middle" font-weight="normal" font-style="normal" fill="#000">0.0003</text>
<text x="59.64" y="691.63" font-size="11" text-anchor="middle" font-weight="normal" font-style="normal" fill="#000">7M</text>
<text x="101.94" y="691.63" font-size="11" text-anchor="middle" font-weight="normal" font-style="normal" fill="#000">12M</text>
<text x="143.19" y="691.63" font-size="11" text-anchor="middle" font-weight="normal" font-style="normal" fill="#000">20M</text>
<text x="12.04" y="627.21" font-size="10.7" text-anchor="middle" font-weight="normal" font-style="normal" fill="#000" transform="rotate(-90 12.04 627.21)">B. Ar (mm<tspan dy="-3.5" font-size="6.5">2</tspan><tspan dy="3.5">)</tspan></text>
<text x="2.63" y="562.32" font-size="14.5" text-anchor="start" font-weight="bold" font-style="normal" fill="#000">I</text>
<line x1="250.65" y1="575.29" x2="250.65" y2="676.88" stroke="#000" stroke-width="1.3" stroke-dasharray="2.9 1.1"/>
<line x1="289.28" y1="575.29" x2="289.28" y2="676.88" stroke="#000" stroke-width="1.3" stroke-dasharray="2.9 1.1"/>
<path d="M221.75 589.39V602.26M221.75 624.07V633.26M218.25 589.39h7M218.25 633.26h7" stroke="#000" stroke-width="1" fill="none"/>
<rect x="215.60" y="602.26" width="12.30" height="21.81" fill="#fff" stroke="#000" stroke-width="1"/>
<line x1="215.60" x2="227.90" y1="609.62" y2="609.62" stroke="#000" stroke-width="1"/>
<path d="M221.8 589.4h.01M221.8 633.3h.01M221.8 628.2h.01M223.4 623.7h.01M221.8 606.9h.01M226.6 601.9h.01M225.0 630.4h.01M225.1 624.1h.01M226.4 605.1h.01M221.8 601.4h.01M219.0 626.0h.01M221.8 615.9h.01M218.8 604.4h.01M226.0 602.0h.01M224.8 624.6h.01M218.6 622.3h.01M225.3 602.6h.01M217.0 602.0h.01M218.6 624.2h.01M226.6 616.5h.01M226.4 605.3h.01M218.6 592.1h.01M218.4 624.1h.01M221.8 620.7h.01" stroke="#F0922E" stroke-width="4.5" stroke-linecap="round" fill="none"/>
<path d="M241.20 605.68V612.24M241.20 624.59V629.85M237.70 605.68h7M237.70 629.85h7" stroke="#000" stroke-width="1" fill="none"/>
<rect x="235.05" y="612.24" width="12.30" height="12.35" fill="#fff" stroke="#000" stroke-width="1"/>
<line x1="235.05" x2="247.35" y1="618.29" y2="618.29" stroke="#000" stroke-width="1"/>
<path d="M239.0 603.5h4.3v4.3h-4.3zM242.2 627.7h4.3v4.3h-4.3zM235.8 625.1h4.3v4.3h-4.3zM242.4 619.7h4.3v4.3h-4.3zM234.2 615.1h4.3v4.3h-4.3zM242.2 608.6h4.3v4.3h-4.3zM235.8 622.4h4.3v4.3h-4.3zM240.0 618.2h4.3v4.3h-4.3zM243.8 615.2h4.3v4.3h-4.3zM235.8 609.2h4.3v4.3h-4.3zM240.9 627.3h4.3v4.3h-4.3zM237.4 617.6h4.3v4.3h-4.3zM236.2 611.1h4.3v4.3h-4.3zM239.0 607.4h4.3v4.3h-4.3zM243.8 624.6h4.3v4.3h-4.3zM235.9 618.0h4.3v4.3h-4.3zM239.3 610.3h4.3v4.3h-4.3zM244.1 609.8h4.3v4.3h-4.3zM240.4 625.5h4.3v4.3h-4.3zM239.8 620.5h4.3v4.3h-4.3zM239.0 614.6h4.3v4.3h-4.3zM235.8 605.7h4.3v4.3h-4.3zM239.0 624.3h4.3v4.3h-4.3zM244.0 617.1h4.3v4.3h-4.3z" fill="#0B8F4C"/>
<path d="M260.64 599.90V613.03M260.64 628.80V639.31M257.14 599.90h7M257.14 639.31h7" stroke="#000" stroke-width="1" fill="none"/>
<rect x="254.49" y="613.03" width="12.30" height="15.76" fill="#fff" stroke="#000" stroke-width="1"/>
<line x1="254.49" x2="266.79" y1="620.13" y2="620.13" stroke="#000" stroke-width="1"/>
<path d="M260.6 599.9h.01M260.6 639.3h.01M262.2 636.0h.01M256.7 622.6h.01M255.8 613.3h.01M260.6 604.7h.01M263.1 629.8h.01M260.6 626.1h.01M262.0 615.0h.01M260.6 613.0h.01M260.6 632.7h.01M263.8 628.0h.01M260.6 619.8h.01M255.8 609.6h.01M263.4 629.0h.01M255.8 620.7h.01M265.4 613.9h.01M265.4 610.2h.01M265.9 629.2h.01M257.4 627.8h.01M257.4 616.5h.01M260.6 609.5h.01M266.0 630.2h.01M263.8 622.6h.01" stroke="#F0922E" stroke-width="4.5" stroke-linecap="round" fill="none"/>
<path d="M280.08 604.89V619.60M280.08 630.11V636.68M276.58 604.89h7M276.58 636.68h7" stroke="#000" stroke-width="1" fill="none"/>
<rect x="273.93" y="619.60" width="12.30" height="10.51" fill="#fff" stroke="#000" stroke-width="1"/>
<line x1="273.93" x2="286.23" y1="625.38" y2="625.38" stroke="#000" stroke-width="1"/>
<path d="M277.9 602.7h4.3v4.3h-4.3zM281.1 634.5h4.3v4.3h-4.3zM282.3 628.6h4.3v4.3h-4.3zM274.4 627.1h4.3v4.3h-4.3zM282.7 618.9h4.3v4.3h-4.3zM281.1 615.7h4.3v4.3h-4.3zM277.6 628.2h4.3v4.3h-4.3zM277.9 626.0h4.3v4.3h-4.3zM277.9 618.5h4.3v4.3h-4.3zM277.9 606.5h4.3v4.3h-4.3zM282.3 630.1h4.3v4.3h-4.3zM283.2 627.9h4.3v4.3h-4.3zM273.1 618.8h4.3v4.3h-4.3zM277.9 612.0h4.3v4.3h-4.3zM273.1 633.3h4.3v4.3h-4.3zM274.7 623.5h4.3v4.3h-4.3zM277.4 621.3h4.3v4.3h-4.3zM273.1 606.9h4.3v4.3h-4.3zM277.9 632.4h4.3v4.3h-4.3zM273.1 626.7h4.3v4.3h-4.3zM279.7 621.1h4.3v4.3h-4.3zM276.3 615.4h4.3v4.3h-4.3zM281.8 628.8h4.3v4.3h-4.3zM282.7 626.2h4.3v4.3h-4.3z" fill="#0B8F4C"/>
<path d="M299.52 620.13V627.22M299.52 644.56V660.85M296.02 620.13h7M296.02 660.85h7" stroke="#000" stroke-width="1" fill="none"/>
<rect x="293.37" y="627.22" width="12.30" height="17.34" fill="#fff" stroke="#000" stroke-width="1"/>
<line x1="293.37" x2="305.67" y1="635.89" y2="635.89" stroke="#000" stroke-width="1"/>
<path d="M299.5 620.1h.01M299.5 660.9h.01M299.5 650.2h.01M302.1 640.8h.01M294.8 629.7h.01M294.7 625.9h.01M299.5 644.7h.01M297.9 640.0h.01M298.6 628.8h.01M302.7 622.8h.01M296.6 646.6h.01M294.3 642.6h.01M294.7 629.4h.01M296.3 622.7h.01M304.3 645.3h.01M299.5 636.9h.01M304.2 627.3h.01M299.5 625.9h.01M300.9 646.9h.01M302.7 638.4h.01M300.2 627.8h.01M304.3 626.9h.01M296.3 646.0h.01M294.7 641.7h.01" stroke="#F0922E" stroke-width="4.5" stroke-linecap="round" fill="none"/>
<path d="M319.23 591.23V615.40M319.23 636.68V648.24M315.73 591.23h7M315.73 648.24h7" stroke="#000" stroke-width="1" fill="none"/>
<rect x="313.08" y="615.40" width="12.30" height="21.28" fill="#fff" stroke="#000" stroke-width="1"/>
<line x1="313.08" x2="325.38" y1="629.32" y2="629.32" stroke="#000" stroke-width="1"/>
<path d="M317.1 589.1h4.3v4.3h-4.3zM312.3 646.1h4.3v4.3h-4.3zM313.5 637.5h4.3v4.3h-4.3zM317.5 633.2h4.3v4.3h-4.3zM317.1 620.5h4.3v4.3h-4.3zM312.3 608.6h4.3v4.3h-4.3zM317.1 645.5h4.3v4.3h-4.3zM320.3 631.0h4.3v4.3h-4.3zM320.3 614.0h4.3v4.3h-4.3zM317.1 607.9h4.3v4.3h-4.3zM313.9 635.0h4.3v4.3h-4.3zM312.3 630.2h4.3v4.3h-4.3zM317.1 625.2h4.3v4.3h-4.3zM317.1 612.6h4.3v4.3h-4.3zM321.9 634.6h4.3v4.3h-4.3zM317.1 629.4h4.3v4.3h-4.3zM313.9 613.7h4.3v4.3h-4.3zM320.3 609.3h4.3v4.3h-4.3zM319.6 636.0h4.3v4.3h-4.3zM315.6 631.4h4.3v4.3h-4.3zM313.9 622.3h4.3v4.3h-4.3zM317.1 601.7h4.3v4.3h-4.3zM322.0 636.3h4.3v4.3h-4.3zM313.1 633.4h4.3v4.3h-4.3z" fill="#0B8F4C"/>
<path d="M209.14 577.59V676.88H331.84" stroke="#000" stroke-width="1.25" fill="none"/>
<line x1="204.74" x2="209.14" y1="676.88" y2="676.88" stroke="#000" stroke-width="1.1"/>
<text x="203.34" y="680.73" font-size="10.9" text-anchor="end" font-weight="normal" font-style="normal" fill="#000">0.0</text>
<line x1="204.74" x2="209.14" y1="652.18" y2="652.18" stroke="#000" stroke-width="1.1"/>
<text x="203.34" y="656.03" font-size="10.9" text-anchor="end" font-weight="normal" font-style="normal" fill="#000">0.2</text>
<line x1="204.74" x2="209.14" y1="627.48" y2="627.48" stroke="#000" stroke-width="1.1"/>
<text x="203.34" y="631.33" font-size="10.9" text-anchor="end" font-weight="normal" font-style="normal" fill="#000">0.4</text>
<line x1="204.74" x2="209.14" y1="602.79" y2="602.79" stroke="#000" stroke-width="1.1"/>
<text x="203.34" y="606.64" font-size="10.9" text-anchor="end" font-weight="normal" font-style="normal" fill="#000">0.6</text>
<line x1="204.74" x2="209.14" y1="578.09" y2="578.09" stroke="#000" stroke-width="1.1"/>
<text x="203.34" y="581.94" font-size="10.9" text-anchor="end" font-weight="normal" font-style="normal" fill="#000">0.8</text>
<path d="M221.23 583.94V578.09H241.72V583.94" stroke="#000" stroke-width="1.15" fill="none"/>
<path d="M260.11 583.94V578.09H280.61V583.94" stroke="#000" stroke-width="1.15" fill="none"/>
<path d="M299.00 583.94V578.09H319.49V583.94" stroke="#000" stroke-width="1.15" fill="none"/>
<text x="230.69" y="572.38" font-size="9.25" text-anchor="middle" font-weight="normal" font-style="normal" fill="#000">0.1564</text>
<text x="270.10" y="572.38" font-size="9.25" text-anchor="middle" font-weight="normal" font-style="normal" fill="#000">0.4619</text>
<text x="308.98" y="572.38" font-size="9.25" text-anchor="middle" font-weight="normal" font-style="normal" fill="#000">0.0004</text>
<text x="228.06" y="690.31" font-size="11" text-anchor="middle" font-weight="normal" font-style="normal" fill="#000">7M</text>
<text x="270.10" y="690.31" font-size="11" text-anchor="middle" font-weight="normal" font-style="normal" fill="#000">12M</text>
<text x="311.35" y="690.31" font-size="11" text-anchor="middle" font-weight="normal" font-style="normal" fill="#000">20M</text>
<text x="180.19" y="625.90" font-size="10.7" text-anchor="middle" font-weight="normal" font-style="normal" fill="#000" transform="rotate(-90 180.19 625.90)">T. Ar (mm<tspan dy="-3.5" font-size="6.5">2</tspan><tspan dy="3.5">)</tspan></text>
<text x="172.36" y="562.85" font-size="14.5" text-anchor="start" font-weight="bold" font-style="normal" fill="#000">J</text>
<line x1="84.60" y1="729.32" x2="84.60" y2="830.13" stroke="#000" stroke-width="1.3" stroke-dasharray="2.9 1.1"/>
<line x1="123.23" y1="729.32" x2="123.23" y2="830.13" stroke="#000" stroke-width="1.3" stroke-dasharray="2.9 1.1"/>
<path d="M55.70 739.47V748.67M55.70 768.90V776.26M52.20 739.47h7M52.20 776.26h7" stroke="#000" stroke-width="1" fill="none"/>
<rect x="49.55" y="748.67" width="12.30" height="20.23" fill="#fff" stroke="#000" stroke-width="1"/>
<line x1="49.55" x2="61.85" y1="755.76" y2="755.76" stroke="#000" stroke-width="1"/>
<path d="M55.7 739.5h.01M55.7 776.3h.01M57.3 771.5h.01M58.4 756.1h.01M59.2 755.5h.01M52.5 748.6h.01M59.9 769.0h.01M54.1 768.6h.01M60.5 750.7h.01M55.7 745.0h.01M60.5 769.0h.01M57.3 766.8h.01M58.9 754.5h.01M60.5 745.3h.01M60.4 772.2h.01M60.7 756.2h.01M55.7 753.2h.01M60.5 739.9h.01M50.9 770.3h.01M55.7 763.8h.01M50.9 754.0h.01M57.3 748.2h.01" stroke="#F0922E" stroke-width="4.5" stroke-linecap="round" fill="none"/>
<path d="M75.14 751.82V759.18M75.14 769.69V774.42M71.64 751.82h7M71.64 774.42h7" stroke="#000" stroke-width="1" fill="none"/>
<rect x="68.99" y="759.18" width="12.30" height="10.51" fill="#fff" stroke="#000" stroke-width="1"/>
<line x1="68.99" x2="81.29" y1="764.96" y2="764.96" stroke="#000" stroke-width="1"/>
<path d="M73.0 749.7h4.3v4.3h-4.3zM73.0 772.3h4.3v4.3h-4.3zM73.0 767.6h4.3v4.3h-4.3zM73.0 763.9h4.3v4.3h-4.3zM76.2 762.2h4.3v4.3h-4.3zM74.6 756.5h4.3v4.3h-4.3zM68.2 767.6h4.3v4.3h-4.3zM76.6 763.4h4.3v4.3h-4.3zM73.0 760.3h4.3v4.3h-4.3zM73.0 753.1h4.3v4.3h-4.3zM69.9 767.9h4.3v4.3h-4.3zM72.7 764.1h4.3v4.3h-4.3zM77.8 759.1h4.3v4.3h-4.3zM69.8 757.0h4.3v4.3h-4.3zM71.9 768.7h4.3v4.3h-4.3zM69.8 764.1h4.3v4.3h-4.3zM69.8 761.6h4.3v4.3h-4.3zM68.2 753.9h4.3v4.3h-4.3zM77.9 767.9h4.3v4.3h-4.3zM76.1 765.8h4.3v4.3h-4.3zM70.1 757.5h4.3v4.3h-4.3zM77.8 750.5h4.3v4.3h-4.3z" fill="#0B8F4C"/>
<path d="M94.59 748.14V758.65M94.59 771.53V780.20M91.09 748.14h7M91.09 780.20h7" stroke="#000" stroke-width="1" fill="none"/>
<rect x="88.44" y="758.65" width="12.30" height="12.88" fill="#fff" stroke="#000" stroke-width="1"/>
<line x1="88.44" x2="100.74" y1="763.12" y2="763.12" stroke="#000" stroke-width="1"/>
<path d="M94.6 748.1h.01M94.6 780.2h.01M99.8 773.6h.01M91.4 769.3h.01M91.4 761.5h.01M94.6 755.4h.01M96.2 776.6h.01M94.6 766.6h.01M88.9 762.4h.01M91.4 750.4h.01M97.8 772.7h.01M98.4 763.5h.01M97.8 758.7h.01M93.0 758.4h.01M93.0 774.5h.01M98.3 763.4h.01M96.7 761.4h.01M99.4 755.5h.01M89.8 772.4h.01M94.6 771.3h.01M93.7 762.2h.01M88.9 758.5h.01" stroke="#F0922E" stroke-width="4.5" stroke-linecap="round" fill="none"/>
<path d="M114.03 755.24V763.12M114.03 772.32V778.89M110.53 755.24h7M110.53 778.89h7" stroke="#000" stroke-width="1" fill="none"/>
<rect x="107.88" y="763.12" width="12.30" height="9.20" fill="#fff" stroke="#000" stroke-width="1"/>
<line x1="107.88" x2="120.18" y1="767.85" y2="767.85" stroke="#000" stroke-width="1"/>
<path d="M111.9 753.1h4.3v4.3h-4.3zM111.9 776.7h4.3v4.3h-4.3zM114.1 770.6h4.3v4.3h-4.3zM106.1 769.5h4.3v4.3h-4.3zM113.3 765.0h4.3v4.3h-4.3zM109.7 760.8h4.3v4.3h-4.3zM111.9 772.4h4.3v4.3h-4.3zM107.3 766.6h4.3v4.3h-4.3zM111.9 764.9h4.3v4.3h-4.3zM116.7 759.0h4.3v4.3h-4.3zM112.4 772.3h4.3v4.3h-4.3zM116.7 767.7h4.3v4.3h-4.3zM107.1 763.7h4.3v4.3h-4.3zM111.9 758.6h4.3v4.3h-4.3zM109.2 770.2h4.3v4.3h-4.3zM107.1 769.9h4.3v4.3h-4.3zM116.7 763.7h4.3v4.3h-4.3zM109.9 760.5h4.3v4.3h-4.3zM108.7 773.9h4.3v4.3h-4.3zM111.9 769.1h4.3v4.3h-4.3zM113.5 761.8h4.3v4.3h-4.3zM108.7 760.5h4.3v4.3h-4.3z" fill="#0B8F4C"/>
<path d="M133.47 768.38V774.42M133.47 784.14V794.65M129.97 768.38h7M129.97 794.65h7" stroke="#000" stroke-width="1" fill="none"/>
<rect x="127.32" y="774.42" width="12.30" height="9.72" fill="#fff" stroke="#000" stroke-width="1"/>
<line x1="127.32" x2="139.62" y1="778.89" y2="778.89" stroke="#000" stroke-width="1"/>
<path d="M133.5 768.4h.01M133.5 794.7h.01M136.7 793.3h.01M129.8 779.9h.01M134.5 776.8h.01M128.7 774.3h.01M135.1 786.6h.01M133.5 783.5h.01M133.5 775.8h.01M131.9 771.5h.01M130.3 787.7h.01M133.5 779.0h.01M138.3 778.7h.01M136.7 771.3h.01M133.5 790.9h.01M138.3 783.5h.01M133.3 777.4h.01M138.3 774.4h.01M131.2 787.7h.01M135.8 780.3h.01M130.3 777.3h.01M136.0 771.5h.01" stroke="#F0922E" stroke-width="4.5" stroke-linecap="round" fill="none"/>
<path d="M152.92 756.02V763.12M152.92 782.83V790.71M149.42 756.02h7M149.42 790.71h7" stroke="#000" stroke-width="1" fill="none"/>
<rect x="146.77" y="763.12" width="12.30" height="19.71" fill="#fff" stroke="#000" stroke-width="1"/>
<line x1="146.77" x2="159.07" y1="772.32" y2="772.32" stroke="#000" stroke-width="1"/>
<path d="M150.8 753.9h4.3v4.3h-4.3zM146.0 788.6h4.3v4.3h-4.3zM150.8 784.5h4.3v4.3h-4.3zM150.8 777.8h4.3v4.3h-4.3zM147.6 769.6h4.3v4.3h-4.3zM149.9 760.0h4.3v4.3h-4.3zM154.0 780.7h4.3v4.3h-4.3zM154.0 770.6h4.3v4.3h-4.3zM154.0 765.3h4.3v4.3h-4.3zM155.6 757.8h4.3v4.3h-4.3zM150.8 788.0h4.3v4.3h-4.3zM150.8 772.2h4.3v4.3h-4.3zM150.8 768.1h4.3v4.3h-4.3zM146.4 760.2h4.3v4.3h-4.3zM146.3 780.8h4.3v4.3h-4.3zM151.6 772.3h4.3v4.3h-4.3zM150.8 763.4h4.3v4.3h-4.3zM147.6 759.3h4.3v4.3h-4.3zM147.8 781.8h4.3v4.3h-4.3zM146.0 777.8h4.3v4.3h-4.3zM147.6 765.7h4.3v4.3h-4.3zM150.8 757.4h4.3v4.3h-4.3z" fill="#0B8F4C"/>
<path d="M42.56 731.62V830.13H165.53" stroke="#000" stroke-width="1.25" fill="none"/>
<line x1="38.16" x2="42.56" y1="830.13" y2="830.13" stroke="#000" stroke-width="1.1"/>
<text x="36.76" y="833.98" font-size="10.9" text-anchor="end" font-weight="normal" font-style="normal" fill="#000">0.00</text>
<line x1="38.16" x2="42.56" y1="797.46" y2="797.46" stroke="#000" stroke-width="1.1"/>
<text x="36.76" y="801.31" font-size="10.9" text-anchor="end" font-weight="normal" font-style="normal" fill="#000">0.04</text>
<line x1="38.16" x2="42.56" y1="764.79" y2="764.79" stroke="#000" stroke-width="1.1"/>
<text x="36.76" y="768.64" font-size="10.9" text-anchor="end" font-weight="normal" font-style="normal" fill="#000">0.08</text>
<line x1="38.16" x2="42.56" y1="732.12" y2="732.12" stroke="#000" stroke-width="1.1"/>
<text x="36.76" y="735.97" font-size="10.9" text-anchor="end" font-weight="normal" font-style="normal" fill="#000">0.12</text>
<path d="M55.44 730.36V726.87H75.67V730.36" stroke="#000" stroke-width="1.15" fill="none"/>
<path d="M94.32 730.36V726.87H114.56V730.36" stroke="#000" stroke-width="1.15" fill="none"/>
<path d="M132.95 730.36V726.87H153.44V730.36" stroke="#000" stroke-width="1.15" fill="none"/>
<text x="65.16" y="721.95" font-size="9.25" text-anchor="middle" font-weight="normal" font-style="normal" fill="#000">0.6963</text>
<text x="104.31" y="721.95" font-size="9.25" text-anchor="middle" font-weight="normal" font-style="normal" fill="#000">0.4611</text>
<text x="143.19" y="721.95" font-size="9.25" text-anchor="middle" font-weight="normal" font-style="normal" fill="#000">0.0973</text>
<text x="61.74" y="843.30" font-size="11" text-anchor="middle" font-weight="normal" font-style="normal" fill="#000">7M</text>
<text x="104.05" y="843.30" font-size="11" text-anchor="middle" font-weight="normal" font-style="normal" fill="#000">12M</text>
<text x="145.30" y="843.30" font-size="11" text-anchor="middle" font-weight="normal" font-style="normal" fill="#000">20M</text>
<text x="9.41" y="780.72" font-size="10.7" text-anchor="middle" font-weight="normal" font-style="normal" fill="#000" transform="rotate(-90 9.41 780.72)">Cs.Th (mm)</text>
<text x="3.15" y="712.42" font-size="14.5" text-anchor="start" font-weight="bold" font-style="normal" fill="#000">K</text>
<line x1="250.65" y1="729.32" x2="250.65" y2="830.13" stroke="#000" stroke-width="1.3" stroke-dasharray="2.9 1.1"/>
<line x1="289.28" y1="729.32" x2="289.28" y2="830.13" stroke="#000" stroke-width="1.3" stroke-dasharray="2.9 1.1"/>
<path d="M221.49 747.88V753.40M221.49 763.12V765.75M217.99 747.88h7M217.99 765.75h7" stroke="#000" stroke-width="1" fill="none"/>
<rect x="215.34" y="753.40" width="12.30" height="9.72" fill="#fff" stroke="#000" stroke-width="1"/>
<line x1="215.34" x2="227.64" y1="757.86" y2="757.86" stroke="#000" stroke-width="1"/>
<path d="M221.5 747.9h.01M220.0 765.7h.01M224.7 763.1h.01M221.5 761.1h.01M219.9 756.8h.01M223.1 751.2h.01M221.5 764.7h.01M224.7 758.7h.01M223.1 755.4h.01M219.9 752.6h.01M218.9 764.8h.01M218.3 762.6h.01" stroke="#F0922E" stroke-width="4.5" stroke-linecap="round" fill="none"/>
<path d="M241.20 756.55V758.65M241.20 763.91V766.54M237.70 756.55h7M237.70 766.54h7" stroke="#000" stroke-width="1" fill="none"/>
<rect x="235.05" y="758.65" width="12.30" height="5.26" fill="#fff" stroke="#000" stroke-width="1"/>
<line x1="235.05" x2="247.35" y1="761.28" y2="761.28" stroke="#000" stroke-width="1"/>
<path d="M239.0 754.4h4.3v4.3h-4.3zM240.8 764.4h4.3v4.3h-4.3zM240.6 762.8h4.3v4.3h-4.3zM242.2 760.3h4.3v4.3h-4.3zM239.0 758.4h4.3v4.3h-4.3zM235.8 756.5h4.3v4.3h-4.3zM236.3 764.2h4.3v4.3h-4.3zM242.0 760.8h4.3v4.3h-4.3zM238.6 758.8h4.3v4.3h-4.3zM242.2 755.6h4.3v4.3h-4.3zM239.0 762.5h4.3v4.3h-4.3zM235.8 760.9h4.3v4.3h-4.3z" fill="#0B8F4C"/>
<path d="M260.38 759.18V762.33M260.38 766.27V767.85M256.88 759.18h7M256.88 767.85h7" stroke="#000" stroke-width="1" fill="none"/>
<rect x="254.23" y="762.33" width="12.30" height="3.94" fill="#fff" stroke="#000" stroke-width="1"/>
<line x1="254.23" x2="266.53" y1="764.43" y2="764.43" stroke="#000" stroke-width="1"/>
<path d="M260.4 759.2h.01M263.9 767.8h.01M263.3 766.4h.01M257.2 765.1h.01M263.3 764.1h.01M257.2 761.1h.01M258.3 766.3h.01M264.6 765.3h.01M260.4 763.8h.01M263.6 761.4h.01M264.3 766.3h.01M256.8 765.4h.01" stroke="#F0922E" stroke-width="4.5" stroke-linecap="round" fill="none"/>
<path d="M280.08 759.70V762.33M280.08 767.85V771.00M276.58 759.70h7M276.58 771.00h7" stroke="#000" stroke-width="1" fill="none"/>
<rect x="273.93" y="762.33" width="12.30" height="5.52" fill="#fff" stroke="#000" stroke-width="1"/>
<line x1="273.93" x2="286.23" y1="764.96" y2="764.96" stroke="#000" stroke-width="1"/>
<path d="M277.9 757.6h4.3v4.3h-4.3zM282.0 768.9h4.3v4.3h-4.3zM279.7 766.3h4.3v4.3h-4.3zM274.7 763.3h4.3v4.3h-4.3zM277.4 761.0h4.3v4.3h-4.3zM281.1 759.4h4.3v4.3h-4.3zM276.3 768.0h4.3v4.3h-4.3zM274.3 765.1h4.3v4.3h-4.3zM281.6 760.4h4.3v4.3h-4.3zM274.7 759.9h4.3v4.3h-4.3zM278.9 765.7h4.3v4.3h-4.3zM277.9 764.7h4.3v4.3h-4.3z" fill="#0B8F4C"/>
<path d="M299.52 753.92V770.48M299.52 776.26V779.67M296.02 753.92h7M296.02 779.67h7" stroke="#000" stroke-width="1" fill="none"/>
<rect x="293.37" y="770.48" width="12.30" height="5.78" fill="#fff" stroke="#000" stroke-width="1"/>
<line x1="293.37" x2="305.67" y1="773.63" y2="773.63" stroke="#000" stroke-width="1"/>
<path d="M299.5 753.9h.01M297.0 779.7h.01M298.2 776.5h.01M296.3 774.3h.01M302.7 771.0h.01M299.5 769.5h.01M297.5 777.9h.01M302.7 775.2h.01M299.5 772.9h.01M298.2 769.7h.01M301.1 779.4h.01M302.1 775.3h.01" stroke="#F0922E" stroke-width="4.5" stroke-linecap="round" fill="none"/>
<path d="M319.23 765.22V768.38M319.23 774.94V776.78M315.73 765.22h7M315.73 776.78h7" stroke="#000" stroke-width="1" fill="none"/>
<rect x="313.08" y="768.38" width="12.30" height="6.57" fill="#fff" stroke="#000" stroke-width="1"/>
<line x1="313.08" x2="325.38" y1="771.53" y2="771.53" stroke="#000" stroke-width="1"/>
<path d="M317.1 763.1h4.3v4.3h-4.3zM319.5 774.6h4.3v4.3h-4.3zM320.1 773.1h4.3v4.3h-4.3zM317.8 772.8h4.3v4.3h-4.3zM314.3 766.9h4.3v4.3h-4.3zM320.3 766.0h4.3v4.3h-4.3zM313.9 774.1h4.3v4.3h-4.3zM315.5 770.9h4.3v4.3h-4.3zM317.2 767.5h4.3v4.3h-4.3zM313.9 765.0h4.3v4.3h-4.3zM317.4 772.8h4.3v4.3h-4.3zM320.3 770.1h4.3v4.3h-4.3z" fill="#0B8F4C"/>
<path d="M209.14 731.62V830.13H331.84" stroke="#000" stroke-width="1.25" fill="none"/>
<line x1="204.74" x2="209.14" y1="830.13" y2="830.13" stroke="#000" stroke-width="1.1"/>
<text x="203.34" y="833.98" font-size="10.9" text-anchor="end" font-weight="normal" font-style="normal" fill="#000">0.0</text>
<line x1="204.74" x2="209.14" y1="797.46" y2="797.46" stroke="#000" stroke-width="1.1"/>
<text x="203.34" y="801.31" font-size="10.9" text-anchor="end" font-weight="normal" font-style="normal" fill="#000">0.4</text>
<line x1="204.74" x2="209.14" y1="764.79" y2="764.79" stroke="#000" stroke-width="1.1"/>
<text x="203.34" y="768.64" font-size="10.9" text-anchor="end" font-weight="normal" font-style="normal" fill="#000">0.8</text>
<line x1="204.74" x2="209.14" y1="732.12" y2="732.12" stroke="#000" stroke-width="1.1"/>
<text x="203.34" y="735.97" font-size="10.9" text-anchor="end" font-weight="normal" font-style="normal" fill="#000">1.2</text>
<path d="M221.23 734.30V729.50H241.72V734.30" stroke="#000" stroke-width="1.15" fill="none"/>
<path d="M259.59 734.30V729.50H279.29V734.30" stroke="#000" stroke-width="1.15" fill="none"/>
<path d="M299.00 734.30V729.50H319.49V734.30" stroke="#000" stroke-width="1.15" fill="none"/>
<text x="230.69" y="723.79" font-size="9.25" text-anchor="middle" font-weight="normal" font-style="normal" fill="#000">0.7823</text>
<text x="269.31" y="723.79" font-size="9.25" text-anchor="middle" font-weight="normal" font-style="normal" fill="#000">&gt;0.99</text>
<text x="308.98" y="723.79" font-size="9.25" text-anchor="middle" font-weight="normal" font-style="normal" fill="#000">&gt;0.99</text>
<text x="228.06" y="843.30" font-size="11" text-anchor="middle" font-weight="normal" font-style="normal" fill="#000">7M</text>
<text x="270.10" y="843.30" font-size="11" text-anchor="middle" font-weight="normal" font-style="normal" fill="#000">12M</text>
<text x="311.35" y="843.30" font-size="11" text-anchor="middle" font-weight="normal" font-style="normal" fill="#000">20M</text>
<text x="180.98" y="778.09" font-size="10.7" text-anchor="middle" font-weight="normal" font-style="normal" fill="#000" transform="rotate(-90 180.98 778.09)">TMD (g/cm<tspan dy="-3.5" font-size="6.5">2</tspan><tspan dy="3.5">)</tspan></text>
<text x="172.36" y="712.42" font-size="14.5" text-anchor="start" font-weight="bold" font-style="normal" fill="#000">L</text>
<line x1="419.87" y1="576.60" x2="419.87" y2="677.93" stroke="#000" stroke-width="1.3" stroke-dasharray="2.9 1.1"/>
<line x1="459.01" y1="576.60" x2="459.01" y2="677.93" stroke="#000" stroke-width="1.3" stroke-dasharray="2.9 1.1"/>
<path d="M390.96 603.84V608.83M390.96 614.35V617.50M387.46 603.84h7M387.46 617.50h7" stroke="#000" stroke-width="1" fill="none"/>
<rect x="384.81" y="608.83" width="12.30" height="5.52" fill="#fff" stroke="#000" stroke-width="1"/>
<line x1="384.81" x2="397.11" y1="611.46" y2="611.46" stroke="#000" stroke-width="1"/>
<path d="M391.0 603.8h.01M392.4 617.5h.01M386.5 615.4h.01M390.1 612.8h.01M389.2 610.9h.01M387.8 605.8h.01M389.8 614.6h.01M393.4 612.2h.01M390.2 610.9h.01M390.6 607.2h.01M389.1 615.7h.01M390.6 613.3h.01M388.3 610.2h.01M386.4 608.8h.01M394.1 615.7h.01M388.0 612.3h.01M391.1 611.1h.01M393.0 607.3h.01M388.2 616.0h.01M391.5 614.1h.01M392.8 609.3h.01M394.2 605.0h.01" stroke="#F0922E" stroke-width="4.5" stroke-linecap="round" fill="none"/>
<path d="M410.67 609.62V612.24M410.67 616.71V624.07M407.17 609.62h7M407.17 624.07h7" stroke="#000" stroke-width="1" fill="none"/>
<rect x="404.52" y="612.24" width="12.30" height="4.47" fill="#fff" stroke="#000" stroke-width="1"/>
<line x1="404.52" x2="416.82" y1="614.35" y2="614.35" stroke="#000" stroke-width="1"/>
<path d="M408.5 607.5h4.3v4.3h-4.3zM405.3 621.9h4.3v4.3h-4.3zM405.3 614.6h4.3v4.3h-4.3zM412.4 613.5h4.3v4.3h-4.3zM412.6 611.5h4.3v4.3h-4.3zM412.8 609.2h4.3v4.3h-4.3zM406.2 615.4h4.3v4.3h-4.3zM405.1 614.3h4.3v4.3h-4.3zM408.1 610.8h4.3v4.3h-4.3zM411.6 609.9h4.3v4.3h-4.3zM408.5 619.2h4.3v4.3h-4.3zM410.5 613.8h4.3v4.3h-4.3zM408.0 611.0h4.3v4.3h-4.3zM407.4 608.4h4.3v4.3h-4.3zM405.2 614.7h4.3v4.3h-4.3zM408.0 612.8h4.3v4.3h-4.3zM409.1 612.1h4.3v4.3h-4.3zM408.7 607.8h4.3v4.3h-4.3zM404.8 614.6h4.3v4.3h-4.3zM409.3 612.8h4.3v4.3h-4.3zM405.3 611.4h4.3v4.3h-4.3zM406.5 610.0h4.3v4.3h-4.3z" fill="#0B8F4C"/>
<path d="M430.11 599.11V603.05M430.11 608.83V613.03M426.61 599.11h7M426.61 613.03h7" stroke="#000" stroke-width="1" fill="none"/>
<rect x="423.96" y="603.05" width="12.30" height="5.78" fill="#fff" stroke="#000" stroke-width="1"/>
<line x1="423.96" x2="436.26" y1="605.68" y2="605.68" stroke="#000" stroke-width="1"/>
<path d="M430.1 599.1h.01M430.1 613.0h.01M430.8 608.9h.01M431.6 605.9h.01M431.5 604.6h.01M426.9 601.6h.01M434.1 612.0h.01M432.3 608.5h.01M429.8 605.5h.01M433.3 601.2h.01M427.7 610.3h.01M431.5 606.6h.01M427.9 604.9h.01M434.5 602.1h.01M434.2 609.0h.01M427.3 607.5h.01M426.2 604.9h.01M429.3 601.7h.01M434.6 609.2h.01M429.4 608.0h.01M431.1 604.0h.01M434.2 603.0h.01" stroke="#F0922E" stroke-width="4.5" stroke-linecap="round" fill="none"/>
<path d="M449.56 603.05V606.99M449.56 612.24V614.87M446.06 603.05h7M446.06 614.87h7" stroke="#000" stroke-width="1" fill="none"/>
<rect x="443.41" y="606.99" width="12.30" height="5.25" fill="#fff" stroke="#000" stroke-width="1"/>
<line x1="443.41" x2="455.71" y1="609.62" y2="609.62" stroke="#000" stroke-width="1"/>
<path d="M447.4 600.9h4.3v4.3h-4.3zM448.5 612.7h4.3v4.3h-4.3zM445.9 610.3h4.3v4.3h-4.3zM445.3 608.0h4.3v4.3h-4.3zM451.9 606.2h4.3v4.3h-4.3zM451.6 604.5h4.3v4.3h-4.3zM448.7 610.5h4.3v4.3h-4.3zM450.3 608.0h4.3v4.3h-4.3zM445.4 605.3h4.3v4.3h-4.3zM442.9 602.0h4.3v4.3h-4.3zM450.0 611.3h4.3v4.3h-4.3zM450.3 609.6h4.3v4.3h-4.3zM450.6 607.1h4.3v4.3h-4.3zM450.6 603.6h4.3v4.3h-4.3zM451.3 610.2h4.3v4.3h-4.3zM449.3 609.2h4.3v4.3h-4.3zM450.3 607.2h4.3v4.3h-4.3zM443.0 604.7h4.3v4.3h-4.3zM449.8 611.4h4.3v4.3h-4.3zM448.6 609.5h4.3v4.3h-4.3zM448.2 605.2h4.3v4.3h-4.3zM445.8 604.4h4.3v4.3h-4.3z" fill="#0B8F4C"/>
<path d="M469.00 600.42V604.89M469.00 610.41V615.66M465.50 600.42h7M465.50 615.66h7" stroke="#000" stroke-width="1" fill="none"/>
<rect x="462.85" y="604.89" width="12.30" height="5.52" fill="#fff" stroke="#000" stroke-width="1"/>
<line x1="462.85" x2="475.15" y1="607.52" y2="607.52" stroke="#000" stroke-width="1"/>
<path d="M469.0 600.4h.01M467.5 615.7h.01M465.8 613.8h.01M472.2 609.7h.01M468.3 605.7h.01M471.6 601.3h.01M472.9 610.5h.01M473.5 610.0h.01M473.3 606.2h.01M469.0 604.4h.01M472.2 615.1h.01M469.4 607.5h.01M469.7 606.3h.01M465.8 602.1h.01M469.0 612.5h.01M465.5 609.9h.01M464.5 605.0h.01M473.6 604.8h.01M472.5 610.4h.01M468.1 609.1h.01M466.8 607.5h.01M469.0 603.9h.01" stroke="#F0922E" stroke-width="4.5" stroke-linecap="round" fill="none"/>
<path d="M488.44 600.42V606.46M488.44 612.77V616.71M484.94 600.42h7M484.94 616.71h7" stroke="#000" stroke-width="1" fill="none"/>
<rect x="482.29" y="606.46" width="12.30" height="6.31" fill="#fff" stroke="#000" stroke-width="1"/>
<line x1="482.29" x2="494.59" y1="609.62" y2="609.62" stroke="#000" stroke-width="1"/>
<path d="M486.3 598.3h4.3v4.3h-4.3zM490.8 614.6h4.3v4.3h-4.3zM483.1 611.8h4.3v4.3h-4.3zM482.3 607.7h4.3v4.3h-4.3zM487.9 605.7h4.3v4.3h-4.3zM489.1 599.3h4.3v4.3h-4.3zM482.6 611.9h4.3v4.3h-4.3zM485.3 607.5h4.3v4.3h-4.3zM490.3 607.4h4.3v4.3h-4.3zM490.4 603.0h4.3v4.3h-4.3zM481.7 611.8h4.3v4.3h-4.3zM482.9 608.3h4.3v4.3h-4.3zM484.7 604.4h4.3v4.3h-4.3zM487.1 602.0h4.3v4.3h-4.3zM489.2 611.5h4.3v4.3h-4.3zM487.0 608.6h4.3v4.3h-4.3zM486.8 605.8h4.3v4.3h-4.3zM486.6 601.3h4.3v4.3h-4.3zM486.3 614.2h4.3v4.3h-4.3zM486.4 610.6h4.3v4.3h-4.3zM481.9 606.5h4.3v4.3h-4.3zM483.1 599.7h4.3v4.3h-4.3z" fill="#0B8F4C"/>
<path d="M378.35 578.90V677.93H501.05" stroke="#000" stroke-width="1.25" fill="none"/>
<line x1="373.95" x2="378.35" y1="677.93" y2="677.93" stroke="#000" stroke-width="1.1"/>
<text x="372.55" y="681.78" font-size="10.9" text-anchor="end" font-weight="normal" font-style="normal" fill="#000">0</text>
<line x1="373.95" x2="378.35" y1="658.22" y2="658.22" stroke="#000" stroke-width="1.1"/>
<text x="372.55" y="662.07" font-size="10.9" text-anchor="end" font-weight="normal" font-style="normal" fill="#000">1</text>
<line x1="373.95" x2="378.35" y1="638.52" y2="638.52" stroke="#000" stroke-width="1.1"/>
<text x="372.55" y="642.37" font-size="10.9" text-anchor="end" font-weight="normal" font-style="normal" fill="#000">2</text>
<line x1="373.95" x2="378.35" y1="618.81" y2="618.81" stroke="#000" stroke-width="1.1"/>
<text x="372.55" y="622.66" font-size="10.9" text-anchor="end" font-weight="normal" font-style="normal" fill="#000">3</text>
<line x1="373.95" x2="378.35" y1="599.11" y2="599.11" stroke="#000" stroke-width="1.1"/>
<text x="372.55" y="602.96" font-size="10.9" text-anchor="end" font-weight="normal" font-style="normal" fill="#000">4</text>
<line x1="373.95" x2="378.35" y1="579.40" y2="579.40" stroke="#000" stroke-width="1.1"/>
<text x="372.55" y="583.25" font-size="10.9" text-anchor="end" font-weight="normal" font-style="normal" fill="#000">5</text>
<path d="M389.65 580.00V574.15H412.51V580.00" stroke="#000" stroke-width="1.15" fill="none"/>
<path d="M429.59 580.00V574.15H452.45V580.00" stroke="#000" stroke-width="1.15" fill="none"/>
<path d="M469.00 580.00V574.15H492.12V580.00" stroke="#000" stroke-width="1.15" fill="none"/>
<text x="400.16" y="569.08" font-size="10.3" text-anchor="middle" font-weight="normal" font-style="normal" fill="#000">&lt;0.0001</text>
<text x="441.41" y="569.08" font-size="10.3" text-anchor="middle" font-weight="normal" font-style="normal" fill="#000">0.0004</text>
<text x="481.61" y="569.08" font-size="10.3" text-anchor="middle" font-weight="normal" font-style="normal" fill="#000">0.0711</text>
<text x="400.69" y="691.63" font-size="11" text-anchor="middle" font-weight="normal" font-style="normal" fill="#000">7M</text>
<text x="440.10" y="691.63" font-size="11" text-anchor="middle" font-weight="normal" font-style="normal" fill="#000">12M</text>
<text x="480.03" y="690.31" font-size="11" text-anchor="middle" font-weight="normal" font-style="normal" fill="#000">20M</text>
<text x="361.75" y="625.90" font-size="10.7" text-anchor="middle" font-weight="normal" font-style="normal" fill="#000" transform="rotate(-90 361.75 625.90)">Vertebral Height&#160; (mm)</text>
<text x="346.04" y="562.32" font-size="14.5" text-anchor="start" font-weight="bold" font-style="normal" fill="#000">N</text>
<line x1="586.71" y1="575.29" x2="586.71" y2="676.88" stroke="#000" stroke-width="1.3" stroke-dasharray="2.9 1.1"/>
<line x1="625.33" y1="575.29" x2="625.33" y2="676.88" stroke="#000" stroke-width="1.3" stroke-dasharray="2.9 1.1"/>
<path d="M556.49 615.64V622.74M556.49 632.46V642.45M552.99 615.64h7M552.99 642.45h7" stroke="#000" stroke-width="1" fill="none"/>
<rect x="550.34" y="622.74" width="12.30" height="9.72" fill="#fff" stroke="#000" stroke-width="1"/>
<line x1="550.34" x2="562.64" y1="627.21" y2="627.21" stroke="#000" stroke-width="1"/>
<path d="M556.5 615.6h.01M556.5 642.5h.01M558.1 633.5h.01M557.3 628.1h.01M554.6 623.1h.01M558.1 622.0h.01M561.3 637.1h.01M551.7 628.9h.01M559.8 623.4h.01M551.7 620.5h.01M551.7 633.2h.01M554.9 631.1h.01M551.7 624.8h.01M560.8 622.6h.01M553.3 639.8h.01M556.5 627.8h.01M560.7 626.1h.01M554.9 619.3h.01M556.5 637.0h.01M559.7 631.8h.01M555.2 623.7h.01M559.7 618.6h.01" stroke="#F0922E" stroke-width="4.5" stroke-linecap="round" fill="none"/>
<path d="M576.20 613.54V624.05M576.20 632.73V641.66M572.70 613.54h7M572.70 641.66h7" stroke="#000" stroke-width="1" fill="none"/>
<rect x="570.05" y="624.05" width="12.30" height="8.67" fill="#fff" stroke="#000" stroke-width="1"/>
<line x1="570.05" x2="582.35" y1="628.00" y2="628.00" stroke="#000" stroke-width="1"/>
<path d="M574.0 611.4h4.3v4.3h-4.3zM574.4 639.5h4.3v4.3h-4.3zM577.2 638.9h4.3v4.3h-4.3zM578.8 629.9h4.3v4.3h-4.3zM574.0 622.2h4.3v4.3h-4.3zM572.4 617.6h4.3v4.3h-4.3zM569.2 637.4h4.3v4.3h-4.3zM575.6 628.6h4.3v4.3h-4.3zM574.5 621.9h4.3v4.3h-4.3zM578.8 621.9h4.3v4.3h-4.3zM574.0 637.0h4.3v4.3h-4.3zM570.8 626.7h4.3v4.3h-4.3zM573.4 624.4h4.3v4.3h-4.3zM575.6 614.7h4.3v4.3h-4.3zM570.4 631.0h4.3v4.3h-4.3zM569.0 627.0h4.3v4.3h-4.3zM577.3 624.0h4.3v4.3h-4.3zM575.6 620.1h4.3v4.3h-4.3zM572.4 630.9h4.3v4.3h-4.3zM572.7 626.8h4.3v4.3h-4.3zM570.6 623.0h4.3v4.3h-4.3zM572.4 621.8h4.3v4.3h-4.3z" fill="#0B8F4C"/>
<path d="M595.64 615.38V620.90M595.64 628.78V634.57M592.14 615.38h7M592.14 634.57h7" stroke="#000" stroke-width="1" fill="none"/>
<rect x="589.49" y="620.90" width="12.30" height="7.88" fill="#fff" stroke="#000" stroke-width="1"/>
<line x1="589.49" x2="601.79" y1="625.37" y2="625.37" stroke="#000" stroke-width="1"/>
<path d="M595.6 615.4h.01M597.2 634.6h.01M594.0 631.1h.01M598.5 628.4h.01M593.8 623.9h.01M590.8 620.6h.01M592.7 632.9h.01M600.9 628.7h.01M594.0 623.4h.01M598.8 616.7h.01M591.2 632.3h.01M600.4 626.3h.01M596.5 624.0h.01M600.4 620.6h.01M600.3 631.7h.01M595.6 627.8h.01M597.6 622.1h.01M595.6 620.2h.01M590.0 632.1h.01M590.8 626.8h.01M598.7 621.7h.01M590.8 615.5h.01" stroke="#F0922E" stroke-width="4.5" stroke-linecap="round" fill="none"/>
<path d="M615.08 607.76V616.17M615.08 626.68V645.60M611.58 607.76h7M611.58 645.60h7" stroke="#000" stroke-width="1" fill="none"/>
<rect x="608.93" y="616.17" width="12.30" height="10.51" fill="#fff" stroke="#000" stroke-width="1"/>
<line x1="608.93" x2="621.23" y1="620.11" y2="620.11" stroke="#000" stroke-width="1"/>
<path d="M612.9 605.6h4.3v4.3h-4.3zM616.1 643.5h4.3v4.3h-4.3zM614.5 629.8h4.3v4.3h-4.3zM607.6 619.4h4.3v4.3h-4.3zM617.5 615.1h4.3v4.3h-4.3zM609.7 613.0h4.3v4.3h-4.3zM612.9 640.5h4.3v4.3h-4.3zM616.1 619.3h4.3v4.3h-4.3zM608.5 615.7h4.3v4.3h-4.3zM616.1 612.1h4.3v4.3h-4.3zM612.9 626.6h4.3v4.3h-4.3zM617.7 623.7h4.3v4.3h-4.3zM611.7 614.5h4.3v4.3h-4.3zM612.9 610.9h4.3v4.3h-4.3zM609.7 624.7h4.3v4.3h-4.3zM611.3 618.5h4.3v4.3h-4.3zM612.9 614.5h4.3v4.3h-4.3zM617.1 614.0h4.3v4.3h-4.3zM612.9 633.8h4.3v4.3h-4.3zM612.9 623.0h4.3v4.3h-4.3zM614.1 615.9h4.3v4.3h-4.3zM609.7 608.2h4.3v4.3h-4.3z" fill="#0B8F4C"/>
<path d="M634.52 597.77V609.60M634.52 615.38V620.90M631.02 597.77h7M631.02 620.90h7" stroke="#000" stroke-width="1" fill="none"/>
<rect x="628.37" y="609.60" width="12.30" height="5.78" fill="#fff" stroke="#000" stroke-width="1"/>
<line x1="628.37" x2="640.67" y1="612.23" y2="612.23" stroke="#000" stroke-width="1"/>
<path d="M634.5 597.8h.01M633.3 620.9h.01M639.3 619.0h.01M632.7 614.5h.01M637.5 612.2h.01M631.3 599.5h.01M636.3 615.8h.01M639.3 615.3h.01M630.2 611.9h.01M639.3 597.9h.01M631.3 618.4h.01M630.1 614.7h.01M629.7 611.8h.01M630.2 600.1h.01M635.4 617.8h.01M635.2 613.5h.01M634.3 611.9h.01M634.5 607.6h.01M640.0 620.3h.01M634.7 615.4h.01M634.5 611.1h.01M637.7 609.6h.01" stroke="#F0922E" stroke-width="4.5" stroke-linecap="round" fill="none"/>
<path d="M653.97 605.66V609.60M653.97 616.70V629.31M650.47 605.66h7M650.47 629.31h7" stroke="#000" stroke-width="1" fill="none"/>
<rect x="647.82" y="609.60" width="12.30" height="7.10" fill="#fff" stroke="#000" stroke-width="1"/>
<line x1="647.82" x2="660.12" y1="613.54" y2="613.54" stroke="#000" stroke-width="1"/>
<path d="M651.8 603.5h4.3v4.3h-4.3zM651.8 627.2h4.3v4.3h-4.3zM651.8 617.1h4.3v4.3h-4.3zM652.5 612.7h4.3v4.3h-4.3zM655.5 609.9h4.3v4.3h-4.3zM656.4 607.2h4.3v4.3h-4.3zM647.9 614.5h4.3v4.3h-4.3zM653.4 611.8h4.3v4.3h-4.3zM654.5 607.7h4.3v4.3h-4.3zM651.8 607.1h4.3v4.3h-4.3zM656.6 617.3h4.3v4.3h-4.3zM652.8 613.5h4.3v4.3h-4.3zM651.8 611.2h4.3v4.3h-4.3zM647.0 604.3h4.3v4.3h-4.3zM656.6 623.4h4.3v4.3h-4.3zM656.6 613.8h4.3v4.3h-4.3zM657.0 610.4h4.3v4.3h-4.3zM655.0 605.5h4.3v4.3h-4.3zM651.8 622.6h4.3v4.3h-4.3zM647.0 613.1h4.3v4.3h-4.3zM648.6 609.9h4.3v4.3h-4.3zM652.8 607.2h4.3v4.3h-4.3z" fill="#0B8F4C"/>
<path d="M544.14 577.59V676.88H666.84" stroke="#000" stroke-width="1.25" fill="none"/>
<line x1="539.74" x2="544.14" y1="676.88" y2="676.88" stroke="#000" stroke-width="1.1"/>
<text x="538.34" y="680.73" font-size="10.9" text-anchor="end" font-weight="normal" font-style="normal" fill="#000">0.0</text>
<line x1="539.74" x2="544.14" y1="643.95" y2="643.95" stroke="#000" stroke-width="1.1"/>
<text x="538.34" y="647.80" font-size="10.9" text-anchor="end" font-weight="normal" font-style="normal" fill="#000">0.2</text>
<line x1="539.74" x2="544.14" y1="611.02" y2="611.02" stroke="#000" stroke-width="1.1"/>
<text x="538.34" y="614.87" font-size="10.9" text-anchor="end" font-weight="normal" font-style="normal" fill="#000">0.4</text>
<line x1="539.74" x2="544.14" y1="578.09" y2="578.09" stroke="#000" stroke-width="1.1"/>
<text x="538.34" y="581.94" font-size="10.9" text-anchor="end" font-weight="normal" font-style="normal" fill="#000">0.6</text>
<path d="M556.23 578.69V573.36H579.35V578.69" stroke="#000" stroke-width="1.15" fill="none"/>
<path d="M596.43 578.69V573.36H619.55V578.69" stroke="#000" stroke-width="1.15" fill="none"/>
<path d="M634.00 578.69V573.36H657.12V578.69" stroke="#000" stroke-width="1.15" fill="none"/>
<text x="567.52" y="569.34" font-size="10.6" text-anchor="middle" font-weight="normal" font-style="normal" fill="#000">ns</text>
<text x="606.41" y="569.34" font-size="10.6" text-anchor="middle" font-weight="normal" font-style="normal" fill="#000">ns</text>
<text x="643.98" y="570.13" font-size="10.6" text-anchor="middle" font-weight="normal" font-style="normal" fill="#000">ns</text>
<text x="567.00" y="690.31" font-size="11" text-anchor="middle" font-weight="normal" font-style="normal" fill="#000">7M</text>
<text x="606.41" y="690.31" font-size="11" text-anchor="middle" font-weight="normal" font-style="normal" fill="#000">12M</text>
<text x="645.03" y="689.00" font-size="11" text-anchor="middle" font-weight="normal" font-style="normal" fill="#000">20M</text>
<text x="518.60" y="624.58" font-size="10.7" text-anchor="middle" font-weight="normal" font-style="normal" fill="#000" transform="rotate(-90 518.60 624.58)">Disc Height (mm)</text>
<text x="509.20" y="562.85" font-size="14.5" text-anchor="start" font-weight="bold" font-style="normal" fill="#000">O</text>
<line x1="423.54" y1="730.11" x2="423.54" y2="831.18" stroke="#000" stroke-width="1.3" stroke-dasharray="2.9 1.1"/>
<line x1="462.43" y1="730.11" x2="462.43" y2="831.18" stroke="#000" stroke-width="1.3" stroke-dasharray="2.9 1.1"/>
<path d="M394.12 766.27V769.69M394.12 779.41V789.40M390.62 766.27h7M390.62 789.40h7" stroke="#000" stroke-width="1" fill="none"/>
<rect x="387.97" y="769.69" width="12.30" height="9.72" fill="#fff" stroke="#000" stroke-width="1"/>
<line x1="387.97" x2="400.27" y1="774.42" y2="774.42" stroke="#000" stroke-width="1"/>
<path d="M394.1 766.3h.01M394.1 789.4h.01M391.1 782.2h.01M394.1 776.0h.01M398.9 772.6h.01M395.7 769.4h.01M395.7 779.6h.01M389.3 775.0h.01M392.3 772.7h.01M390.9 768.0h.01M398.9 781.5h.01M389.3 776.8h.01M398.2 773.4h.01M396.4 769.6h.01M390.9 780.5h.01M395.8 776.0h.01M392.5 771.8h.01M388.8 769.7h.01M394.1 784.5h.01M392.4 777.2h.01" stroke="#F0922E" stroke-width="4.5" stroke-linecap="round" fill="none"/>
<path d="M413.30 752.61V763.12M413.30 778.88V785.98M409.80 752.61h7M409.80 785.98h7" stroke="#000" stroke-width="1" fill="none"/>
<rect x="407.15" y="763.12" width="12.30" height="15.77" fill="#fff" stroke="#000" stroke-width="1"/>
<line x1="407.15" x2="419.45" y1="774.94" y2="774.94" stroke="#000" stroke-width="1"/>
<path d="M411.1 750.5h4.3v4.3h-4.3zM411.1 783.8h4.3v4.3h-4.3zM407.9 776.7h4.3v4.3h-4.3zM406.3 773.5h4.3v4.3h-4.3zM411.1 772.6h4.3v4.3h-4.3zM411.1 759.9h4.3v4.3h-4.3zM415.6 776.9h4.3v4.3h-4.3zM411.3 774.4h4.3v4.3h-4.3zM408.3 763.5h4.3v4.3h-4.3zM415.9 760.8h4.3v4.3h-4.3zM407.6 777.3h4.3v4.3h-4.3zM415.9 773.4h4.3v4.3h-4.3zM412.7 764.6h4.3v4.3h-4.3zM411.6 760.8h4.3v4.3h-4.3zM410.1 780.1h4.3v4.3h-4.3zM410.7 773.6h4.3v4.3h-4.3zM411.1 768.0h4.3v4.3h-4.3zM406.3 760.7h4.3v4.3h-4.3zM411.1 779.8h4.3v4.3h-4.3zM413.4 775.5h4.3v4.3h-4.3z" fill="#0B8F4C"/>
<path d="M433.00 767.59V771.79M433.00 780.20V784.67M429.50 767.59h7M429.50 784.67h7" stroke="#000" stroke-width="1" fill="none"/>
<rect x="426.85" y="771.79" width="12.30" height="8.41" fill="#fff" stroke="#000" stroke-width="1"/>
<line x1="426.85" x2="439.15" y1="774.94" y2="774.94" stroke="#000" stroke-width="1"/>
<path d="M433.0 767.6h.01M429.8 784.7h.01M436.9 780.2h.01M434.6 779.5h.01M438.7 772.8h.01M429.8 770.1h.01M433.0 783.1h.01M432.4 776.6h.01M435.5 772.0h.01M433.3 771.8h.01M431.2 780.2h.01M429.8 779.0h.01M431.1 772.5h.01M435.1 771.7h.01M427.5 781.5h.01M433.0 776.1h.01M428.2 774.5h.01M434.6 770.6h.01M437.8 783.8h.01M437.8 776.3h.01" stroke="#F0922E" stroke-width="4.5" stroke-linecap="round" fill="none"/>
<path d="M452.45 749.98V761.80M452.45 770.48V772.32M448.95 749.98h7M448.95 772.32h7" stroke="#000" stroke-width="1" fill="none"/>
<rect x="446.30" y="761.80" width="12.30" height="8.67" fill="#fff" stroke="#000" stroke-width="1"/>
<line x1="446.30" x2="458.60" y1="765.75" y2="765.75" stroke="#000" stroke-width="1"/>
<path d="M450.3 747.8h4.3v4.3h-4.3zM451.0 770.2h4.3v4.3h-4.3zM453.7 769.2h4.3v4.3h-4.3zM449.3 764.9h4.3v4.3h-4.3zM453.5 761.7h4.3v4.3h-4.3zM453.5 757.1h4.3v4.3h-4.3zM445.4 768.5h4.3v4.3h-4.3zM447.1 768.1h4.3v4.3h-4.3zM455.6 761.8h4.3v4.3h-4.3zM450.3 755.2h4.3v4.3h-4.3zM455.1 768.4h4.3v4.3h-4.3zM454.7 764.3h4.3v4.3h-4.3zM447.1 760.1h4.3v4.3h-4.3zM451.9 751.0h4.3v4.3h-4.3zM453.0 769.6h4.3v4.3h-4.3zM451.2 766.0h4.3v4.3h-4.3zM450.3 762.9h4.3v4.3h-4.3zM450.3 758.8h4.3v4.3h-4.3zM450.3 769.3h4.3v4.3h-4.3zM445.5 763.7h4.3v4.3h-4.3z" fill="#0B8F4C"/>
<path d="M471.89 744.72V753.40M471.89 762.33V766.27M468.39 744.72h7M468.39 766.27h7" stroke="#000" stroke-width="1" fill="none"/>
<rect x="465.74" y="753.40" width="12.30" height="8.93" fill="#fff" stroke="#000" stroke-width="1"/>
<line x1="465.74" x2="478.04" y1="756.55" y2="756.55" stroke="#000" stroke-width="1"/>
<path d="M471.9 744.7h.01M476.7 766.3h.01M470.1 765.2h.01M476.7 761.2h.01M476.7 753.8h.01M471.9 753.4h.01M471.2 763.5h.01M473.5 759.0h.01M470.8 756.1h.01M475.1 746.0h.01M474.1 763.1h.01M471.6 761.3h.01M468.7 755.3h.01M475.1 750.4h.01M468.7 763.1h.01M467.1 762.3h.01M468.2 756.3h.01M471.9 749.0h.01M476.5 762.4h.01M470.3 760.9h.01" stroke="#F0922E" stroke-width="4.5" stroke-linecap="round" fill="none"/>
<path d="M491.33 738.94V747.35M491.33 763.12V775.47M487.83 738.94h7M487.83 775.47h7" stroke="#000" stroke-width="1" fill="none"/>
<rect x="485.18" y="747.35" width="12.30" height="15.77" fill="#fff" stroke="#000" stroke-width="1"/>
<line x1="485.18" x2="497.48" y1="755.76" y2="755.76" stroke="#000" stroke-width="1"/>
<path d="M489.2 736.8h4.3v4.3h-4.3zM489.2 773.3h4.3v4.3h-4.3zM487.6 763.8h4.3v4.3h-4.3zM486.0 755.5h4.3v4.3h-4.3zM489.2 748.3h4.3v4.3h-4.3zM484.4 737.9h4.3v4.3h-4.3zM490.8 766.5h4.3v4.3h-4.3zM484.4 761.0h4.3v4.3h-4.3zM489.2 753.0h4.3v4.3h-4.3zM490.8 745.2h4.3v4.3h-4.3zM493.3 763.3h4.3v4.3h-4.3zM489.2 760.8h4.3v4.3h-4.3zM484.4 749.2h4.3v4.3h-4.3zM489.2 741.8h4.3v4.3h-4.3zM494.0 761.5h4.3v4.3h-4.3zM492.4 754.7h4.3v4.3h-4.3zM492.4 750.1h4.3v4.3h-4.3zM494.0 737.5h4.3v4.3h-4.3zM493.2 762.5h4.3v4.3h-4.3zM494.7 756.4h4.3v4.3h-4.3z" fill="#0B8F4C"/>
<path d="M381.77 732.41V831.18H503.16" stroke="#000" stroke-width="1.25" fill="none"/>
<line x1="377.37" x2="381.77" y1="831.18" y2="831.18" stroke="#000" stroke-width="1.1"/>
<text x="375.97" y="835.03" font-size="10.9" text-anchor="end" font-weight="normal" font-style="normal" fill="#000">0.00</text>
<line x1="377.37" x2="381.77" y1="798.42" y2="798.42" stroke="#000" stroke-width="1.1"/>
<text x="375.97" y="802.27" font-size="10.9" text-anchor="end" font-weight="normal" font-style="normal" fill="#000">0.05</text>
<line x1="377.37" x2="381.77" y1="765.67" y2="765.67" stroke="#000" stroke-width="1.1"/>
<text x="375.97" y="769.52" font-size="10.9" text-anchor="end" font-weight="normal" font-style="normal" fill="#000">0.10</text>
<line x1="377.37" x2="381.77" y1="732.91" y2="732.91" stroke="#000" stroke-width="1.1"/>
<text x="375.97" y="736.76" font-size="10.9" text-anchor="end" font-weight="normal" font-style="normal" fill="#000">0.15</text>
<path d="M392.28 733.51V727.13H414.87V733.51" stroke="#000" stroke-width="1.15" fill="none"/>
<path d="M429.59 733.51V727.13H452.45V733.51" stroke="#000" stroke-width="1.15" fill="none"/>
<path d="M471.36 733.51V727.13H494.49V733.51" stroke="#000" stroke-width="1.15" fill="none"/>
<text x="402.79" y="722.06" font-size="10.3" text-anchor="middle" font-weight="normal" font-style="normal" fill="#000">0.0222</text>
<text x="441.41" y="722.06" font-size="10.3" text-anchor="middle" font-weight="normal" font-style="normal" fill="#000">0.0001</text>
<text x="483.45" y="722.06" font-size="10.3" text-anchor="middle" font-weight="normal" font-style="normal" fill="#000">ns</text>
<text x="404.63" y="844.35" font-size="11" text-anchor="middle" font-weight="normal" font-style="normal" fill="#000">7M</text>
<text x="444.04" y="844.35" font-size="11" text-anchor="middle" font-weight="normal" font-style="normal" fill="#000">12M</text>
<text x="483.45" y="844.35" font-size="11" text-anchor="middle" font-weight="normal" font-style="normal" fill="#000">20M</text>
<text x="349.14" y="782.03" font-size="10.7" text-anchor="middle" font-weight="normal" font-style="normal" fill="#000" transform="rotate(-90 349.14 782.03)">DHI</text>
<text x="354.71" y="712.42" font-size="14.5" text-anchor="start" font-weight="bold" font-style="normal" fill="#000">P</text>
<circle cx="342.8" cy="28.1" r="3.9" fill="#F0922E" stroke="#6b4a20" stroke-width="0.6"/>
<text x="352.30" y="32.80" font-size="13.3" text-anchor="start" font-weight="normal" font-style="normal" fill="#000">WT</text>
<rect x="382" y="24.0" width="8" height="8.2" fill="#0B8F4C" stroke="#0a5a30" stroke-width="0.5"/>
<text x="394.4" y="32.8" font-size="13.3" fill="#000"><tspan font-style="italic">Opa1</tspan>cKO</text>
<circle cx="536.1" cy="729.1" r="3.9" fill="#F0922E" stroke="#6b4a20" stroke-width="0.6"/>
<text x="545.30" y="733.90" font-size="13.3" text-anchor="start" font-weight="normal" font-style="normal" fill="#000">WT</text>
<rect x="574.6" y="725.0" width="8" height="8.2" fill="#0B8F4C" stroke="#0a5a30" stroke-width="0.5"/>
<text x="587" y="733.9" font-size="13.3" fill="#000"><tspan font-style="italic">Opa1</tspan>cKO</text>
</svg>
</body></html>
